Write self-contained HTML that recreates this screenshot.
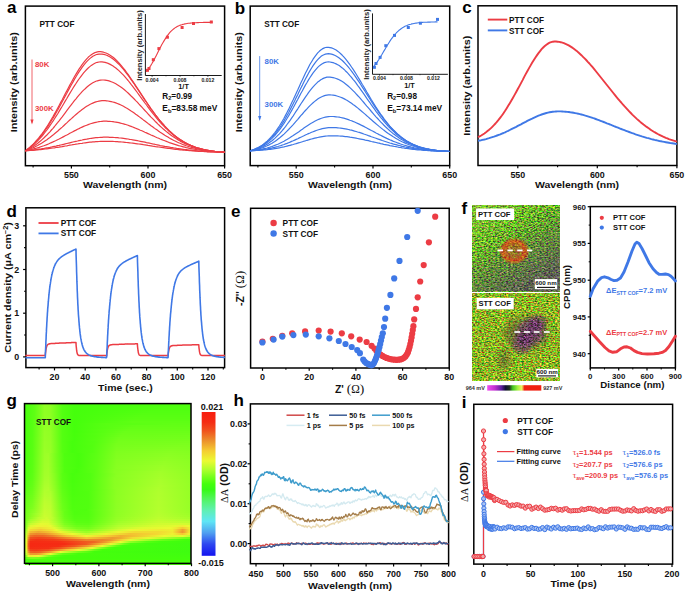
<!DOCTYPE html><html><head><meta charset="utf-8"><style>html,body{margin:0;padding:0;background:#fff;}svg{display:block;font-family:"Liberation Sans",sans-serif;font-weight:bold;}</style></head><body><svg width="685" height="592" viewBox="0 0 685 592"><defs><filter id="nA" x="0" y="0" width="100%" height="100%" color-interpolation-filters="sRGB"><feTurbulence type="fractalNoise" baseFrequency="0.45 0.8" numOctaves="2" seed="11"/><feColorMatrix type="matrix" values="1.0 1.0 0.5 0 -0.84  -0.4 1.6 -0.8 0 0.49  0 0.2 0.8 0 -0.34 0 0 0 0 1"/></filter><filter id="nB" x="0" y="0" width="100%" height="100%" color-interpolation-filters="sRGB"><feTurbulence type="fractalNoise" baseFrequency="0.45 0.8" numOctaves="2" seed="23"/><feColorMatrix type="matrix" values="1.4 0.9 0 0 -0.6  -0.6 1.4 -0.4 0 0.5  0 0.2 0.5 0 -0.2 0 0 0 0 1"/></filter><filter id="nP" x="0" y="0" width="100%" height="100%" color-interpolation-filters="sRGB"><feTurbulence type="fractalNoise" baseFrequency="0.45 0.8" numOctaves="2" seed="37"/><feColorMatrix type="matrix" values="0 1.5 0 0 -0.37  0.4 0.6 0 0 -0.38  0 1.6 0 0 -0.35 0 0 0 0 1"/></filter><filter id="nR" x="0" y="0" width="100%" height="100%" color-interpolation-filters="sRGB"><feTurbulence type="fractalNoise" baseFrequency="0.45 0.8" numOctaves="2" seed="41"/><feColorMatrix type="matrix" values="0 0.3 0 0 0.79  -0.5 1.0 0 0 0.02  0 0 0 0 0.08 0 0 0 0 1"/></filter><filter id="nD" x="0" y="0" width="100%" height="100%" color-interpolation-filters="sRGB"><feTurbulence type="fractalNoise" baseFrequency="0.45 0.8" numOctaves="2" seed="53"/><feColorMatrix type="matrix" values="0 0.8 0 0 -0.05  0 0.9 -0.4 0 -0.01  0 0.8 0.5 0 -0.25 0 0 0 0 1"/></filter><filter id="nK" x="0" y="0" width="100%" height="100%" color-interpolation-filters="sRGB"><feTurbulence type="fractalNoise" baseFrequency="0.45 0.8" numOctaves="2" seed="59"/><feColorMatrix type="matrix" values="0.3 0.6 0.3 0 -0.25  0 0.8 0 0 -0.1  0.3 0.4 0.3 0 -0.3 0 0 0 0 1"/></filter><radialGradient id="mRing"><stop offset="0" stop-color="#fff" stop-opacity="0.35"/><stop offset="0.45" stop-color="#fff" stop-opacity="0.45"/><stop offset="0.72" stop-color="#fff" stop-opacity="0.75"/><stop offset="0.88" stop-color="#fff" stop-opacity="0.4"/><stop offset="1" stop-color="#fff" stop-opacity="0"/></radialGradient><mask id="mkRing"><ellipse cx="514.2" cy="251.0" rx="15.5" ry="13.5" fill="url(#mRing)"/></mask><linearGradient id="mShadeA" x1="0" y1="0" x2="0.6" y2="1"><stop offset="0.4" stop-color="#fff" stop-opacity="0"/><stop offset="1" stop-color="#fff" stop-opacity="0.7"/></linearGradient><linearGradient id="lightA" x1="0" y1="0" x2="0.8" y2="1"><stop offset="0" stop-color="#c8f050" stop-opacity="0.28"/><stop offset="0.5" stop-color="#c8f050" stop-opacity="0"/></linearGradient><mask id="mkShadeA"><rect x="472.4" y="205.1" width="87.4" height="86.3" fill="url(#mShadeA)"/></mask><radialGradient id="mBlob"><stop offset="0" stop-color="#fff" stop-opacity="0.75"/><stop offset="0.6" stop-color="#fff" stop-opacity="0.55"/><stop offset="1" stop-color="#fff" stop-opacity="0"/></radialGradient><mask id="mkBlob"><ellipse cx="531" cy="332" rx="18" ry="17" fill="url(#mBlob)"/><ellipse cx="522" cy="344" rx="12" ry="12" fill="url(#mBlob)" opacity="0.9"/><ellipse cx="538" cy="322" rx="11" ry="9" fill="url(#mBlob)" opacity="0.7"/></mask><radialGradient id="mBlob2"><stop offset="0" stop-color="#fff" stop-opacity="0.6"/><stop offset="1" stop-color="#fff" stop-opacity="0"/></radialGradient><mask id="mkBlob2"><ellipse cx="504" cy="360" rx="10" ry="14" fill="url(#mBlob2)"/><ellipse cx="512" cy="333" rx="12" ry="20" fill="url(#mBlob2)"/><ellipse cx="530" cy="333" rx="26" ry="24" fill="url(#mBlob2)"/></mask><linearGradient id="afmcb" x1="0" x2="1" y1="0" y2="0"><stop offset="0" stop-color="#f050f0"/><stop offset="0.14" stop-color="#c030d0"/><stop offset="0.26" stop-color="#6020a0"/><stop offset="0.34" stop-color="#101030"/><stop offset="0.41" stop-color="#203020"/><stop offset="0.47" stop-color="#40c020"/><stop offset="0.56" stop-color="#a0f040"/><stop offset="0.64" stop-color="#f0f060"/><stop offset="0.69" stop-color="#f02010"/><stop offset="1" stop-color="#f02010"/></linearGradient><linearGradient id="g0" x1="0" x2="1" y1="0" y2="0"><stop offset="0.000" stop-color="#46ff0d"/><stop offset="0.060" stop-color="#5eff14"/><stop offset="0.120" stop-color="#8eff23"/><stop offset="0.156" stop-color="#8bff22"/><stop offset="0.228" stop-color="#53ff10"/><stop offset="0.300" stop-color="#45ff0c"/><stop offset="1.000" stop-color="#4dff0f"/></linearGradient><linearGradient id="g1" x1="0" x2="1" y1="0" y2="0"><stop offset="0.000" stop-color="#46ff0d"/><stop offset="0.060" stop-color="#5eff14"/><stop offset="0.120" stop-color="#8fff23"/><stop offset="0.156" stop-color="#8bff22"/><stop offset="0.228" stop-color="#53ff10"/><stop offset="0.300" stop-color="#45ff0c"/><stop offset="0.925" stop-color="#4fff0f"/><stop offset="1.000" stop-color="#4fff0f"/></linearGradient><linearGradient id="g2" x1="0" x2="1" y1="0" y2="0"><stop offset="0.000" stop-color="#46ff0d"/><stop offset="0.060" stop-color="#5eff14"/><stop offset="0.120" stop-color="#8fff23"/><stop offset="0.156" stop-color="#8cff22"/><stop offset="0.228" stop-color="#53ff11"/><stop offset="0.300" stop-color="#45ff0c"/><stop offset="0.853" stop-color="#50ff10"/><stop offset="1.000" stop-color="#50ff10"/></linearGradient><linearGradient id="g3" x1="0" x2="1" y1="0" y2="0"><stop offset="0.000" stop-color="#46ff0d"/><stop offset="0.060" stop-color="#5eff14"/><stop offset="0.120" stop-color="#8fff23"/><stop offset="0.156" stop-color="#8cff22"/><stop offset="0.228" stop-color="#53ff11"/><stop offset="0.300" stop-color="#45ff0c"/><stop offset="0.793" stop-color="#52ff10"/><stop offset="1.000" stop-color="#51ff10"/></linearGradient><linearGradient id="g4" x1="0" x2="1" y1="0" y2="0"><stop offset="0.000" stop-color="#46ff0d"/><stop offset="0.060" stop-color="#5eff14"/><stop offset="0.120" stop-color="#8fff23"/><stop offset="0.156" stop-color="#8cff22"/><stop offset="0.228" stop-color="#53ff11"/><stop offset="0.300" stop-color="#45ff0c"/><stop offset="0.757" stop-color="#53ff11"/><stop offset="1.000" stop-color="#53ff11"/></linearGradient><linearGradient id="g5" x1="0" x2="1" y1="0" y2="0"><stop offset="0.000" stop-color="#46ff0d"/><stop offset="0.060" stop-color="#5eff14"/><stop offset="0.120" stop-color="#90ff23"/><stop offset="0.156" stop-color="#8dff22"/><stop offset="0.228" stop-color="#53ff11"/><stop offset="0.300" stop-color="#45ff0c"/><stop offset="0.721" stop-color="#55ff11"/><stop offset="1.000" stop-color="#55ff11"/></linearGradient><linearGradient id="g6" x1="0" x2="1" y1="0" y2="0"><stop offset="0.000" stop-color="#46ff0d"/><stop offset="0.060" stop-color="#5eff14"/><stop offset="0.120" stop-color="#90ff23"/><stop offset="0.156" stop-color="#8dff22"/><stop offset="0.228" stop-color="#53ff11"/><stop offset="0.300" stop-color="#45ff0c"/><stop offset="0.697" stop-color="#57ff12"/><stop offset="1.000" stop-color="#57ff12"/></linearGradient><linearGradient id="g7" x1="0" x2="1" y1="0" y2="0"><stop offset="0.000" stop-color="#46ff0d"/><stop offset="0.060" stop-color="#5fff14"/><stop offset="0.120" stop-color="#90ff24"/><stop offset="0.156" stop-color="#8dff23"/><stop offset="0.228" stop-color="#53ff11"/><stop offset="0.300" stop-color="#45ff0c"/><stop offset="0.673" stop-color="#59ff12"/><stop offset="1.000" stop-color="#59ff12"/></linearGradient><linearGradient id="g8" x1="0" x2="1" y1="0" y2="0"><stop offset="0.000" stop-color="#46ff0d"/><stop offset="0.048" stop-color="#56ff12"/><stop offset="0.120" stop-color="#91ff24"/><stop offset="0.156" stop-color="#8eff23"/><stop offset="0.228" stop-color="#53ff11"/><stop offset="0.300" stop-color="#45ff0c"/><stop offset="0.661" stop-color="#5bff13"/><stop offset="1.000" stop-color="#5bff13"/></linearGradient><linearGradient id="g9" x1="0" x2="1" y1="0" y2="0"><stop offset="0.000" stop-color="#46ff0d"/><stop offset="0.048" stop-color="#57ff12"/><stop offset="0.120" stop-color="#91ff24"/><stop offset="0.156" stop-color="#8eff23"/><stop offset="0.228" stop-color="#53ff11"/><stop offset="0.300" stop-color="#45ff0c"/><stop offset="0.649" stop-color="#5eff14"/><stop offset="1.000" stop-color="#5eff14"/></linearGradient><linearGradient id="g10" x1="0" x2="1" y1="0" y2="0"><stop offset="0.000" stop-color="#46ff0d"/><stop offset="0.048" stop-color="#57ff12"/><stop offset="0.120" stop-color="#92ff24"/><stop offset="0.156" stop-color="#8eff23"/><stop offset="0.228" stop-color="#53ff11"/><stop offset="0.300" stop-color="#45ff0c"/><stop offset="0.492" stop-color="#58ff12"/><stop offset="0.889" stop-color="#61ff15"/><stop offset="1.000" stop-color="#60ff15"/></linearGradient><linearGradient id="g11" x1="0" x2="1" y1="0" y2="0"><stop offset="0.000" stop-color="#46ff0d"/><stop offset="0.048" stop-color="#57ff12"/><stop offset="0.120" stop-color="#92ff24"/><stop offset="0.156" stop-color="#8fff23"/><stop offset="0.228" stop-color="#53ff11"/><stop offset="0.300" stop-color="#45ff0c"/><stop offset="0.468" stop-color="#56ff12"/><stop offset="0.673" stop-color="#63ff16"/><stop offset="1.000" stop-color="#63ff15"/></linearGradient><linearGradient id="g12" x1="0" x2="1" y1="0" y2="0"><stop offset="0.000" stop-color="#46ff0d"/><stop offset="0.048" stop-color="#57ff12"/><stop offset="0.120" stop-color="#93ff24"/><stop offset="0.156" stop-color="#8fff23"/><stop offset="0.228" stop-color="#53ff11"/><stop offset="0.300" stop-color="#45ff0c"/><stop offset="0.456" stop-color="#55ff11"/><stop offset="0.637" stop-color="#65ff16"/><stop offset="1.000" stop-color="#66ff16"/></linearGradient><linearGradient id="g13" x1="0" x2="1" y1="0" y2="0"><stop offset="0.000" stop-color="#46ff0d"/><stop offset="0.048" stop-color="#57ff12"/><stop offset="0.120" stop-color="#93ff24"/><stop offset="0.156" stop-color="#90ff23"/><stop offset="0.228" stop-color="#54ff11"/><stop offset="0.300" stop-color="#45ff0c"/><stop offset="0.456" stop-color="#57ff12"/><stop offset="0.625" stop-color="#68ff17"/><stop offset="1.000" stop-color="#68ff17"/></linearGradient><linearGradient id="g14" x1="0" x2="1" y1="0" y2="0"><stop offset="0.000" stop-color="#47ff0d"/><stop offset="0.048" stop-color="#57ff12"/><stop offset="0.120" stop-color="#94ff25"/><stop offset="0.156" stop-color="#91ff24"/><stop offset="0.228" stop-color="#54ff11"/><stop offset="0.300" stop-color="#45ff0c"/><stop offset="0.444" stop-color="#55ff11"/><stop offset="0.601" stop-color="#6aff18"/><stop offset="1.000" stop-color="#6bff18"/></linearGradient><linearGradient id="g15" x1="0" x2="1" y1="0" y2="0"><stop offset="0.000" stop-color="#47ff0d"/><stop offset="0.048" stop-color="#57ff12"/><stop offset="0.120" stop-color="#95ff25"/><stop offset="0.156" stop-color="#91ff24"/><stop offset="0.228" stop-color="#54ff11"/><stop offset="0.300" stop-color="#46ff0c"/><stop offset="0.444" stop-color="#57ff12"/><stop offset="0.589" stop-color="#6cff18"/><stop offset="1.000" stop-color="#6eff19"/></linearGradient><linearGradient id="g16" x1="0" x2="1" y1="0" y2="0"><stop offset="0.000" stop-color="#47ff0d"/><stop offset="0.048" stop-color="#57ff12"/><stop offset="0.120" stop-color="#95ff25"/><stop offset="0.156" stop-color="#92ff24"/><stop offset="0.228" stop-color="#54ff11"/><stop offset="0.300" stop-color="#46ff0c"/><stop offset="0.432" stop-color="#55ff11"/><stop offset="0.577" stop-color="#6eff19"/><stop offset="1.000" stop-color="#71ff1a"/></linearGradient><linearGradient id="g17" x1="0" x2="1" y1="0" y2="0"><stop offset="0.000" stop-color="#47ff0d"/><stop offset="0.048" stop-color="#58ff12"/><stop offset="0.120" stop-color="#96ff25"/><stop offset="0.156" stop-color="#92ff24"/><stop offset="0.228" stop-color="#54ff11"/><stop offset="0.300" stop-color="#46ff0d"/><stop offset="0.432" stop-color="#56ff11"/><stop offset="0.565" stop-color="#70ff1a"/><stop offset="1.000" stop-color="#73ff1b"/></linearGradient><linearGradient id="g18" x1="0" x2="1" y1="0" y2="0"><stop offset="0.000" stop-color="#47ff0d"/><stop offset="0.048" stop-color="#58ff12"/><stop offset="0.120" stop-color="#96ff25"/><stop offset="0.156" stop-color="#93ff24"/><stop offset="0.228" stop-color="#54ff11"/><stop offset="0.300" stop-color="#46ff0d"/><stop offset="0.432" stop-color="#57ff12"/><stop offset="0.565" stop-color="#73ff1a"/><stop offset="1.000" stop-color="#76ff1b"/></linearGradient><linearGradient id="g19" x1="0" x2="1" y1="0" y2="0"><stop offset="0.000" stop-color="#47ff0d"/><stop offset="0.048" stop-color="#58ff12"/><stop offset="0.120" stop-color="#97ff26"/><stop offset="0.156" stop-color="#94ff25"/><stop offset="0.228" stop-color="#54ff11"/><stop offset="0.288" stop-color="#46ff0d"/><stop offset="0.420" stop-color="#54ff11"/><stop offset="0.565" stop-color="#75ff1b"/><stop offset="1.000" stop-color="#79ff1c"/></linearGradient><linearGradient id="g20" x1="0" x2="1" y1="0" y2="0"><stop offset="0.000" stop-color="#47ff0d"/><stop offset="0.048" stop-color="#58ff12"/><stop offset="0.120" stop-color="#98ff26"/><stop offset="0.156" stop-color="#94ff25"/><stop offset="0.228" stop-color="#55ff11"/><stop offset="0.288" stop-color="#46ff0d"/><stop offset="0.420" stop-color="#55ff11"/><stop offset="0.553" stop-color="#76ff1b"/><stop offset="0.961" stop-color="#7cff1d"/><stop offset="1.000" stop-color="#7bff1d"/></linearGradient><linearGradient id="g21" x1="0" x2="1" y1="0" y2="0"><stop offset="0.000" stop-color="#47ff0d"/><stop offset="0.048" stop-color="#58ff12"/><stop offset="0.120" stop-color="#98ff26"/><stop offset="0.156" stop-color="#95ff25"/><stop offset="0.228" stop-color="#55ff11"/><stop offset="0.288" stop-color="#46ff0d"/><stop offset="0.408" stop-color="#53ff10"/><stop offset="0.553" stop-color="#78ff1c"/><stop offset="0.925" stop-color="#7fff1e"/><stop offset="1.000" stop-color="#7eff1e"/></linearGradient><linearGradient id="g22" x1="0" x2="1" y1="0" y2="0"><stop offset="0.000" stop-color="#47ff0d"/><stop offset="0.048" stop-color="#58ff12"/><stop offset="0.120" stop-color="#99ff26"/><stop offset="0.156" stop-color="#95ff25"/><stop offset="0.228" stop-color="#55ff11"/><stop offset="0.288" stop-color="#46ff0d"/><stop offset="0.408" stop-color="#53ff11"/><stop offset="0.553" stop-color="#7aff1d"/><stop offset="0.913" stop-color="#82ff1f"/><stop offset="1.000" stop-color="#80ff1f"/></linearGradient><linearGradient id="g23" x1="0" x2="1" y1="0" y2="0"><stop offset="0.000" stop-color="#47ff0d"/><stop offset="0.048" stop-color="#59ff12"/><stop offset="0.120" stop-color="#9aff26"/><stop offset="0.156" stop-color="#96ff25"/><stop offset="0.228" stop-color="#55ff11"/><stop offset="0.288" stop-color="#46ff0d"/><stop offset="0.408" stop-color="#54ff11"/><stop offset="0.553" stop-color="#7cff1d"/><stop offset="0.889" stop-color="#85ff20"/><stop offset="1.000" stop-color="#82ff1f"/></linearGradient><linearGradient id="g24" x1="0" x2="1" y1="0" y2="0"><stop offset="0.000" stop-color="#47ff0d"/><stop offset="0.048" stop-color="#59ff12"/><stop offset="0.120" stop-color="#9aff27"/><stop offset="0.156" stop-color="#97ff25"/><stop offset="0.228" stop-color="#55ff11"/><stop offset="0.288" stop-color="#46ff0d"/><stop offset="0.408" stop-color="#54ff11"/><stop offset="0.553" stop-color="#7eff1e"/><stop offset="0.877" stop-color="#88ff21"/><stop offset="1.000" stop-color="#84ff20"/></linearGradient><linearGradient id="g25" x1="0" x2="1" y1="0" y2="0"><stop offset="0.000" stop-color="#47ff0d"/><stop offset="0.048" stop-color="#59ff12"/><stop offset="0.120" stop-color="#9bff27"/><stop offset="0.144" stop-color="#9dff28"/><stop offset="0.192" stop-color="#74ff1b"/><stop offset="0.240" stop-color="#4fff0f"/><stop offset="0.324" stop-color="#47ff0d"/><stop offset="0.432" stop-color="#5cff14"/><stop offset="0.553" stop-color="#80ff1e"/><stop offset="0.865" stop-color="#8bff22"/><stop offset="1.000" stop-color="#86ff20"/></linearGradient><linearGradient id="g26" x1="0" x2="1" y1="0" y2="0"><stop offset="0.000" stop-color="#47ff0d"/><stop offset="0.048" stop-color="#59ff13"/><stop offset="0.120" stop-color="#9cff27"/><stop offset="0.144" stop-color="#9eff28"/><stop offset="0.192" stop-color="#74ff1b"/><stop offset="0.240" stop-color="#4fff10"/><stop offset="0.324" stop-color="#47ff0d"/><stop offset="0.432" stop-color="#5dff14"/><stop offset="0.553" stop-color="#81ff1f"/><stop offset="0.865" stop-color="#8dff23"/><stop offset="1.000" stop-color="#88ff21"/></linearGradient><linearGradient id="g27" x1="0" x2="1" y1="0" y2="0"><stop offset="0.000" stop-color="#47ff0d"/><stop offset="0.048" stop-color="#5aff13"/><stop offset="0.120" stop-color="#9cff27"/><stop offset="0.144" stop-color="#9fff28"/><stop offset="0.192" stop-color="#74ff1b"/><stop offset="0.240" stop-color="#50ff10"/><stop offset="0.324" stop-color="#47ff0d"/><stop offset="0.432" stop-color="#5dff14"/><stop offset="0.553" stop-color="#82ff1f"/><stop offset="0.853" stop-color="#90ff23"/><stop offset="1.000" stop-color="#89ff21"/></linearGradient><linearGradient id="g28" x1="0" x2="1" y1="0" y2="0"><stop offset="0.000" stop-color="#48ff0d"/><stop offset="0.048" stop-color="#5aff13"/><stop offset="0.120" stop-color="#9dff27"/><stop offset="0.144" stop-color="#9fff28"/><stop offset="0.192" stop-color="#75ff1b"/><stop offset="0.240" stop-color="#50ff10"/><stop offset="0.324" stop-color="#47ff0d"/><stop offset="0.432" stop-color="#5eff14"/><stop offset="0.553" stop-color="#84ff20"/><stop offset="0.853" stop-color="#92ff24"/><stop offset="1.000" stop-color="#8bff22"/></linearGradient><linearGradient id="g29" x1="0" x2="1" y1="0" y2="0"><stop offset="0.000" stop-color="#48ff0d"/><stop offset="0.048" stop-color="#5aff13"/><stop offset="0.120" stop-color="#9dff28"/><stop offset="0.144" stop-color="#a0ff28"/><stop offset="0.192" stop-color="#75ff1b"/><stop offset="0.240" stop-color="#50ff10"/><stop offset="0.324" stop-color="#47ff0d"/><stop offset="0.432" stop-color="#5eff14"/><stop offset="0.553" stop-color="#85ff20"/><stop offset="0.841" stop-color="#95ff25"/><stop offset="1.000" stop-color="#8cff22"/></linearGradient><linearGradient id="g30" x1="0" x2="1" y1="0" y2="0"><stop offset="0.000" stop-color="#48ff0d"/><stop offset="0.048" stop-color="#5aff13"/><stop offset="0.120" stop-color="#9eff28"/><stop offset="0.144" stop-color="#a1ff29"/><stop offset="0.192" stop-color="#76ff1b"/><stop offset="0.240" stop-color="#50ff10"/><stop offset="0.324" stop-color="#47ff0d"/><stop offset="0.432" stop-color="#5fff14"/><stop offset="0.553" stop-color="#86ff20"/><stop offset="0.841" stop-color="#97ff26"/><stop offset="1.000" stop-color="#8dff23"/></linearGradient><linearGradient id="g31" x1="0" x2="1" y1="0" y2="0"><stop offset="0.000" stop-color="#48ff0d"/><stop offset="0.048" stop-color="#5bff13"/><stop offset="0.120" stop-color="#9fff28"/><stop offset="0.144" stop-color="#a1ff29"/><stop offset="0.192" stop-color="#76ff1b"/><stop offset="0.240" stop-color="#50ff10"/><stop offset="0.324" stop-color="#47ff0d"/><stop offset="0.432" stop-color="#5fff14"/><stop offset="0.553" stop-color="#87ff21"/><stop offset="0.829" stop-color="#9aff27"/><stop offset="1.000" stop-color="#8eff23"/></linearGradient><linearGradient id="g32" x1="0" x2="1" y1="0" y2="0"><stop offset="0.000" stop-color="#49ff0d"/><stop offset="0.048" stop-color="#5bff13"/><stop offset="0.120" stop-color="#9fff28"/><stop offset="0.144" stop-color="#a2ff29"/><stop offset="0.192" stop-color="#77ff1c"/><stop offset="0.240" stop-color="#51ff10"/><stop offset="0.324" stop-color="#48ff0d"/><stop offset="0.432" stop-color="#5fff14"/><stop offset="0.553" stop-color="#88ff21"/><stop offset="0.829" stop-color="#9cff27"/><stop offset="1.000" stop-color="#8fff23"/></linearGradient><linearGradient id="g33" x1="0" x2="1" y1="0" y2="0"><stop offset="0.000" stop-color="#49ff0e"/><stop offset="0.048" stop-color="#5cff13"/><stop offset="0.120" stop-color="#a0ff28"/><stop offset="0.144" stop-color="#a3ff29"/><stop offset="0.192" stop-color="#77ff1c"/><stop offset="0.240" stop-color="#51ff10"/><stop offset="0.312" stop-color="#47ff0d"/><stop offset="0.420" stop-color="#5bff13"/><stop offset="0.541" stop-color="#86ff20"/><stop offset="0.829" stop-color="#9eff28"/><stop offset="1.000" stop-color="#90ff24"/></linearGradient><linearGradient id="g34" x1="0" x2="1" y1="0" y2="0"><stop offset="0.000" stop-color="#4aff0e"/><stop offset="0.048" stop-color="#5cff13"/><stop offset="0.120" stop-color="#a1ff29"/><stop offset="0.144" stop-color="#a3ff29"/><stop offset="0.192" stop-color="#78ff1c"/><stop offset="0.240" stop-color="#51ff10"/><stop offset="0.312" stop-color="#47ff0d"/><stop offset="0.420" stop-color="#5bff13"/><stop offset="0.541" stop-color="#87ff21"/><stop offset="0.817" stop-color="#a1ff29"/><stop offset="1.000" stop-color="#91ff24"/></linearGradient><linearGradient id="g35" x1="0" x2="1" y1="0" y2="0"><stop offset="0.000" stop-color="#4aff0e"/><stop offset="0.048" stop-color="#5dff14"/><stop offset="0.120" stop-color="#a2ff29"/><stop offset="0.144" stop-color="#a4ff2a"/><stop offset="0.180" stop-color="#86ff20"/><stop offset="0.228" stop-color="#58ff12"/><stop offset="0.288" stop-color="#47ff0d"/><stop offset="0.396" stop-color="#53ff11"/><stop offset="0.553" stop-color="#89ff21"/><stop offset="0.817" stop-color="#a3ff29"/><stop offset="1.000" stop-color="#92ff24"/></linearGradient><linearGradient id="g36" x1="0" x2="1" y1="0" y2="0"><stop offset="0.000" stop-color="#4bff0e"/><stop offset="0.048" stop-color="#5eff14"/><stop offset="0.120" stop-color="#a3ff29"/><stop offset="0.144" stop-color="#a5ff2a"/><stop offset="0.180" stop-color="#87ff21"/><stop offset="0.228" stop-color="#59ff12"/><stop offset="0.288" stop-color="#48ff0d"/><stop offset="0.396" stop-color="#53ff11"/><stop offset="0.553" stop-color="#8aff22"/><stop offset="0.817" stop-color="#a4ff2a"/><stop offset="1.000" stop-color="#93ff24"/></linearGradient><linearGradient id="g37" x1="0" x2="1" y1="0" y2="0"><stop offset="0.000" stop-color="#4cff0f"/><stop offset="0.048" stop-color="#5fff14"/><stop offset="0.120" stop-color="#a4ff2a"/><stop offset="0.144" stop-color="#a7ff2a"/><stop offset="0.180" stop-color="#88ff21"/><stop offset="0.228" stop-color="#59ff13"/><stop offset="0.288" stop-color="#48ff0d"/><stop offset="0.396" stop-color="#53ff11"/><stop offset="0.541" stop-color="#88ff21"/><stop offset="0.817" stop-color="#a6ff2a"/><stop offset="1.000" stop-color="#93ff24"/></linearGradient><linearGradient id="g38" x1="0" x2="1" y1="0" y2="0"><stop offset="0.000" stop-color="#4dff0f"/><stop offset="0.048" stop-color="#60ff15"/><stop offset="0.120" stop-color="#a5ff2a"/><stop offset="0.144" stop-color="#a8ff2b"/><stop offset="0.180" stop-color="#89ff21"/><stop offset="0.228" stop-color="#5aff13"/><stop offset="0.288" stop-color="#48ff0d"/><stop offset="0.396" stop-color="#54ff11"/><stop offset="0.541" stop-color="#89ff21"/><stop offset="0.817" stop-color="#a8ff2b"/><stop offset="1.000" stop-color="#94ff25"/></linearGradient><linearGradient id="g39" x1="0" x2="1" y1="0" y2="0"><stop offset="0.000" stop-color="#4fff0f"/><stop offset="0.048" stop-color="#62ff15"/><stop offset="0.120" stop-color="#a7ff2b"/><stop offset="0.144" stop-color="#a9ff2b"/><stop offset="0.180" stop-color="#8bff22"/><stop offset="0.228" stop-color="#5bff13"/><stop offset="0.288" stop-color="#48ff0d"/><stop offset="0.396" stop-color="#54ff11"/><stop offset="0.541" stop-color="#89ff21"/><stop offset="0.817" stop-color="#a9ff2b"/><stop offset="1.000" stop-color="#94ff25"/></linearGradient><linearGradient id="g40" x1="0" x2="1" y1="0" y2="0"><stop offset="0.000" stop-color="#50ff10"/><stop offset="0.048" stop-color="#63ff16"/><stop offset="0.120" stop-color="#a9ff2b"/><stop offset="0.144" stop-color="#abff2c"/><stop offset="0.180" stop-color="#8cff22"/><stop offset="0.228" stop-color="#5cff13"/><stop offset="0.288" stop-color="#49ff0e"/><stop offset="0.396" stop-color="#54ff11"/><stop offset="0.541" stop-color="#89ff21"/><stop offset="0.817" stop-color="#aaff2c"/><stop offset="1.000" stop-color="#95ff25"/></linearGradient><linearGradient id="g41" x1="0" x2="1" y1="0" y2="0"><stop offset="0.000" stop-color="#52ff10"/><stop offset="0.048" stop-color="#65ff16"/><stop offset="0.120" stop-color="#abff2c"/><stop offset="0.144" stop-color="#adff2c"/><stop offset="0.180" stop-color="#8eff23"/><stop offset="0.228" stop-color="#5dff14"/><stop offset="0.288" stop-color="#49ff0e"/><stop offset="0.396" stop-color="#54ff11"/><stop offset="0.541" stop-color="#89ff21"/><stop offset="0.817" stop-color="#acff2c"/><stop offset="1.000" stop-color="#95ff25"/></linearGradient><linearGradient id="g42" x1="0" x2="1" y1="0" y2="0"><stop offset="0.000" stop-color="#54ff11"/><stop offset="0.048" stop-color="#67ff17"/><stop offset="0.120" stop-color="#adff2c"/><stop offset="0.144" stop-color="#afff2d"/><stop offset="0.180" stop-color="#90ff23"/><stop offset="0.228" stop-color="#5eff14"/><stop offset="0.288" stop-color="#4aff0e"/><stop offset="0.396" stop-color="#54ff11"/><stop offset="0.541" stop-color="#8aff21"/><stop offset="0.805" stop-color="#adff2c"/><stop offset="1.000" stop-color="#95ff25"/></linearGradient><linearGradient id="g43" x1="0" x2="1" y1="0" y2="0"><stop offset="0.000" stop-color="#56ff12"/><stop offset="0.048" stop-color="#69ff17"/><stop offset="0.120" stop-color="#afff2d"/><stop offset="0.144" stop-color="#b1ff2d"/><stop offset="0.180" stop-color="#92ff24"/><stop offset="0.228" stop-color="#60ff15"/><stop offset="0.288" stop-color="#4aff0e"/><stop offset="0.396" stop-color="#54ff11"/><stop offset="0.553" stop-color="#8cff22"/><stop offset="0.805" stop-color="#aeff2d"/><stop offset="1.000" stop-color="#96ff25"/></linearGradient><linearGradient id="g44" x1="0" x2="1" y1="0" y2="0"><stop offset="0.000" stop-color="#58ff12"/><stop offset="0.048" stop-color="#6bff18"/><stop offset="0.120" stop-color="#b1ff2d"/><stop offset="0.156" stop-color="#adff2c"/><stop offset="0.228" stop-color="#61ff15"/><stop offset="0.288" stop-color="#4bff0e"/><stop offset="0.384" stop-color="#51ff10"/><stop offset="0.553" stop-color="#8cff22"/><stop offset="0.805" stop-color="#afff2d"/><stop offset="1.000" stop-color="#96ff25"/></linearGradient><linearGradient id="g45" x1="0" x2="1" y1="0" y2="0"><stop offset="0.000" stop-color="#5aff13"/><stop offset="0.048" stop-color="#6dff19"/><stop offset="0.120" stop-color="#b3ff2d"/><stop offset="0.156" stop-color="#afff2d"/><stop offset="0.228" stop-color="#63ff15"/><stop offset="0.288" stop-color="#4bff0e"/><stop offset="0.384" stop-color="#51ff10"/><stop offset="0.553" stop-color="#8cff22"/><stop offset="0.805" stop-color="#b0ff2d"/><stop offset="1.000" stop-color="#96ff25"/></linearGradient><linearGradient id="g46" x1="0" x2="1" y1="0" y2="0"><stop offset="0.000" stop-color="#5dff14"/><stop offset="0.048" stop-color="#70ff19"/><stop offset="0.120" stop-color="#b5fe2e"/><stop offset="0.156" stop-color="#b1ff2d"/><stop offset="0.228" stop-color="#64ff16"/><stop offset="0.288" stop-color="#4cff0e"/><stop offset="0.384" stop-color="#51ff10"/><stop offset="0.553" stop-color="#8dff22"/><stop offset="0.805" stop-color="#b0ff2d"/><stop offset="1.000" stop-color="#96ff25"/></linearGradient><linearGradient id="g47" x1="0" x2="1" y1="0" y2="0"><stop offset="0.000" stop-color="#5fff14"/><stop offset="0.048" stop-color="#72ff1a"/><stop offset="0.120" stop-color="#b8fe2e"/><stop offset="0.156" stop-color="#b3ff2d"/><stop offset="0.228" stop-color="#66ff16"/><stop offset="0.288" stop-color="#4dff0f"/><stop offset="0.384" stop-color="#51ff10"/><stop offset="0.553" stop-color="#8dff22"/><stop offset="0.805" stop-color="#b1ff2d"/><stop offset="1.000" stop-color="#96ff25"/></linearGradient><linearGradient id="g48" x1="0" x2="1" y1="0" y2="0"><stop offset="0.000" stop-color="#61ff15"/><stop offset="0.048" stop-color="#75ff1b"/><stop offset="0.120" stop-color="#bafe2e"/><stop offset="0.156" stop-color="#b5fe2e"/><stop offset="0.228" stop-color="#67ff17"/><stop offset="0.288" stop-color="#4dff0f"/><stop offset="0.384" stop-color="#51ff10"/><stop offset="0.553" stop-color="#8dff22"/><stop offset="0.805" stop-color="#b1ff2d"/><stop offset="1.000" stop-color="#97ff25"/></linearGradient><linearGradient id="g49" x1="0" x2="1" y1="0" y2="0"><stop offset="0.000" stop-color="#63ff16"/><stop offset="0.048" stop-color="#77ff1c"/><stop offset="0.120" stop-color="#bcfe2e"/><stop offset="0.156" stop-color="#b7fe2e"/><stop offset="0.228" stop-color="#68ff17"/><stop offset="0.288" stop-color="#4eff0f"/><stop offset="0.384" stop-color="#51ff10"/><stop offset="0.553" stop-color="#8dff22"/><stop offset="0.805" stop-color="#b2ff2d"/><stop offset="1.000" stop-color="#97ff25"/></linearGradient><linearGradient id="g50" x1="0" x2="1" y1="0" y2="0"><stop offset="0.000" stop-color="#65ff16"/><stop offset="0.048" stop-color="#7aff1d"/><stop offset="0.120" stop-color="#befe2e"/><stop offset="0.156" stop-color="#b9fe2e"/><stop offset="0.228" stop-color="#6aff18"/><stop offset="0.288" stop-color="#4eff0f"/><stop offset="0.384" stop-color="#51ff10"/><stop offset="0.553" stop-color="#8dff23"/><stop offset="0.805" stop-color="#b2ff2d"/><stop offset="1.000" stop-color="#97ff26"/></linearGradient><linearGradient id="g51" x1="0" x2="1" y1="0" y2="0"><stop offset="0.000" stop-color="#67ff17"/><stop offset="0.048" stop-color="#7cff1d"/><stop offset="0.120" stop-color="#c0fe2e"/><stop offset="0.156" stop-color="#bbfe2e"/><stop offset="0.228" stop-color="#6bff18"/><stop offset="0.288" stop-color="#4fff0f"/><stop offset="0.384" stop-color="#51ff10"/><stop offset="0.553" stop-color="#8dff23"/><stop offset="0.805" stop-color="#b2ff2d"/><stop offset="1.000" stop-color="#97ff26"/></linearGradient><linearGradient id="g52" x1="0" x2="1" y1="0" y2="0"><stop offset="0.000" stop-color="#69ff17"/><stop offset="0.048" stop-color="#7fff1e"/><stop offset="0.120" stop-color="#c1fd2f"/><stop offset="0.156" stop-color="#bcfe2e"/><stop offset="0.228" stop-color="#6cff18"/><stop offset="0.288" stop-color="#4fff0f"/><stop offset="0.384" stop-color="#51ff10"/><stop offset="0.553" stop-color="#8dff23"/><stop offset="0.805" stop-color="#b3ff2d"/><stop offset="1.000" stop-color="#97ff26"/></linearGradient><linearGradient id="g53" x1="0" x2="1" y1="0" y2="0"><stop offset="0.000" stop-color="#6aff18"/><stop offset="0.060" stop-color="#8dff22"/><stop offset="0.120" stop-color="#c3fd2f"/><stop offset="0.156" stop-color="#befe2e"/><stop offset="0.228" stop-color="#6eff19"/><stop offset="0.288" stop-color="#50ff10"/><stop offset="0.372" stop-color="#4fff0f"/><stop offset="0.553" stop-color="#8eff23"/><stop offset="0.805" stop-color="#b3ff2d"/><stop offset="1.000" stop-color="#98ff26"/></linearGradient><linearGradient id="g54" x1="0" x2="1" y1="0" y2="0"><stop offset="0.000" stop-color="#6bff18"/><stop offset="0.060" stop-color="#90ff24"/><stop offset="0.120" stop-color="#c5fd2f"/><stop offset="0.156" stop-color="#bffe2e"/><stop offset="0.240" stop-color="#66ff16"/><stop offset="0.300" stop-color="#4eff0f"/><stop offset="0.384" stop-color="#52ff10"/><stop offset="0.553" stop-color="#8eff23"/><stop offset="0.805" stop-color="#b4ff2d"/><stop offset="1.000" stop-color="#99ff26"/></linearGradient><linearGradient id="g55" x1="0" x2="1" y1="0" y2="0"><stop offset="0.000" stop-color="#6cff18"/><stop offset="0.072" stop-color="#a1ff29"/><stop offset="0.120" stop-color="#c7fd2f"/><stop offset="0.156" stop-color="#c1fd2f"/><stop offset="0.240" stop-color="#67ff17"/><stop offset="0.300" stop-color="#4fff0f"/><stop offset="0.384" stop-color="#52ff10"/><stop offset="0.553" stop-color="#8fff23"/><stop offset="0.805" stop-color="#b6fe2e"/><stop offset="1.000" stop-color="#9cff27"/></linearGradient><linearGradient id="g56" x1="0" x2="1" y1="0" y2="0"><stop offset="0.000" stop-color="#6eff19"/><stop offset="0.120" stop-color="#cafd2f"/><stop offset="0.156" stop-color="#c3fd2f"/><stop offset="0.240" stop-color="#69ff18"/><stop offset="0.300" stop-color="#51ff10"/><stop offset="0.384" stop-color="#53ff10"/><stop offset="0.553" stop-color="#90ff23"/><stop offset="0.805" stop-color="#b8fe2e"/><stop offset="1.000" stop-color="#a0ff28"/></linearGradient><linearGradient id="g57" x1="0" x2="1" y1="0" y2="0"><stop offset="0.000" stop-color="#6fff19"/><stop offset="0.084" stop-color="#bafe2e"/><stop offset="0.132" stop-color="#cffc30"/><stop offset="0.168" stop-color="#bbfe2e"/><stop offset="0.240" stop-color="#6cff18"/><stop offset="0.300" stop-color="#53ff11"/><stop offset="0.384" stop-color="#54ff11"/><stop offset="0.553" stop-color="#93ff24"/><stop offset="0.805" stop-color="#bcfe2e"/><stop offset="1.000" stop-color="#a6ff2a"/></linearGradient><linearGradient id="g58" x1="0" x2="1" y1="0" y2="0"><stop offset="0.000" stop-color="#70ff19"/><stop offset="0.012" stop-color="#7bff1d"/><stop offset="0.036" stop-color="#9fff28"/><stop offset="0.108" stop-color="#d0fc30"/><stop offset="0.144" stop-color="#d1fc30"/><stop offset="0.192" stop-color="#a3ff29"/><stop offset="0.240" stop-color="#71ff1a"/><stop offset="0.300" stop-color="#56ff12"/><stop offset="0.384" stop-color="#56ff11"/><stop offset="0.553" stop-color="#96ff25"/><stop offset="0.805" stop-color="#c1fe2e"/><stop offset="1.000" stop-color="#b0ff2d"/></linearGradient><linearGradient id="g59" x1="0" x2="1" y1="0" y2="0"><stop offset="0.000" stop-color="#71ff1a"/><stop offset="0.012" stop-color="#80ff1e"/><stop offset="0.024" stop-color="#9eff28"/><stop offset="0.048" stop-color="#b7fe2e"/><stop offset="0.108" stop-color="#dafb31"/><stop offset="0.144" stop-color="#d7fc30"/><stop offset="0.192" stop-color="#a9ff2b"/><stop offset="0.240" stop-color="#76ff1c"/><stop offset="0.312" stop-color="#59ff12"/><stop offset="0.384" stop-color="#59ff12"/><stop offset="0.565" stop-color="#9fff28"/><stop offset="0.805" stop-color="#c7fd2f"/><stop offset="1.000" stop-color="#bdfe2e"/></linearGradient><linearGradient id="g60" x1="0" x2="1" y1="0" y2="0"><stop offset="0.000" stop-color="#72ff1a"/><stop offset="0.012" stop-color="#86ff20"/><stop offset="0.024" stop-color="#afff2d"/><stop offset="0.036" stop-color="#c3fd2f"/><stop offset="0.096" stop-color="#e6fa32"/><stop offset="0.144" stop-color="#e1fb31"/><stop offset="0.192" stop-color="#b2ff2d"/><stop offset="0.240" stop-color="#7fff1e"/><stop offset="0.312" stop-color="#60ff15"/><stop offset="0.384" stop-color="#5eff14"/><stop offset="0.565" stop-color="#a7ff2b"/><stop offset="0.793" stop-color="#cffc30"/><stop offset="0.937" stop-color="#d3fc30"/><stop offset="0.997" stop-color="#cefc30"/><stop offset="1.000" stop-color="#cdfd2f"/></linearGradient><linearGradient id="g61" x1="0" x2="1" y1="0" y2="0"><stop offset="0.000" stop-color="#74ff1b"/><stop offset="0.012" stop-color="#8fff23"/><stop offset="0.024" stop-color="#c2fd2f"/><stop offset="0.036" stop-color="#dcfb31"/><stop offset="0.072" stop-color="#ecf632"/><stop offset="0.132" stop-color="#ecf332"/><stop offset="0.156" stop-color="#e6fa32"/><stop offset="0.240" stop-color="#8bff22"/><stop offset="0.312" stop-color="#6aff18"/><stop offset="0.384" stop-color="#67ff17"/><stop offset="0.565" stop-color="#b2ff2d"/><stop offset="0.769" stop-color="#d6fc30"/><stop offset="0.901" stop-color="#e1fb31"/><stop offset="0.949" stop-color="#eeef32"/><stop offset="0.985" stop-color="#ebf932"/><stop offset="1.000" stop-color="#ddfb31"/></linearGradient><linearGradient id="g62" x1="0" x2="1" y1="0" y2="0"><stop offset="0.000" stop-color="#76ff1b"/><stop offset="0.012" stop-color="#99ff26"/><stop offset="0.024" stop-color="#dafb31"/><stop offset="0.036" stop-color="#edf032"/><stop offset="0.096" stop-color="#f1df32"/><stop offset="0.156" stop-color="#edf032"/><stop offset="0.180" stop-color="#e0fb31"/><stop offset="0.240" stop-color="#9eff28"/><stop offset="0.312" stop-color="#79ff1c"/><stop offset="0.384" stop-color="#72ff1a"/><stop offset="0.565" stop-color="#befe2e"/><stop offset="0.697" stop-color="#ddfb31"/><stop offset="0.877" stop-color="#ebf932"/><stop offset="0.913" stop-color="#efe832"/><stop offset="0.949" stop-color="#f5ca32"/><stop offset="0.985" stop-color="#efe732"/><stop offset="1.000" stop-color="#e7fa32"/></linearGradient><linearGradient id="g63" x1="0" x2="1" y1="0" y2="0"><stop offset="0.000" stop-color="#78ff1c"/><stop offset="0.012" stop-color="#a5ff2a"/><stop offset="0.024" stop-color="#edf332"/><stop offset="0.036" stop-color="#f2d932"/><stop offset="0.096" stop-color="#f4c932"/><stop offset="0.168" stop-color="#efe732"/><stop offset="0.192" stop-color="#ebf932"/><stop offset="0.240" stop-color="#b8fe2e"/><stop offset="0.324" stop-color="#8aff22"/><stop offset="0.384" stop-color="#83ff1f"/><stop offset="0.565" stop-color="#d1fc30"/><stop offset="0.637" stop-color="#ebf832"/><stop offset="0.829" stop-color="#efea32"/><stop offset="0.889" stop-color="#eeee32"/><stop offset="0.937" stop-color="#f1b230"/><stop offset="0.949" stop-color="#eea02e"/><stop offset="0.961" stop-color="#f0ae2f"/><stop offset="0.997" stop-color="#ecf432"/><stop offset="1.000" stop-color="#eafa32"/></linearGradient><linearGradient id="g64" x1="0" x2="1" y1="0" y2="0"><stop offset="0.000" stop-color="#7bff1d"/><stop offset="0.012" stop-color="#b3ff2d"/><stop offset="0.024" stop-color="#f1de32"/><stop offset="0.036" stop-color="#f2bb31"/><stop offset="0.084" stop-color="#efa82f"/><stop offset="0.144" stop-color="#f3be31"/><stop offset="0.216" stop-color="#ecf532"/><stop offset="0.324" stop-color="#aaff2b"/><stop offset="0.372" stop-color="#99ff26"/><stop offset="0.565" stop-color="#ecf632"/><stop offset="0.661" stop-color="#f2db32"/><stop offset="0.805" stop-color="#f2da32"/><stop offset="0.889" stop-color="#efea32"/><stop offset="0.925" stop-color="#f2b930"/><stop offset="0.949" stop-color="#ed992e"/><stop offset="0.961" stop-color="#f0aa2f"/><stop offset="0.985" stop-color="#f2dd32"/><stop offset="1.000" stop-color="#e9fa32"/></linearGradient><linearGradient id="g65" x1="0" x2="1" y1="0" y2="0"><stop offset="0.000" stop-color="#7eff1e"/><stop offset="0.012" stop-color="#c1fe2e"/><stop offset="0.024" stop-color="#f4c732"/><stop offset="0.036" stop-color="#ed972e"/><stop offset="0.072" stop-color="#ed872b"/><stop offset="0.120" stop-color="#ec8f2d"/><stop offset="0.180" stop-color="#f2b630"/><stop offset="0.240" stop-color="#f0e432"/><stop offset="0.288" stop-color="#ebfa32"/><stop offset="0.372" stop-color="#bdfe2e"/><stop offset="0.492" stop-color="#ecf532"/><stop offset="0.637" stop-color="#f3c231"/><stop offset="0.781" stop-color="#f3d532"/><stop offset="0.889" stop-color="#edf132"/><stop offset="0.949" stop-color="#f4c631"/><stop offset="0.985" stop-color="#eeee32"/><stop offset="1.000" stop-color="#defb31"/></linearGradient><linearGradient id="g66" x1="0" x2="1" y1="0" y2="0"><stop offset="0.000" stop-color="#81ff1f"/><stop offset="0.012" stop-color="#cffc30"/><stop offset="0.024" stop-color="#f0aa2f"/><stop offset="0.036" stop-color="#ee7226"/><stop offset="0.060" stop-color="#ef6422"/><stop offset="0.108" stop-color="#ef6523"/><stop offset="0.168" stop-color="#ed8129"/><stop offset="0.252" stop-color="#f3bf31"/><stop offset="0.372" stop-color="#ecf632"/><stop offset="0.505" stop-color="#f5ca32"/><stop offset="0.577" stop-color="#f0ae2f"/><stop offset="0.637" stop-color="#f2bb30"/><stop offset="0.841" stop-color="#ebfa32"/><stop offset="0.889" stop-color="#dcfb31"/><stop offset="0.949" stop-color="#e4fb31"/><stop offset="1.000" stop-color="#b6fe2e"/></linearGradient><linearGradient id="g67" x1="0" x2="1" y1="0" y2="0"><stop offset="0.000" stop-color="#84ff20"/><stop offset="0.012" stop-color="#dcfb31"/><stop offset="0.024" stop-color="#ec8f2c"/><stop offset="0.036" stop-color="#f0501e"/><stop offset="0.084" stop-color="#f2441a"/><stop offset="0.168" stop-color="#f0551f"/><stop offset="0.348" stop-color="#f2b830"/><stop offset="0.372" stop-color="#f4c631"/><stop offset="0.529" stop-color="#ed992e"/><stop offset="0.577" stop-color="#efa82f"/><stop offset="0.649" stop-color="#f2db32"/><stop offset="0.745" stop-color="#e3fb31"/><stop offset="0.925" stop-color="#8bff22"/><stop offset="1.000" stop-color="#67ff17"/></linearGradient><linearGradient id="g68" x1="0" x2="1" y1="0" y2="0"><stop offset="0.000" stop-color="#86ff20"/><stop offset="0.012" stop-color="#e8fa32"/><stop offset="0.024" stop-color="#ee7627"/><stop offset="0.036" stop-color="#f33c18"/><stop offset="0.072" stop-color="#f43115"/><stop offset="0.180" stop-color="#f33c18"/><stop offset="0.312" stop-color="#ef6923"/><stop offset="0.372" stop-color="#ed842a"/><stop offset="0.468" stop-color="#ed8129"/><stop offset="0.517" stop-color="#ec932d"/><stop offset="0.589" stop-color="#f3d632"/><stop offset="0.637" stop-color="#e5fa32"/><stop offset="0.757" stop-color="#91ff24"/><stop offset="0.829" stop-color="#68ff17"/><stop offset="0.961" stop-color="#44ff0c"/><stop offset="1.000" stop-color="#43fe0d"/></linearGradient><linearGradient id="g69" x1="0" x2="1" y1="0" y2="0"><stop offset="0.000" stop-color="#88ff21"/><stop offset="0.012" stop-color="#ecf632"/><stop offset="0.024" stop-color="#ef6422"/><stop offset="0.036" stop-color="#f52c14"/><stop offset="0.216" stop-color="#f52f15"/><stop offset="0.420" stop-color="#ef6723"/><stop offset="0.492" stop-color="#ee9e2e"/><stop offset="0.541" stop-color="#f3d732"/><stop offset="0.577" stop-color="#ebf932"/><stop offset="0.637" stop-color="#90ff23"/><stop offset="0.733" stop-color="#56ff12"/><stop offset="0.817" stop-color="#43ff0d"/><stop offset="1.000" stop-color="#40fd0f"/></linearGradient><linearGradient id="g70" x1="0" x2="1" y1="0" y2="0"><stop offset="0.000" stop-color="#89ff21"/><stop offset="0.012" stop-color="#edf332"/><stop offset="0.024" stop-color="#f05a20"/><stop offset="0.036" stop-color="#f62913"/><stop offset="0.240" stop-color="#f52b14"/><stop offset="0.372" stop-color="#f05920"/><stop offset="0.468" stop-color="#f3bd31"/><stop offset="0.517" stop-color="#edf332"/><stop offset="0.541" stop-color="#cdfc30"/><stop offset="0.601" stop-color="#6cff18"/><stop offset="0.637" stop-color="#4cff0f"/><stop offset="0.745" stop-color="#41fe0e"/><stop offset="1.000" stop-color="#3ffd10"/></linearGradient><linearGradient id="g71" x1="0" x2="1" y1="0" y2="0"><stop offset="0.000" stop-color="#8aff21"/><stop offset="0.012" stop-color="#edf232"/><stop offset="0.024" stop-color="#f05820"/><stop offset="0.036" stop-color="#f62913"/><stop offset="0.204" stop-color="#f52d14"/><stop offset="0.300" stop-color="#f0571f"/><stop offset="0.384" stop-color="#eea02e"/><stop offset="0.432" stop-color="#f3d832"/><stop offset="0.468" stop-color="#e8fa32"/><stop offset="0.517" stop-color="#92ff24"/><stop offset="0.553" stop-color="#5fff14"/><stop offset="0.589" stop-color="#45ff0c"/><stop offset="1.000" stop-color="#3ffd10"/></linearGradient><linearGradient id="g72" x1="0" x2="1" y1="0" y2="0"><stop offset="0.000" stop-color="#89ff21"/><stop offset="0.012" stop-color="#ecf532"/><stop offset="0.024" stop-color="#ef6322"/><stop offset="0.036" stop-color="#f52d14"/><stop offset="0.144" stop-color="#f43015"/><stop offset="0.216" stop-color="#f0531e"/><stop offset="0.324" stop-color="#f1b230"/><stop offset="0.396" stop-color="#edf232"/><stop offset="0.408" stop-color="#e5fb31"/><stop offset="0.468" stop-color="#7fff1e"/><stop offset="0.505" stop-color="#54ff11"/><stop offset="0.541" stop-color="#43ff0d"/><stop offset="1.000" stop-color="#3ffd10"/></linearGradient><linearGradient id="g73" x1="0" x2="1" y1="0" y2="0"><stop offset="0.000" stop-color="#87ff21"/><stop offset="0.012" stop-color="#e8fa32"/><stop offset="0.024" stop-color="#ee7927"/><stop offset="0.036" stop-color="#f24019"/><stop offset="0.072" stop-color="#f33b18"/><stop offset="0.144" stop-color="#f0501d"/><stop offset="0.204" stop-color="#ec8d2c"/><stop offset="0.252" stop-color="#f4c431"/><stop offset="0.324" stop-color="#e8fa32"/><stop offset="0.372" stop-color="#b7fe2e"/><stop offset="0.420" stop-color="#6cff18"/><stop offset="0.468" stop-color="#45ff0c"/><stop offset="1.000" stop-color="#3ffd10"/></linearGradient><linearGradient id="g74" x1="0" x2="1" y1="0" y2="0"><stop offset="0.000" stop-color="#83ff1f"/><stop offset="0.012" stop-color="#dafb31"/><stop offset="0.024" stop-color="#ed992e"/><stop offset="0.036" stop-color="#ef6122"/><stop offset="0.060" stop-color="#ef5a20"/><stop offset="0.096" stop-color="#ef6422"/><stop offset="0.156" stop-color="#ee9f2e"/><stop offset="0.192" stop-color="#f3d632"/><stop offset="0.216" stop-color="#ebf832"/><stop offset="0.240" stop-color="#c7fd2f"/><stop offset="0.324" stop-color="#75ff1b"/><stop offset="0.420" stop-color="#43fe0d"/><stop offset="1.000" stop-color="#3ffd10"/></linearGradient><linearGradient id="g75" x1="0" x2="1" y1="0" y2="0"><stop offset="0.000" stop-color="#7cff1d"/><stop offset="0.012" stop-color="#c4fd2f"/><stop offset="0.024" stop-color="#f4c431"/><stop offset="0.036" stop-color="#ed992e"/><stop offset="0.072" stop-color="#ed992e"/><stop offset="0.096" stop-color="#efa82f"/><stop offset="0.132" stop-color="#f2da32"/><stop offset="0.156" stop-color="#e8fa32"/><stop offset="0.204" stop-color="#82ff1f"/><stop offset="0.228" stop-color="#64ff16"/><stop offset="0.324" stop-color="#45ff0c"/><stop offset="1.000" stop-color="#40fe0f"/></linearGradient><linearGradient id="g76" x1="0" x2="1" y1="0" y2="0"><stop offset="0.000" stop-color="#6bff18"/><stop offset="0.012" stop-color="#98ff26"/><stop offset="0.024" stop-color="#e4fb31"/><stop offset="0.036" stop-color="#eeed32"/><stop offset="0.084" stop-color="#ecf632"/><stop offset="0.108" stop-color="#c2fd2f"/><stop offset="0.144" stop-color="#7dff1e"/><stop offset="0.180" stop-color="#57ff12"/><stop offset="0.240" stop-color="#44ff0c"/><stop offset="1.000" stop-color="#42fe0e"/></linearGradient><linearGradient id="g77" x1="0" x2="1" y1="0" y2="0"><stop offset="0.000" stop-color="#52ff10"/><stop offset="0.024" stop-color="#77ff1c"/><stop offset="0.048" stop-color="#7eff1e"/><stop offset="0.084" stop-color="#74ff1b"/><stop offset="0.132" stop-color="#51ff10"/><stop offset="0.216" stop-color="#43ff0c"/><stop offset="1.000" stop-color="#43ff0d"/></linearGradient><linearGradient id="g78" x1="0" x2="1" y1="0" y2="0"><stop offset="0.000" stop-color="#48ff0d"/><stop offset="0.072" stop-color="#4eff0f"/><stop offset="0.312" stop-color="#45ff0c"/><stop offset="1.000" stop-color="#45ff0c"/></linearGradient><linearGradient id="g79" x1="0" x2="1" y1="0" y2="0"><stop offset="0.000" stop-color="#4aff0e"/><stop offset="1.000" stop-color="#49ff0e"/></linearGradient><linearGradient id="g80" x1="0" x2="1" y1="0" y2="0"><stop offset="0.000" stop-color="#4dff0f"/><stop offset="1.000" stop-color="#4dff0f"/></linearGradient><linearGradient id="gcb" x1="0" x2="0" y1="0" y2="1"><stop offset="0.000" stop-color="#f81e0f"/><stop offset="0.070" stop-color="#f52c14"/><stop offset="0.130" stop-color="#f0521e"/><stop offset="0.200" stop-color="#ec912d"/><stop offset="0.270" stop-color="#f5cd32"/><stop offset="0.340" stop-color="#ebfa32"/><stop offset="0.400" stop-color="#afff2d"/><stop offset="0.450" stop-color="#78ff1c"/><stop offset="0.500" stop-color="#44ff0c"/><stop offset="0.540" stop-color="#37fa16"/><stop offset="0.600" stop-color="#50f55a"/><stop offset="0.680" stop-color="#5ff0af"/><stop offset="0.760" stop-color="#5fe6f5"/><stop offset="0.840" stop-color="#50a0f0"/><stop offset="0.920" stop-color="#2d46f0"/><stop offset="1.000" stop-color="#1414f0"/></linearGradient></defs><rect width="685" height="592" fill="#fff"/><text x="7" y="13" font-size="17" fill="#000">a</text>
<rect x="25.4" y="6.1" width="199.2" height="159.6" fill="none" stroke="#000" stroke-width="1.5"/>
<line x1="71.4" y1="165.7" x2="71.4" y2="168.5" stroke="#000" stroke-width="1.2"/>
<text x="71.4" y="177.6" font-size="8.9" text-anchor="middle" fill="#111">550</text>
<line x1="148" y1="165.7" x2="148" y2="168.5" stroke="#000" stroke-width="1.2"/>
<text x="148" y="177.6" font-size="8.9" text-anchor="middle" fill="#111">600</text>
<line x1="224.6" y1="165.7" x2="224.6" y2="168.5" stroke="#000" stroke-width="1.2"/>
<text x="224.6" y="177.6" font-size="8.9" text-anchor="middle" fill="#111">650</text>
<line x1="33.1" y1="165.7" x2="33.1" y2="167.5" stroke="#000" stroke-width="1.1"/>
<line x1="109.7" y1="165.7" x2="109.7" y2="167.5" stroke="#000" stroke-width="1.1"/>
<line x1="186.3" y1="165.7" x2="186.3" y2="167.5" stroke="#000" stroke-width="1.1"/>
<path d="M25.4 150.8 L26.9 149.7 L28.5 148.4 L30 147.1 L31.5 145.7 L33.1 144.3 L34.6 142.7 L36.1 141 L37.7 139.2 L39.2 137.4 L40.7 135.4 L42.3 133.4 L43.8 131.3 L45.3 129 L46.9 126.7 L48.4 124.3 L49.9 121.8 L51.4 119.3 L53 116.6 L54.5 113.9 L56 111.2 L57.6 108.4 L59.1 105.5 L60.6 102.6 L62.2 99.7 L63.7 96.8 L65.2 93.8 L66.8 90.9 L68.3 88 L69.8 85.1 L71.4 82.3 L72.9 79.5 L74.4 76.8 L76 74.1 L77.5 71.6 L79 69.1 L80.6 66.8 L82.1 64.6 L83.6 62.6 L85.2 60.7 L86.7 58.9 L88.2 57.3 L89.8 55.9 L91.3 54.7 L92.8 53.7 L94.4 52.9 L95.9 52.3 L97.4 51.9 L99 51.7 L100.5 51.7 L102 51.9 L103.5 52.2 L105.1 52.7 L106.6 53.3 L108.1 54 L109.7 54.9 L111.2 55.9 L112.7 57 L114.3 58.3 L115.8 59.7 L117.3 61.2 L118.9 62.8 L120.4 64.6 L121.9 66.4 L123.5 68.3 L125 70.2 L126.5 72.3 L128.1 74.4 L129.6 76.6 L131.1 78.8 L132.7 81.1 L134.2 83.4 L135.7 85.7 L137.3 88 L138.8 90.4 L140.3 92.7 L141.9 95.1 L143.4 97.4 L144.9 99.7 L146.5 102 L148 104.3 L149.5 106.6 L151 108.8 L152.6 110.9 L154.1 113 L155.6 115.1 L157.2 117.1 L158.7 119 L160.2 120.9 L161.8 122.8 L163.3 124.5 L164.8 126.2 L166.4 127.9 L167.9 129.4 L169.4 130.9 L171 132.4 L172.5 133.7 L174 135.1 L175.6 136.3 L177.1 137.5 L178.6 138.6 L180.2 139.7 L181.7 140.6 L183.2 141.6 L184.8 142.5 L186.3 143.3 L187.8 144.1 L189.4 144.8 L190.9 145.5 L192.4 146.1 L194 146.7 L195.5 147.2 L197 147.8 L198.6 148.2 L200.1 148.7 L201.6 149.1 L203.1 149.4 L204.7 149.8 L206.2 150.1 L207.7 150.4 L209.3 150.6 L210.8 150.9 L212.3 151.1 L213.9 151.3 L215.4 151.5 L216.9 151.7 L218.5 151.8 L220 152 L221.5 152.1 L223.1 152.2 L224.6 152.3" fill="none" stroke="#ec3c44" stroke-width="1.2" stroke-linejoin="round"/>
<path d="M25.4 150.8 L26.9 149.7 L28.5 148.6 L30 147.3 L31.5 146 L33.1 144.6 L34.6 143.1 L36.1 141.5 L37.7 139.8 L39.2 138.1 L40.7 136.2 L42.3 134.3 L43.8 132.2 L45.3 130.1 L46.9 127.9 L48.4 125.6 L49.9 123.2 L51.4 120.7 L53 118.2 L54.5 115.6 L56 112.9 L57.6 110.2 L59.1 107.5 L60.6 104.7 L62.2 101.8 L63.7 99 L65.2 96.1 L66.8 93.3 L68.3 90.4 L69.8 87.6 L71.4 84.8 L72.9 82.1 L74.4 79.4 L76 76.8 L77.5 74.3 L79 71.9 L80.6 69.6 L82.1 67.4 L83.6 65.3 L85.2 63.4 L86.7 61.7 L88.2 60.1 L89.8 58.6 L91.3 57.4 L92.8 56.3 L94.4 55.5 L95.9 54.8 L97.4 54.3 L99 54.1 L100.5 54 L102 54.1 L103.5 54.4 L105.1 54.7 L106.6 55.3 L108.1 55.9 L109.7 56.8 L111.2 57.7 L112.7 58.8 L114.3 60 L115.8 61.3 L117.3 62.7 L118.9 64.2 L120.4 65.9 L121.9 67.6 L123.5 69.4 L125 71.3 L126.5 73.3 L128.1 75.4 L129.6 77.5 L131.1 79.6 L132.7 81.8 L134.2 84 L135.7 86.3 L137.3 88.6 L138.8 90.9 L140.3 93.2 L141.9 95.5 L143.4 97.8 L144.9 100.1 L146.5 102.3 L148 104.5 L149.5 106.7 L151 108.9 L152.6 111 L154.1 113.1 L155.6 115.2 L157.2 117.1 L158.7 119.1 L160.2 120.9 L161.8 122.7 L163.3 124.5 L164.8 126.2 L166.4 127.8 L167.9 129.4 L169.4 130.9 L171 132.3 L172.5 133.7 L174 135 L175.6 136.2 L177.1 137.4 L178.6 138.5 L180.2 139.6 L181.7 140.6 L183.2 141.5 L184.8 142.4 L186.3 143.2 L187.8 144 L189.4 144.7 L190.9 145.4 L192.4 146 L194 146.6 L195.5 147.2 L197 147.7 L198.6 148.2 L200.1 148.6 L201.6 149 L203.1 149.4 L204.7 149.7 L206.2 150.1 L207.7 150.3 L209.3 150.6 L210.8 150.9 L212.3 151.1 L213.9 151.3 L215.4 151.5 L216.9 151.6 L218.5 151.8 L220 151.9 L221.5 152.1 L223.1 152.2 L224.6 152.3" fill="none" stroke="#ec3c44" stroke-width="1.2" stroke-linejoin="round"/>
<path d="M25.4 150.8 L26.9 149.8 L28.5 148.8 L30 147.6 L31.5 146.4 L33.1 145.2 L34.6 143.8 L36.1 142.4 L37.7 140.8 L39.2 139.2 L40.7 137.5 L42.3 135.8 L43.8 133.9 L45.3 132 L46.9 130 L48.4 127.9 L49.9 125.7 L51.4 123.5 L53 121.2 L54.5 118.8 L56 116.4 L57.6 114 L59.1 111.4 L60.6 108.9 L62.2 106.3 L63.7 103.7 L65.2 101.1 L66.8 98.5 L68.3 95.9 L69.8 93.4 L71.4 90.8 L72.9 88.3 L74.4 85.9 L76 83.5 L77.5 81.2 L79 79 L80.6 76.8 L82.1 74.8 L83.6 72.9 L85.2 71.1 L86.7 69.5 L88.2 68 L89.8 66.6 L91.3 65.4 L92.8 64.4 L94.4 63.5 L95.9 62.8 L97.4 62.3 L99 62 L100.5 61.9 L102 61.9 L103.5 62.1 L105.1 62.4 L106.6 62.8 L108.1 63.4 L109.7 64.1 L111.2 64.9 L112.7 65.8 L114.3 66.9 L115.8 68 L117.3 69.3 L118.9 70.6 L120.4 72.1 L121.9 73.6 L123.5 75.2 L125 76.9 L126.5 78.7 L128.1 80.5 L129.6 82.4 L131.1 84.4 L132.7 86.4 L134.2 88.4 L135.7 90.4 L137.3 92.5 L138.8 94.6 L140.3 96.7 L141.9 98.8 L143.4 100.9 L144.9 103 L146.5 105 L148 107.1 L149.5 109.1 L151 111.1 L152.6 113.1 L154.1 115 L155.6 116.9 L157.2 118.8 L158.7 120.6 L160.2 122.3 L161.8 124 L163.3 125.6 L164.8 127.2 L166.4 128.7 L167.9 130.2 L169.4 131.6 L171 133 L172.5 134.3 L174 135.5 L175.6 136.7 L177.1 137.8 L178.6 138.9 L180.2 139.9 L181.7 140.8 L183.2 141.7 L184.8 142.6 L186.3 143.4 L187.8 144.1 L189.4 144.8 L190.9 145.5 L192.4 146.1 L194 146.7 L195.5 147.2 L197 147.7 L198.6 148.2 L200.1 148.6 L201.6 149 L203.1 149.4 L204.7 149.7 L206.2 150 L207.7 150.3 L209.3 150.6 L210.8 150.8 L212.3 151.1 L213.9 151.3 L215.4 151.5 L216.9 151.6 L218.5 151.8 L220 151.9 L221.5 152.1 L223.1 152.2 L224.6 152.3" fill="none" stroke="#ec3c44" stroke-width="1.2" stroke-linejoin="round"/>
<path d="M25.4 150.8 L26.9 150.1 L28.5 149.3 L30 148.4 L31.5 147.5 L33.1 146.5 L34.6 145.5 L36.1 144.4 L37.7 143.3 L39.2 142 L40.7 140.8 L42.3 139.4 L43.8 138 L45.3 136.5 L46.9 135 L48.4 133.4 L49.9 131.8 L51.4 130 L53 128.3 L54.5 126.5 L56 124.6 L57.6 122.7 L59.1 120.8 L60.6 118.8 L62.2 116.8 L63.7 114.8 L65.2 112.8 L66.8 110.7 L68.3 108.7 L69.8 106.7 L71.4 104.6 L72.9 102.7 L74.4 100.7 L76 98.8 L77.5 96.9 L79 95.1 L80.6 93.4 L82.1 91.7 L83.6 90.1 L85.2 88.7 L86.7 87.3 L88.2 86 L89.8 84.8 L91.3 83.7 L92.8 82.8 L94.4 82 L95.9 81.3 L97.4 80.8 L99 80.4 L100.5 80.1 L102 80 L103.5 80 L105.1 80.1 L106.6 80.4 L108.1 80.7 L109.7 81.1 L111.2 81.7 L112.7 82.3 L114.3 83 L115.8 83.8 L117.3 84.7 L118.9 85.7 L120.4 86.7 L121.9 87.8 L123.5 89 L125 90.3 L126.5 91.6 L128.1 93 L129.6 94.5 L131.1 96 L132.7 97.5 L134.2 99 L135.7 100.6 L137.3 102.2 L138.8 103.9 L140.3 105.5 L141.9 107.2 L143.4 108.8 L144.9 110.5 L146.5 112.2 L148 113.8 L149.5 115.5 L151 117.1 L152.6 118.7 L154.1 120.2 L155.6 121.8 L157.2 123.3 L158.7 124.8 L160.2 126.2 L161.8 127.6 L163.3 129 L164.8 130.3 L166.4 131.6 L167.9 132.8 L169.4 134 L171 135.2 L172.5 136.3 L174 137.3 L175.6 138.3 L177.1 139.3 L178.6 140.2 L180.2 141.1 L181.7 141.9 L183.2 142.7 L184.8 143.4 L186.3 144.2 L187.8 144.8 L189.4 145.4 L190.9 146 L192.4 146.6 L194 147.1 L195.5 147.6 L197 148 L198.6 148.5 L200.1 148.9 L201.6 149.2 L203.1 149.6 L204.7 149.9 L206.2 150.2 L207.7 150.4 L209.3 150.7 L210.8 150.9 L212.3 151.1 L213.9 151.3 L215.4 151.5 L216.9 151.7 L218.5 151.8 L220 152 L221.5 152.1 L223.1 152.2 L224.6 152.3" fill="none" stroke="#ec3c44" stroke-width="1.2" stroke-linejoin="round"/>
<path d="M25.4 150.8 L26.9 150.3 L28.5 149.7 L30 149.1 L31.5 148.5 L33.1 147.8 L34.6 147.1 L36.1 146.3 L37.7 145.5 L39.2 144.6 L40.7 143.7 L42.3 142.8 L43.8 141.8 L45.3 140.8 L46.9 139.7 L48.4 138.6 L49.9 137.5 L51.4 136.3 L53 135.1 L54.5 133.8 L56 132.5 L57.6 131.2 L59.1 129.8 L60.6 128.5 L62.2 127.1 L63.7 125.7 L65.2 124.3 L66.8 122.9 L68.3 121.4 L69.8 120 L71.4 118.6 L72.9 117.2 L74.4 115.9 L76 114.5 L77.5 113.2 L79 111.9 L80.6 110.7 L82.1 109.5 L83.6 108.4 L85.2 107.3 L86.7 106.3 L88.2 105.4 L89.8 104.5 L91.3 103.8 L92.8 103.1 L94.4 102.4 L95.9 101.9 L97.4 101.5 L99 101.1 L100.5 100.9 L102 100.7 L103.5 100.7 L105.1 100.7 L106.6 100.8 L108.1 101 L109.7 101.3 L111.2 101.6 L112.7 102 L114.3 102.4 L115.8 102.9 L117.3 103.5 L118.9 104.1 L120.4 104.8 L121.9 105.5 L123.5 106.3 L125 107.2 L126.5 108.1 L128.1 109 L129.6 110 L131.1 111 L132.7 112 L134.2 113.1 L135.7 114.2 L137.3 115.3 L138.8 116.4 L140.3 117.6 L141.9 118.7 L143.4 119.9 L144.9 121 L146.5 122.2 L148 123.4 L149.5 124.5 L151 125.7 L152.6 126.8 L154.1 127.9 L155.6 129.1 L157.2 130.1 L158.7 131.2 L160.2 132.3 L161.8 133.3 L163.3 134.3 L164.8 135.3 L166.4 136.2 L167.9 137.1 L169.4 138 L171 138.9 L172.5 139.7 L174 140.5 L175.6 141.2 L177.1 142 L178.6 142.7 L180.2 143.3 L181.7 144 L183.2 144.6 L184.8 145.1 L186.3 145.7 L187.8 146.2 L189.4 146.7 L190.9 147.2 L192.4 147.6 L194 148 L195.5 148.4 L197 148.8 L198.6 149.1 L200.1 149.4 L201.6 149.7 L203.1 150 L204.7 150.2 L206.2 150.5 L207.7 150.7 L209.3 150.9 L210.8 151.1 L212.3 151.3 L213.9 151.4 L215.4 151.6 L216.9 151.7 L218.5 151.9 L220 152 L221.5 152.1 L223.1 152.2 L224.6 152.3" fill="none" stroke="#ec3c44" stroke-width="1.2" stroke-linejoin="round"/>
<path d="M25.4 150.8 L26.9 150.5 L28.5 150.2 L30 149.9 L31.5 149.5 L33.1 149.1 L34.6 148.7 L36.1 148.3 L37.7 147.8 L39.2 147.4 L40.7 146.8 L42.3 146.3 L43.8 145.8 L45.3 145.2 L46.9 144.6 L48.4 144 L49.9 143.3 L51.4 142.6 L53 141.9 L54.5 141.2 L56 140.5 L57.6 139.7 L59.1 139 L60.6 138.2 L62.2 137.4 L63.7 136.6 L65.2 135.8 L66.8 135 L68.3 134.2 L69.8 133.3 L71.4 132.5 L72.9 131.7 L74.4 130.9 L76 130.1 L77.5 129.3 L79 128.6 L80.6 127.8 L82.1 127.1 L83.6 126.4 L85.2 125.8 L86.7 125.2 L88.2 124.6 L89.8 124 L91.3 123.5 L92.8 123.1 L94.4 122.7 L95.9 122.3 L97.4 122 L99 121.7 L100.5 121.5 L102 121.3 L103.5 121.2 L105.1 121.2 L106.6 121.2 L108.1 121.3 L109.7 121.3 L111.2 121.5 L112.7 121.6 L114.3 121.9 L115.8 122.1 L117.3 122.4 L118.9 122.7 L120.4 123.1 L121.9 123.5 L123.5 123.9 L125 124.3 L126.5 124.8 L128.1 125.3 L129.6 125.9 L131.1 126.4 L132.7 127 L134.2 127.6 L135.7 128.2 L137.3 128.9 L138.8 129.5 L140.3 130.2 L141.9 130.8 L143.4 131.5 L144.9 132.2 L146.5 132.9 L148 133.6 L149.5 134.3 L151 135 L152.6 135.6 L154.1 136.3 L155.6 137 L157.2 137.7 L158.7 138.3 L160.2 139 L161.8 139.6 L163.3 140.2 L164.8 140.8 L166.4 141.4 L167.9 142 L169.4 142.6 L171 143.1 L172.5 143.6 L174 144.1 L175.6 144.6 L177.1 145.1 L178.6 145.6 L180.2 146 L181.7 146.4 L183.2 146.8 L184.8 147.2 L186.3 147.6 L187.8 147.9 L189.4 148.3 L190.9 148.6 L192.4 148.9 L194 149.2 L195.5 149.4 L197 149.7 L198.6 149.9 L200.1 150.2 L201.6 150.4 L203.1 150.6 L204.7 150.8 L206.2 150.9 L207.7 151.1 L209.3 151.2 L210.8 151.4 L212.3 151.5 L213.9 151.6 L215.4 151.8 L216.9 151.9 L218.5 152 L220 152.1 L221.5 152.1 L223.1 152.2 L224.6 152.3" fill="none" stroke="#ec3c44" stroke-width="1.2" stroke-linejoin="round"/>
<path d="M25.4 150.8 L26.9 150.7 L28.5 150.5 L30 150.4 L31.5 150.2 L33.1 150 L34.6 149.8 L36.1 149.6 L37.7 149.4 L39.2 149.2 L40.7 149 L42.3 148.7 L43.8 148.5 L45.3 148.2 L46.9 147.9 L48.4 147.7 L49.9 147.4 L51.4 147 L53 146.7 L54.5 146.4 L56 146.1 L57.6 145.7 L59.1 145.4 L60.6 145 L62.2 144.7 L63.7 144.3 L65.2 143.9 L66.8 143.5 L68.3 143.2 L69.8 142.8 L71.4 142.4 L72.9 142 L74.4 141.7 L76 141.3 L77.5 141 L79 140.6 L80.6 140.3 L82.1 140 L83.6 139.6 L85.2 139.3 L86.7 139.1 L88.2 138.8 L89.8 138.5 L91.3 138.3 L92.8 138.1 L94.4 137.9 L95.9 137.7 L97.4 137.6 L99 137.5 L100.5 137.4 L102 137.3 L103.5 137.2 L105.1 137.2 L106.6 137.2 L108.1 137.2 L109.7 137.3 L111.2 137.3 L112.7 137.4 L114.3 137.5 L115.8 137.6 L117.3 137.7 L118.9 137.9 L120.4 138 L121.9 138.2 L123.5 138.4 L125 138.6 L126.5 138.8 L128.1 139 L129.6 139.3 L131.1 139.5 L132.7 139.8 L134.2 140.1 L135.7 140.4 L137.3 140.7 L138.8 141 L140.3 141.3 L141.9 141.6 L143.4 141.9 L144.9 142.2 L146.5 142.6 L148 142.9 L149.5 143.2 L151 143.5 L152.6 143.9 L154.1 144.2 L155.6 144.5 L157.2 144.8 L158.7 145.1 L160.2 145.5 L161.8 145.8 L163.3 146.1 L164.8 146.4 L166.4 146.6 L167.9 146.9 L169.4 147.2 L171 147.5 L172.5 147.7 L174 148 L175.6 148.2 L177.1 148.5 L178.6 148.7 L180.2 148.9 L181.7 149.1 L183.2 149.3 L184.8 149.5 L186.3 149.7 L187.8 149.9 L189.4 150.1 L190.9 150.2 L192.4 150.4 L194 150.6 L195.5 150.7 L197 150.8 L198.6 151 L200.1 151.1 L201.6 151.2 L203.1 151.3 L204.7 151.4 L206.2 151.5 L207.7 151.6 L209.3 151.7 L210.8 151.8 L212.3 151.8 L213.9 151.9 L215.4 152 L216.9 152 L218.5 152.1 L220 152.2 L221.5 152.2 L223.1 152.3 L224.6 152.3" fill="none" stroke="#ec3c44" stroke-width="1.2" stroke-linejoin="round"/>
<path d="M25.4 150.8 L26.9 150.7 L28.5 150.6 L30 150.5 L31.5 150.4 L33.1 150.3 L34.6 150.1 L36.1 150 L37.7 149.9 L39.2 149.7 L40.7 149.6 L42.3 149.4 L43.8 149.2 L45.3 149 L46.9 148.8 L48.4 148.6 L49.9 148.4 L51.4 148.2 L53 148 L54.5 147.8 L56 147.5 L57.6 147.3 L59.1 147.1 L60.6 146.8 L62.2 146.6 L63.7 146.3 L65.2 146 L66.8 145.8 L68.3 145.5 L69.8 145.2 L71.4 145 L72.9 144.7 L74.4 144.5 L76 144.2 L77.5 144 L79 143.7 L80.6 143.5 L82.1 143.3 L83.6 143 L85.2 142.8 L86.7 142.6 L88.2 142.4 L89.8 142.2 L91.3 142.1 L92.8 141.9 L94.4 141.8 L95.9 141.7 L97.4 141.6 L99 141.5 L100.5 141.4 L102 141.4 L103.5 141.3 L105.1 141.3 L106.6 141.3 L108.1 141.3 L109.7 141.3 L111.2 141.4 L112.7 141.4 L114.3 141.5 L115.8 141.6 L117.3 141.7 L118.9 141.8 L120.4 141.9 L121.9 142 L123.5 142.1 L125 142.3 L126.5 142.5 L128.1 142.6 L129.6 142.8 L131.1 143 L132.7 143.2 L134.2 143.4 L135.7 143.6 L137.3 143.8 L138.8 144 L140.3 144.2 L141.9 144.4 L143.4 144.7 L144.9 144.9 L146.5 145.1 L148 145.4 L149.5 145.6 L151 145.8 L152.6 146.1 L154.1 146.3 L155.6 146.6 L157.2 146.8 L158.7 147 L160.2 147.2 L161.8 147.5 L163.3 147.7 L164.8 147.9 L166.4 148.1 L167.9 148.3 L169.4 148.5 L171 148.7 L172.5 148.9 L174 149.1 L175.6 149.3 L177.1 149.4 L178.6 149.6 L180.2 149.8 L181.7 149.9 L183.2 150.1 L184.8 150.2 L186.3 150.4 L187.8 150.5 L189.4 150.6 L190.9 150.7 L192.4 150.9 L194 151 L195.5 151.1 L197 151.2 L198.6 151.3 L200.1 151.4 L201.6 151.5 L203.1 151.5 L204.7 151.6 L206.2 151.7 L207.7 151.8 L209.3 151.8 L210.8 151.9 L212.3 151.9 L213.9 152 L215.4 152 L216.9 152.1 L218.5 152.1 L220 152.2 L221.5 152.2 L223.1 152.3 L224.6 152.3" fill="none" stroke="#ec3c44" stroke-width="1.2" stroke-linejoin="round"/>
<text x="39.4" y="26.6" font-size="8.2" text-anchor="start" fill="#111">PTT COF</text>
<line x1="32" y1="59.5" x2="32" y2="122.5" stroke="#ec3c44" stroke-width="0.8"/>
<path d="M32 124.5 L30.4 119.5 L33.6 119.5 Z" fill="#ec3c44"/>
<text x="35" y="67" font-size="7.8" text-anchor="start" fill="#ec3c44">80K</text>
<text x="35" y="110.6" font-size="7.8" text-anchor="start" fill="#ec3c44">300K</text>
<text x="162.3" y="98.8" font-size="8.2" fill="#111">R<tspan font-size="5.6" dy="1.6">2</tspan><tspan dy="-1.6">=0.99</tspan></text>
<text x="162.3" y="111.3" font-size="8.4" fill="#111">E<tspan font-size="5.8" dy="1.6">b</tspan><tspan dy="-1.6">=83.58 meV</tspan></text>
<line x1="145.4" y1="14" x2="145.4" y2="75.5" stroke="#000" stroke-width="0.9"/>
<line x1="145.4" y1="75.5" x2="221.7" y2="75.5" stroke="#000" stroke-width="0.9"/>
<line x1="152.1" y1="75.5" x2="152.1" y2="76.8" stroke="#000" stroke-width="0.7"/>
<text x="152.1" y="81.6" font-size="5.2" text-anchor="middle" fill="#222">0.004</text>
<line x1="180" y1="75.5" x2="180" y2="76.8" stroke="#000" stroke-width="0.7"/>
<text x="180" y="81.6" font-size="5.2" text-anchor="middle" fill="#222">0.008</text>
<line x1="207.9" y1="75.5" x2="207.9" y2="76.8" stroke="#000" stroke-width="0.7"/>
<text x="207.9" y="81.6" font-size="5.2" text-anchor="middle" fill="#222">0.012</text>
<line x1="166" y1="75.5" x2="166" y2="76.4" stroke="#000" stroke-width="0.6"/>
<line x1="193.9" y1="75.5" x2="193.9" y2="76.4" stroke="#000" stroke-width="0.6"/>
<text x="183.6" y="89.1" font-size="7.3" text-anchor="middle" fill="#111">1/T</text>
<text x="139" y="48.1" font-size="7.6" text-anchor="middle" fill="#2a2a2a" transform="rotate(-90 139 45.4)">Intensity (arb.units)</text>
<path d="M146.3 71.6 L147.4 70.3 L148.5 68.9 L149.6 67.3 L150.7 65.6 L151.8 63.8 L152.9 61.9 L154 59.9 L155.1 57.8 L156.2 55.7 L157.3 53.5 L158.4 51.3 L159.5 49.1 L160.6 46.9 L161.7 44.8 L162.9 42.8 L164 40.9 L165.1 39.1 L166.2 37.3 L167.3 35.7 L168.4 34.3 L169.5 32.9 L170.6 31.7 L171.7 30.6 L172.8 29.6 L173.9 28.7 L175 27.9 L176.1 27.2 L177.2 26.6 L178.3 26 L179.4 25.6 L180.5 25.1 L181.6 24.8 L182.7 24.4 L183.8 24.2 L184.9 23.9 L186 23.7 L187.1 23.5 L188.2 23.3 L189.3 23.2 L190.4 23.1 L191.5 23 L192.6 22.9 L193.7 22.8 L194.8 22.7 L195.9 22.7 L197.1 22.6 L198.2 22.6 L199.3 22.5 L200.4 22.5 L201.5 22.5 L202.6 22.5 L203.7 22.4 L204.8 22.4 L205.9 22.4 L207 22.4 L208.1 22.4 L209.2 22.4 L210.3 22.4 L211.4 22.3 L212.5 22.3" fill="none" stroke="#ec3c44" stroke-width="1.1" stroke-linejoin="round"/>
<rect x="146" y="68.8" width="3" height="3" fill="#ec3c44"/>
<rect x="147.5" y="67" width="3" height="3" fill="#ec3c44"/>
<rect x="151.8" y="58.2" width="3" height="3" fill="#ec3c44"/>
<rect x="157.4" y="47.1" width="3" height="3" fill="#ec3c44"/>
<rect x="165.9" y="35.7" width="3" height="3" fill="#ec3c44"/>
<rect x="180.6" y="26" width="3" height="3" fill="#ec3c44"/>
<rect x="192" y="22" width="3" height="3" fill="#ec3c44"/>
<rect x="209.8" y="20.5" width="3" height="3" fill="#ec3c44"/>
<text x="234.8" y="13.7" font-size="17" fill="#000">b</text>
<rect x="250.2" y="6.1" width="199.5" height="159.5" fill="none" stroke="#000" stroke-width="1.5"/>
<line x1="296.2" y1="165.6" x2="296.2" y2="168.4" stroke="#000" stroke-width="1.2"/>
<text x="296.2" y="177.6" font-size="8.9" text-anchor="middle" fill="#111">550</text>
<line x1="373" y1="165.6" x2="373" y2="168.4" stroke="#000" stroke-width="1.2"/>
<text x="373" y="177.6" font-size="8.9" text-anchor="middle" fill="#111">600</text>
<line x1="449.7" y1="165.6" x2="449.7" y2="168.4" stroke="#000" stroke-width="1.2"/>
<text x="449.7" y="177.6" font-size="8.9" text-anchor="middle" fill="#111">650</text>
<line x1="257.9" y1="165.6" x2="257.9" y2="167.4" stroke="#000" stroke-width="1.1"/>
<line x1="334.6" y1="165.6" x2="334.6" y2="167.4" stroke="#000" stroke-width="1.1"/>
<line x1="411.3" y1="165.6" x2="411.3" y2="167.4" stroke="#000" stroke-width="1.1"/>
<path d="M250.2 150.8 L251.7 150.3 L253.3 149.8 L254.8 149.1 L256.3 148.4 L257.9 147.7 L259.4 146.8 L260.9 145.9 L262.5 144.9 L264 143.7 L265.5 142.5 L267.1 141.1 L268.6 139.7 L270.1 138.1 L271.7 136.4 L273.2 134.6 L274.8 132.6 L276.3 130.6 L277.8 128.4 L279.4 126 L280.9 123.5 L282.4 121 L284 118.2 L285.5 115.4 L287 112.5 L288.6 109.4 L290.1 106.3 L291.6 103.1 L293.2 99.8 L294.7 96.5 L296.2 93.2 L297.8 89.8 L299.3 86.4 L300.8 83 L302.4 79.7 L303.9 76.4 L305.4 73.3 L307 70.2 L308.5 67.2 L310 64.3 L311.6 61.7 L313.1 59.2 L314.7 56.9 L316.2 54.8 L317.7 52.9 L319.3 51.3 L320.8 50 L322.3 48.9 L323.9 48.1 L325.4 47.5 L326.9 47.3 L328.5 47.3 L330 47.6 L331.5 47.9 L333.1 48.5 L334.6 49.2 L336.1 50.1 L337.7 51.2 L339.2 52.4 L340.7 53.8 L342.3 55.3 L343.8 56.9 L345.3 58.7 L346.9 60.6 L348.4 62.6 L349.9 64.7 L351.5 67 L353 69.2 L354.6 71.6 L356.1 74 L357.6 76.5 L359.2 79.1 L360.7 81.6 L362.2 84.2 L363.8 86.8 L365.3 89.4 L366.8 92 L368.4 94.6 L369.9 97.2 L371.4 99.7 L373 102.2 L374.5 104.7 L376 107.1 L377.6 109.5 L379.1 111.8 L380.6 114.1 L382.2 116.2 L383.7 118.4 L385.2 120.4 L386.8 122.4 L388.3 124.3 L389.8 126.1 L391.4 127.8 L392.9 129.5 L394.5 131 L396 132.5 L397.5 134 L399.1 135.3 L400.6 136.6 L402.1 137.8 L403.7 138.9 L405.2 140 L406.7 141 L408.3 141.9 L409.8 142.7 L411.3 143.5 L412.9 144.3 L414.4 145 L415.9 145.6 L417.5 146.2 L419 146.8 L420.5 147.3 L422.1 147.7 L423.6 148.1 L425.1 148.5 L426.7 148.9 L428.2 149.2 L429.8 149.5 L431.3 149.8 L432.8 150 L434.4 150.2 L435.9 150.4 L437.4 150.6 L439 150.8 L440.5 150.9 L442 151 L443.6 151.1 L445.1 151.2 L446.6 151.3 L448.2 151.4 L449.7 151.5" fill="none" stroke="#3f78e6" stroke-width="1.2" stroke-linejoin="round"/>
<path d="M250.2 150.8 L251.7 150.3 L253.3 149.8 L254.8 149.3 L256.3 148.6 L257.9 147.9 L259.4 147.2 L260.9 146.3 L262.5 145.3 L264 144.3 L265.5 143.2 L267.1 141.9 L268.6 140.6 L270.1 139.2 L271.7 137.6 L273.2 135.9 L274.8 134.1 L276.3 132.2 L277.8 130.2 L279.4 128 L280.9 125.8 L282.4 123.4 L284 120.9 L285.5 118.3 L287 115.5 L288.6 112.7 L290.1 109.8 L291.6 106.9 L293.2 103.8 L294.7 100.8 L296.2 97.6 L297.8 94.5 L299.3 91.3 L300.8 88.2 L302.4 85.1 L303.9 82 L305.4 79 L307 76.1 L308.5 73.3 L310 70.6 L311.6 68 L313.1 65.6 L314.7 63.4 L316.2 61.4 L317.7 59.6 L319.3 58 L320.8 56.6 L322.3 55.5 L323.9 54.7 L325.4 54.1 L326.9 53.8 L328.5 53.7 L330 53.8 L331.5 54.1 L333.1 54.6 L334.6 55.2 L336.1 56 L337.7 56.9 L339.2 58 L340.7 59.2 L342.3 60.5 L343.8 62 L345.3 63.6 L346.9 65.3 L348.4 67.1 L349.9 69 L351.5 71.1 L353 73.2 L354.6 75.3 L356.1 77.6 L357.6 79.8 L359.2 82.2 L360.7 84.5 L362.2 86.9 L363.8 89.4 L365.3 91.8 L366.8 94.2 L368.4 96.6 L369.9 99 L371.4 101.4 L373 103.8 L374.5 106.1 L376 108.4 L377.6 110.6 L379.1 112.8 L380.6 115 L382.2 117 L383.7 119.1 L385.2 121 L386.8 122.9 L388.3 124.7 L389.8 126.4 L391.4 128.1 L392.9 129.7 L394.5 131.2 L396 132.7 L397.5 134.1 L399.1 135.4 L400.6 136.6 L402.1 137.8 L403.7 138.9 L405.2 139.9 L406.7 140.9 L408.3 141.8 L409.8 142.7 L411.3 143.5 L412.9 144.2 L414.4 144.9 L415.9 145.5 L417.5 146.1 L419 146.7 L420.5 147.2 L422.1 147.6 L423.6 148.1 L425.1 148.4 L426.7 148.8 L428.2 149.1 L429.8 149.4 L431.3 149.7 L432.8 149.9 L434.4 150.2 L435.9 150.4 L437.4 150.6 L439 150.7 L440.5 150.9 L442 151 L443.6 151.1 L445.1 151.2 L446.6 151.3 L448.2 151.4 L449.7 151.5" fill="none" stroke="#3f78e6" stroke-width="1.2" stroke-linejoin="round"/>
<path d="M250.2 150.8 L251.7 150.4 L253.3 149.9 L254.8 149.4 L256.3 148.8 L257.9 148.1 L259.4 147.4 L260.9 146.6 L262.5 145.8 L264 144.8 L265.5 143.8 L267.1 142.6 L268.6 141.4 L270.1 140.1 L271.7 138.6 L273.2 137.1 L274.8 135.5 L276.3 133.7 L277.8 131.9 L279.4 129.9 L280.9 127.8 L282.4 125.6 L284 123.3 L285.5 121 L287 118.5 L288.6 115.9 L290.1 113.3 L291.6 110.6 L293.2 107.8 L294.7 105 L296.2 102.1 L297.8 99.3 L299.3 96.4 L300.8 93.5 L302.4 90.7 L303.9 87.9 L305.4 85.1 L307 82.5 L308.5 79.9 L310 77.5 L311.6 75.1 L313.1 72.9 L314.7 70.9 L316.2 69.1 L317.7 67.4 L319.3 65.9 L320.8 64.7 L322.3 63.7 L323.9 62.9 L325.4 62.3 L326.9 62 L328.5 61.9 L330 62 L331.5 62.3 L333.1 62.6 L334.6 63.2 L336.1 63.9 L337.7 64.7 L339.2 65.6 L340.7 66.7 L342.3 67.9 L343.8 69.2 L345.3 70.7 L346.9 72.2 L348.4 73.8 L349.9 75.6 L351.5 77.4 L353 79.3 L354.6 81.2 L356.1 83.2 L357.6 85.3 L359.2 87.4 L360.7 89.6 L362.2 91.7 L363.8 93.9 L365.3 96.1 L366.8 98.4 L368.4 100.6 L369.9 102.7 L371.4 104.9 L373 107.1 L374.5 109.2 L376 111.3 L377.6 113.4 L379.1 115.4 L380.6 117.3 L382.2 119.2 L383.7 121.1 L385.2 122.9 L386.8 124.6 L388.3 126.3 L389.8 127.9 L391.4 129.4 L392.9 130.9 L394.5 132.3 L396 133.7 L397.5 135 L399.1 136.2 L400.6 137.4 L402.1 138.5 L403.7 139.5 L405.2 140.5 L406.7 141.4 L408.3 142.2 L409.8 143 L411.3 143.8 L412.9 144.5 L414.4 145.1 L415.9 145.7 L417.5 146.3 L419 146.8 L420.5 147.3 L422.1 147.7 L423.6 148.2 L425.1 148.5 L426.7 148.9 L428.2 149.2 L429.8 149.5 L431.3 149.7 L432.8 150 L434.4 150.2 L435.9 150.4 L437.4 150.6 L439 150.7 L440.5 150.9 L442 151 L443.6 151.1 L445.1 151.2 L446.6 151.3 L448.2 151.4 L449.7 151.5" fill="none" stroke="#3f78e6" stroke-width="1.2" stroke-linejoin="round"/>
<path d="M250.2 150.8 L251.7 150.5 L253.3 150.1 L254.8 149.7 L256.3 149.2 L257.9 148.7 L259.4 148.1 L260.9 147.4 L262.5 146.7 L264 145.9 L265.5 145.1 L267.1 144.2 L268.6 143.2 L270.1 142.1 L271.7 141 L273.2 139.7 L274.8 138.4 L276.3 136.9 L277.8 135.4 L279.4 133.8 L280.9 132.1 L282.4 130.4 L284 128.5 L285.5 126.6 L287 124.5 L288.6 122.4 L290.1 120.3 L291.6 118.1 L293.2 115.8 L294.7 113.5 L296.2 111.1 L297.8 108.8 L299.3 106.4 L300.8 104 L302.4 101.7 L303.9 99.4 L305.4 97.1 L307 94.9 L308.5 92.7 L310 90.7 L311.6 88.7 L313.1 86.9 L314.7 85.1 L316.2 83.6 L317.7 82.1 L319.3 80.9 L320.8 79.8 L322.3 78.9 L323.9 78.1 L325.4 77.6 L326.9 77.2 L328.5 77.1 L330 77.1 L331.5 77.3 L333.1 77.6 L334.6 78 L336.1 78.5 L337.7 79.1 L339.2 79.8 L340.7 80.6 L342.3 81.6 L343.8 82.6 L345.3 83.7 L346.9 85 L348.4 86.3 L349.9 87.6 L351.5 89.1 L353 90.6 L354.6 92.2 L356.1 93.8 L357.6 95.5 L359.2 97.2 L360.7 98.9 L362.2 100.7 L363.8 102.5 L365.3 104.3 L366.8 106.1 L368.4 107.9 L369.9 109.7 L371.4 111.5 L373 113.3 L374.5 115.1 L376 116.8 L377.6 118.5 L379.1 120.2 L380.6 121.8 L382.2 123.4 L383.7 125 L385.2 126.5 L386.8 128 L388.3 129.4 L389.8 130.8 L391.4 132.1 L392.9 133.4 L394.5 134.6 L396 135.7 L397.5 136.8 L399.1 137.9 L400.6 138.9 L402.1 139.8 L403.7 140.7 L405.2 141.6 L406.7 142.4 L408.3 143.1 L409.8 143.8 L411.3 144.5 L412.9 145.1 L414.4 145.7 L415.9 146.2 L417.5 146.7 L419 147.2 L420.5 147.6 L422.1 148 L423.6 148.4 L425.1 148.7 L426.7 149.1 L428.2 149.3 L429.8 149.6 L431.3 149.8 L432.8 150.1 L434.4 150.3 L435.9 150.5 L437.4 150.6 L439 150.8 L440.5 150.9 L442 151 L443.6 151.1 L445.1 151.2 L446.6 151.3 L448.2 151.4 L449.7 151.5" fill="none" stroke="#3f78e6" stroke-width="1.2" stroke-linejoin="round"/>
<path d="M250.2 150.8 L251.7 150.5 L253.3 150.3 L254.8 149.9 L256.3 149.6 L257.9 149.2 L259.4 148.7 L260.9 148.3 L262.5 147.7 L264 147.1 L265.5 146.5 L267.1 145.8 L268.6 145.1 L270.1 144.3 L271.7 143.4 L273.2 142.5 L274.8 141.5 L276.3 140.4 L277.8 139.3 L279.4 138.1 L280.9 136.8 L282.4 135.5 L284 134.1 L285.5 132.6 L287 131.1 L288.6 129.5 L290.1 127.9 L291.6 126.3 L293.2 124.6 L294.7 122.8 L296.2 121.1 L297.8 119.3 L299.3 117.5 L300.8 115.7 L302.4 114 L303.9 112.2 L305.4 110.5 L307 108.8 L308.5 107.2 L310 105.6 L311.6 104.1 L313.1 102.7 L314.7 101.4 L316.2 100.2 L317.7 99.1 L319.3 98.1 L320.8 97.2 L322.3 96.5 L323.9 95.9 L325.4 95.4 L326.9 95.1 L328.5 94.9 L330 94.9 L331.5 95 L333.1 95.2 L334.6 95.4 L336.1 95.7 L337.7 96.2 L339.2 96.7 L340.7 97.2 L342.3 97.9 L343.8 98.6 L345.3 99.4 L346.9 100.3 L348.4 101.2 L349.9 102.2 L351.5 103.3 L353 104.4 L354.6 105.5 L356.1 106.7 L357.6 107.9 L359.2 109.2 L360.7 110.5 L362.2 111.8 L363.8 113.1 L365.3 114.4 L366.8 115.8 L368.4 117.1 L369.9 118.5 L371.4 119.8 L373 121.2 L374.5 122.5 L376 123.8 L377.6 125.1 L379.1 126.4 L380.6 127.6 L382.2 128.9 L383.7 130.1 L385.2 131.2 L386.8 132.4 L388.3 133.5 L389.8 134.5 L391.4 135.6 L392.9 136.6 L394.5 137.5 L396 138.4 L397.5 139.3 L399.1 140.2 L400.6 141 L402.1 141.7 L403.7 142.4 L405.2 143.1 L406.7 143.8 L408.3 144.4 L409.8 145 L411.3 145.5 L412.9 146 L414.4 146.5 L415.9 146.9 L417.5 147.4 L419 147.8 L420.5 148.1 L422.1 148.5 L423.6 148.8 L425.1 149.1 L426.7 149.3 L428.2 149.6 L429.8 149.8 L431.3 150 L432.8 150.2 L434.4 150.4 L435.9 150.6 L437.4 150.7 L439 150.8 L440.5 151 L442 151.1 L443.6 151.2 L445.1 151.3 L446.6 151.4 L448.2 151.4 L449.7 151.5" fill="none" stroke="#3f78e6" stroke-width="1.2" stroke-linejoin="round"/>
<path d="M250.2 150.8 L251.7 150.7 L253.3 150.5 L254.8 150.3 L256.3 150.1 L257.9 149.9 L259.4 149.6 L260.9 149.4 L262.5 149 L264 148.7 L265.5 148.4 L267.1 148 L268.6 147.5 L270.1 147.1 L271.7 146.6 L273.2 146 L274.8 145.4 L276.3 144.8 L277.8 144.2 L279.4 143.5 L280.9 142.7 L282.4 142 L284 141.2 L285.5 140.3 L287 139.4 L288.6 138.5 L290.1 137.6 L291.6 136.6 L293.2 135.6 L294.7 134.5 L296.2 133.5 L297.8 132.4 L299.3 131.4 L300.8 130.3 L302.4 129.2 L303.9 128.1 L305.4 127.1 L307 126 L308.5 125 L310 124 L311.6 123.1 L313.1 122.2 L314.7 121.3 L316.2 120.5 L317.7 119.8 L319.3 119.1 L320.8 118.5 L322.3 118 L323.9 117.5 L325.4 117.1 L326.9 116.8 L328.5 116.6 L330 116.5 L331.5 116.5 L333.1 116.5 L334.6 116.6 L336.1 116.8 L337.7 117 L339.2 117.2 L340.7 117.5 L342.3 117.8 L343.8 118.2 L345.3 118.6 L346.9 119.1 L348.4 119.6 L349.9 120.2 L351.5 120.7 L353 121.4 L354.6 122 L356.1 122.7 L357.6 123.4 L359.2 124.1 L360.7 124.9 L362.2 125.6 L363.8 126.4 L365.3 127.2 L366.8 128 L368.4 128.9 L369.9 129.7 L371.4 130.5 L373 131.3 L374.5 132.1 L376 133 L377.6 133.8 L379.1 134.6 L380.6 135.3 L382.2 136.1 L383.7 136.9 L385.2 137.6 L386.8 138.4 L388.3 139.1 L389.8 139.8 L391.4 140.4 L392.9 141.1 L394.5 141.7 L396 142.3 L397.5 142.9 L399.1 143.4 L400.6 144 L402.1 144.5 L403.7 145 L405.2 145.4 L406.7 145.9 L408.3 146.3 L409.8 146.7 L411.3 147.1 L412.9 147.4 L414.4 147.8 L415.9 148.1 L417.5 148.4 L419 148.7 L420.5 148.9 L422.1 149.2 L423.6 149.4 L425.1 149.6 L426.7 149.8 L428.2 150 L429.8 150.2 L431.3 150.3 L432.8 150.5 L434.4 150.6 L435.9 150.7 L437.4 150.9 L439 151 L440.5 151.1 L442 151.2 L443.6 151.2 L445.1 151.3 L446.6 151.4 L448.2 151.4 L449.7 151.5" fill="none" stroke="#3f78e6" stroke-width="1.2" stroke-linejoin="round"/>
<path d="M250.2 150.8 L251.7 150.7 L253.3 150.6 L254.8 150.5 L256.3 150.4 L257.9 150.2 L259.4 150.1 L260.9 149.9 L262.5 149.7 L264 149.5 L265.5 149.2 L267.1 149 L268.6 148.7 L270.1 148.4 L271.7 148.1 L273.2 147.7 L274.8 147.3 L276.3 146.9 L277.8 146.5 L279.4 146 L280.9 145.6 L282.4 145 L284 144.5 L285.5 143.9 L287 143.4 L288.6 142.7 L290.1 142.1 L291.6 141.4 L293.2 140.8 L294.7 140.1 L296.2 139.4 L297.8 138.7 L299.3 137.9 L300.8 137.2 L302.4 136.5 L303.9 135.8 L305.4 135 L307 134.3 L308.5 133.6 L310 133 L311.6 132.3 L313.1 131.7 L314.7 131.1 L316.2 130.5 L317.7 130 L319.3 129.5 L320.8 129.1 L322.3 128.7 L323.9 128.4 L325.4 128.1 L326.9 127.9 L328.5 127.7 L330 127.6 L331.5 127.6 L333.1 127.6 L334.6 127.7 L336.1 127.7 L337.7 127.8 L339.2 128 L340.7 128.2 L342.3 128.4 L343.8 128.6 L345.3 128.9 L346.9 129.2 L348.4 129.5 L349.9 129.9 L351.5 130.2 L353 130.6 L354.6 131.1 L356.1 131.5 L357.6 132 L359.2 132.4 L360.7 132.9 L362.2 133.4 L363.8 134 L365.3 134.5 L366.8 135 L368.4 135.6 L369.9 136.1 L371.4 136.7 L373 137.2 L374.5 137.8 L376 138.3 L377.6 138.9 L379.1 139.4 L380.6 139.9 L382.2 140.5 L383.7 141 L385.2 141.5 L386.8 142 L388.3 142.5 L389.8 143 L391.4 143.4 L392.9 143.9 L394.5 144.3 L396 144.7 L397.5 145.1 L399.1 145.5 L400.6 145.9 L402.1 146.3 L403.7 146.6 L405.2 147 L406.7 147.3 L408.3 147.6 L409.8 147.9 L411.3 148.2 L412.9 148.4 L414.4 148.7 L415.9 148.9 L417.5 149.1 L419 149.3 L420.5 149.5 L422.1 149.7 L423.6 149.9 L425.1 150 L426.7 150.2 L428.2 150.3 L429.8 150.5 L431.3 150.6 L432.8 150.7 L434.4 150.8 L435.9 150.9 L437.4 151 L439 151.1 L440.5 151.1 L442 151.2 L443.6 151.3 L445.1 151.3 L446.6 151.4 L448.2 151.5 L449.7 151.5" fill="none" stroke="#3f78e6" stroke-width="1.2" stroke-linejoin="round"/>
<path d="M250.2 150.8 L251.7 150.7 L253.3 150.7 L254.8 150.6 L256.3 150.5 L257.9 150.4 L259.4 150.3 L260.9 150.2 L262.5 150.1 L264 150 L265.5 149.8 L267.1 149.7 L268.6 149.5 L270.1 149.3 L271.7 149.1 L273.2 148.9 L274.8 148.6 L276.3 148.4 L277.8 148.1 L279.4 147.8 L280.9 147.5 L282.4 147.2 L284 146.9 L285.5 146.5 L287 146.1 L288.6 145.7 L290.1 145.3 L291.6 144.9 L293.2 144.5 L294.7 144 L296.2 143.6 L297.8 143.1 L299.3 142.7 L300.8 142.2 L302.4 141.7 L303.9 141.2 L305.4 140.8 L307 140.3 L308.5 139.9 L310 139.4 L311.6 139 L313.1 138.6 L314.7 138.2 L316.2 137.8 L317.7 137.5 L319.3 137.2 L320.8 136.9 L322.3 136.6 L323.9 136.4 L325.4 136.2 L326.9 136 L328.5 135.9 L330 135.8 L331.5 135.8 L333.1 135.8 L334.6 135.8 L336.1 135.9 L337.7 135.9 L339.2 136 L340.7 136.1 L342.3 136.2 L343.8 136.4 L345.3 136.6 L346.9 136.7 L348.4 136.9 L349.9 137.2 L351.5 137.4 L353 137.6 L354.6 137.9 L356.1 138.2 L357.6 138.5 L359.2 138.8 L360.7 139.1 L362.2 139.4 L363.8 139.7 L365.3 140.1 L366.8 140.4 L368.4 140.7 L369.9 141.1 L371.4 141.5 L373 141.8 L374.5 142.2 L376 142.5 L377.6 142.9 L379.1 143.2 L380.6 143.6 L382.2 143.9 L383.7 144.3 L385.2 144.6 L386.8 144.9 L388.3 145.2 L389.8 145.6 L391.4 145.9 L392.9 146.2 L394.5 146.5 L396 146.7 L397.5 147 L399.1 147.3 L400.6 147.5 L402.1 147.8 L403.7 148 L405.2 148.3 L406.7 148.5 L408.3 148.7 L409.8 148.9 L411.3 149.1 L412.9 149.3 L414.4 149.4 L415.9 149.6 L417.5 149.8 L419 149.9 L420.5 150 L422.1 150.2 L423.6 150.3 L425.1 150.4 L426.7 150.5 L428.2 150.6 L429.8 150.7 L431.3 150.8 L432.8 150.9 L434.4 151 L435.9 151 L437.4 151.1 L439 151.2 L440.5 151.2 L442 151.3 L443.6 151.3 L445.1 151.4 L446.6 151.4 L448.2 151.5 L449.7 151.5" fill="none" stroke="#3f78e6" stroke-width="1.2" stroke-linejoin="round"/>
<text x="264.2" y="26.6" font-size="8.2" text-anchor="start" fill="#111">STT COF</text>
<line x1="259.7" y1="56.1" x2="259.7" y2="119.1" stroke="#3f78e6" stroke-width="0.8"/>
<path d="M259.7 121.1 L258.1 116.1 L261.3 116.1 Z" fill="#3f78e6"/>
<text x="264.6" y="63.6" font-size="7.8" text-anchor="start" fill="#3f78e6">80K</text>
<text x="264.6" y="107.2" font-size="7.8" text-anchor="start" fill="#3f78e6">300K</text>
<text x="387.2" y="98.8" font-size="8.2" fill="#111">R<tspan font-size="5.6" dy="1.6">2</tspan><tspan dy="-1.6">=0.98</tspan></text>
<text x="387.2" y="111.3" font-size="8.4" fill="#111">E<tspan font-size="5.8" dy="1.6">b</tspan><tspan dy="-1.6">=73.14 meV</tspan></text>
<line x1="372.5" y1="13.4" x2="372.5" y2="74.3" stroke="#000" stroke-width="0.9"/>
<line x1="372.5" y1="74.3" x2="447.9" y2="74.3" stroke="#000" stroke-width="0.9"/>
<line x1="379.5" y1="74.3" x2="379.5" y2="75.6" stroke="#000" stroke-width="0.7"/>
<text x="379.5" y="80.4" font-size="5.2" text-anchor="middle" fill="#222">0.004</text>
<line x1="406.5" y1="74.3" x2="406.5" y2="75.6" stroke="#000" stroke-width="0.7"/>
<text x="406.5" y="80.4" font-size="5.2" text-anchor="middle" fill="#222">0.008</text>
<line x1="433.5" y1="74.3" x2="433.5" y2="75.6" stroke="#000" stroke-width="0.7"/>
<text x="433.5" y="80.4" font-size="5.2" text-anchor="middle" fill="#222">0.012</text>
<line x1="393" y1="74.3" x2="393" y2="75.2" stroke="#000" stroke-width="0.6"/>
<line x1="420" y1="74.3" x2="420" y2="75.2" stroke="#000" stroke-width="0.6"/>
<text x="409.4" y="87.9" font-size="7.3" text-anchor="middle" fill="#111">1/T</text>
<text x="366.1" y="47.2" font-size="7.6" text-anchor="middle" fill="#2a2a2a" transform="rotate(-90 366.1 44.5)">Intensity (arb.units)</text>
<path d="M373.3 67.1 L374.4 65.8 L375.4 64.4 L376.5 63 L377.6 61.4 L378.7 59.8 L379.7 58.1 L380.8 56.3 L381.9 54.5 L382.9 52.7 L384 50.9 L385.1 49.1 L386.1 47.3 L387.2 45.5 L388.3 43.7 L389.4 42 L390.4 40.4 L391.5 38.8 L392.6 37.4 L393.6 36 L394.7 34.7 L395.8 33.5 L396.8 32.3 L397.9 31.3 L399 30.3 L400.1 29.5 L401.1 28.7 L402.2 27.9 L403.3 27.3 L404.3 26.7 L405.4 26.1 L406.5 25.7 L407.5 25.2 L408.6 24.8 L409.7 24.5 L410.8 24.2 L411.8 23.9 L412.9 23.7 L414 23.5 L415 23.3 L416.1 23.1 L417.2 23 L418.2 22.8 L419.3 22.7 L420.4 22.6 L421.4 22.5 L422.5 22.4 L423.6 22.3 L424.7 22.3 L425.7 22.2 L426.8 22.2 L427.9 22.1 L428.9 22.1 L430 22.1 L431.1 22 L432.1 22 L433.2 22 L434.3 22 L435.4 21.9 L436.4 21.9 L437.5 21.9" fill="none" stroke="#3f78e6" stroke-width="1.1" stroke-linejoin="round"/>
<rect x="372.9" y="65.8" width="3" height="3" fill="#3f78e6"/>
<rect x="374.5" y="62" width="3" height="3" fill="#3f78e6"/>
<rect x="378.6" y="55.9" width="3" height="3" fill="#3f78e6"/>
<rect x="384.3" y="44.2" width="3" height="3" fill="#3f78e6"/>
<rect x="393" y="33.9" width="3" height="3" fill="#3f78e6"/>
<rect x="406.8" y="26" width="3" height="3" fill="#3f78e6"/>
<rect x="418.9" y="21.7" width="3" height="3" fill="#3f78e6"/>
<rect x="436" y="17.9" width="3" height="3" fill="#3f78e6"/>
<text x="0" y="3.9" font-size="10.8" text-anchor="middle" fill="#111" transform="translate(13.9 82.2) rotate(-90) scale(1 0.9)">Intensity (arb.units)</text>
<text x="0" y="3.9" font-size="10.8" text-anchor="middle" fill="#111" transform="translate(238.7 82.2) rotate(-90) scale(1 0.9)">Intensity (arb.units)</text>
<text x="0" y="3.8" font-size="10.5" text-anchor="middle" fill="#111" transform="translate(125 184.8) scale(1 0.9)">Wavelength (nm)</text>
<text x="0" y="3.8" font-size="10.5" text-anchor="middle" fill="#111" transform="translate(350 184.8) scale(1 0.9)">Wavelength (nm)</text>
<text x="462.3" y="12.9" font-size="17" fill="#000">c</text>
<rect x="478" y="5.8" width="198.9" height="159.7" fill="none" stroke="#000" stroke-width="1.5"/>
<line x1="517.8" y1="165.5" x2="517.8" y2="168.3" stroke="#000" stroke-width="1.2"/>
<text x="517.8" y="177.6" font-size="8.9" text-anchor="middle" fill="#111">550</text>
<line x1="597.3" y1="165.5" x2="597.3" y2="168.3" stroke="#000" stroke-width="1.2"/>
<text x="597.3" y="177.6" font-size="8.9" text-anchor="middle" fill="#111">600</text>
<line x1="676.9" y1="165.5" x2="676.9" y2="168.3" stroke="#000" stroke-width="1.2"/>
<text x="676.9" y="177.6" font-size="8.9" text-anchor="middle" fill="#111">650</text>
<line x1="557.6" y1="165.5" x2="557.6" y2="167.3" stroke="#000" stroke-width="1.1"/>
<line x1="637.1" y1="165.5" x2="637.1" y2="167.3" stroke="#000" stroke-width="1.1"/>
<text x="0" y="3.9" font-size="10.8" text-anchor="middle" fill="#111" transform="translate(466.7 85.8) rotate(-90) scale(1 0.9)">Intensity (arb.units)</text>
<text x="0" y="3.8" font-size="10.5" text-anchor="middle" fill="#111" transform="translate(577 184.8) scale(1 0.9)">Wavelength (nm)</text>
<path d="M478 137.2 L479.6 136.4 L481.2 135.5 L482.8 134.5 L484.4 133.5 L486 132.3 L487.5 131.1 L489.1 129.8 L490.7 128.4 L492.3 126.8 L493.9 125.2 L495.5 123.5 L497.1 121.6 L498.7 119.7 L500.3 117.6 L501.9 115.5 L503.5 113.2 L505.1 110.8 L506.6 108.4 L508.2 105.8 L509.8 103.2 L511.4 100.5 L513 97.7 L514.6 94.9 L516.2 92 L517.8 89 L519.4 86.1 L521 83.1 L522.6 80.1 L524.1 77.1 L525.7 74.1 L527.3 71.2 L528.9 68.4 L530.5 65.6 L532.1 62.8 L533.7 60.2 L535.3 57.7 L536.9 55.4 L538.5 53.1 L540.1 51.1 L541.6 49.2 L543.2 47.5 L544.8 46 L546.4 44.7 L548 43.6 L549.6 42.7 L551.2 42.1 L552.8 41.7 L554.4 41.5 L556 41.5 L557.6 41.7 L559.2 41.9 L560.7 42.2 L562.3 42.7 L563.9 43.2 L565.5 43.9 L567.1 44.6 L568.7 45.4 L570.3 46.4 L571.9 47.4 L573.5 48.5 L575.1 49.7 L576.7 50.9 L578.2 52.3 L579.8 53.7 L581.4 55.2 L583 56.8 L584.6 58.4 L586.2 60 L587.8 61.8 L589.4 63.5 L591 65.4 L592.6 67.2 L594.2 69.1 L595.7 71 L597.3 73 L598.9 75 L600.5 77 L602.1 79 L603.7 81 L605.3 83 L606.9 85 L608.5 87 L610.1 89 L611.7 91 L613.3 93 L614.8 94.9 L616.4 96.9 L618 98.8 L619.6 100.7 L621.2 102.5 L622.8 104.4 L624.4 106.2 L626 107.9 L627.6 109.6 L629.2 111.3 L630.8 113 L632.3 114.6 L633.9 116.1 L635.5 117.6 L637.1 119.1 L638.7 120.5 L640.3 121.9 L641.9 123.2 L643.5 124.5 L645.1 125.7 L646.7 126.9 L648.3 128 L649.8 129.1 L651.4 130.2 L653 131.2 L654.6 132.2 L656.2 133.1 L657.8 134 L659.4 134.8 L661 135.6 L662.6 136.4 L664.2 137.1 L665.8 137.8 L667.4 138.4 L668.9 139.1 L670.5 139.7 L672.1 140.2 L673.7 140.7 L675.3 141.2 L676.9 141.7" fill="none" stroke="#ec3c44" stroke-width="1.9" stroke-linejoin="round"/>
<path d="M478 140.8 L479.6 140.5 L481.2 140.2 L482.8 139.8 L484.4 139.5 L486 139.1 L487.5 138.6 L489.1 138.2 L490.7 137.7 L492.3 137.2 L493.9 136.7 L495.5 136.1 L497.1 135.5 L498.7 134.9 L500.3 134.3 L501.9 133.6 L503.5 133 L505.1 132.3 L506.6 131.5 L508.2 130.8 L509.8 130 L511.4 129.2 L513 128.4 L514.6 127.6 L516.2 126.8 L517.8 125.9 L519.4 125.1 L521 124.3 L522.6 123.4 L524.1 122.6 L525.7 121.8 L527.3 120.9 L528.9 120.1 L530.5 119.3 L532.1 118.6 L533.7 117.8 L535.3 117.1 L536.9 116.4 L538.5 115.7 L540.1 115.1 L541.6 114.5 L543.2 114 L544.8 113.5 L546.4 113 L548 112.6 L549.6 112.3 L551.2 112 L552.8 111.8 L554.4 111.6 L556 111.5 L557.6 111.4 L559.2 111.4 L560.7 111.4 L562.3 111.5 L563.9 111.6 L565.5 111.7 L567.1 111.9 L568.7 112 L570.3 112.3 L571.9 112.5 L573.5 112.8 L575.1 113.1 L576.7 113.4 L578.2 113.7 L579.8 114.1 L581.4 114.5 L583 114.9 L584.6 115.4 L586.2 115.8 L587.8 116.3 L589.4 116.8 L591 117.3 L592.6 117.9 L594.2 118.4 L595.7 119 L597.3 119.6 L598.9 120.2 L600.5 120.8 L602.1 121.4 L603.7 122 L605.3 122.6 L606.9 123.3 L608.5 123.9 L610.1 124.5 L611.7 125.2 L613.3 125.8 L614.8 126.5 L616.4 127.1 L618 127.7 L619.6 128.4 L621.2 129 L622.8 129.6 L624.4 130.2 L626 130.8 L627.6 131.4 L629.2 132 L630.8 132.6 L632.3 133.2 L633.9 133.7 L635.5 134.3 L637.1 134.8 L638.7 135.3 L640.3 135.9 L641.9 136.4 L643.5 136.8 L645.1 137.3 L646.7 137.8 L648.3 138.2 L649.8 138.6 L651.4 139.1 L653 139.5 L654.6 139.9 L656.2 140.2 L657.8 140.6 L659.4 141 L661 141.3 L662.6 141.6 L664.2 141.9 L665.8 142.2 L667.4 142.5 L668.9 142.8 L670.5 143.1 L672.1 143.3 L673.7 143.5 L675.3 143.8 L676.9 144" fill="none" stroke="#3f78e6" stroke-width="1.9" stroke-linejoin="round"/>
<line x1="487.8" y1="19.6" x2="507.3" y2="19.6" stroke="#ec3c44" stroke-width="1.9"/>
<line x1="487.8" y1="30.4" x2="507.3" y2="30.4" stroke="#3f78e6" stroke-width="1.9"/>
<text x="509" y="22.6" font-size="8.2" text-anchor="start" fill="#111">PTT COF</text>
<text x="509" y="33.9" font-size="8.2" text-anchor="start" fill="#111">STT COF</text>
<text x="6.4" y="216.7" font-size="17" fill="#000">d</text>
<rect x="25.9" y="207.8" width="198.7" height="159.8" fill="none" stroke="#000" stroke-width="1.5"/>
<line x1="54.5" y1="367.6" x2="54.5" y2="370.4" stroke="#000" stroke-width="1.2"/>
<text x="54.5" y="379.9" font-size="8.9" text-anchor="middle" fill="#111">20</text>
<line x1="85.2" y1="367.6" x2="85.2" y2="370.4" stroke="#000" stroke-width="1.2"/>
<text x="85.2" y="379.9" font-size="8.9" text-anchor="middle" fill="#111">40</text>
<line x1="115.9" y1="367.6" x2="115.9" y2="370.4" stroke="#000" stroke-width="1.2"/>
<text x="115.9" y="379.9" font-size="8.9" text-anchor="middle" fill="#111">60</text>
<line x1="146.6" y1="367.6" x2="146.6" y2="370.4" stroke="#000" stroke-width="1.2"/>
<text x="146.6" y="379.9" font-size="8.9" text-anchor="middle" fill="#111">80</text>
<line x1="177.3" y1="367.6" x2="177.3" y2="370.4" stroke="#000" stroke-width="1.2"/>
<text x="177.3" y="379.9" font-size="8.9" text-anchor="middle" fill="#111">100</text>
<line x1="208" y1="367.6" x2="208" y2="370.4" stroke="#000" stroke-width="1.2"/>
<text x="208" y="379.9" font-size="8.9" text-anchor="middle" fill="#111">120</text>
<line x1="39.1" y1="367.6" x2="39.1" y2="369.4" stroke="#000" stroke-width="1.1"/>
<line x1="69.8" y1="367.6" x2="69.8" y2="369.4" stroke="#000" stroke-width="1.1"/>
<line x1="100.5" y1="367.6" x2="100.5" y2="369.4" stroke="#000" stroke-width="1.1"/>
<line x1="131.2" y1="367.6" x2="131.2" y2="369.4" stroke="#000" stroke-width="1.1"/>
<line x1="161.9" y1="367.6" x2="161.9" y2="369.4" stroke="#000" stroke-width="1.1"/>
<line x1="192.7" y1="367.6" x2="192.7" y2="369.4" stroke="#000" stroke-width="1.1"/>
<line x1="223.3" y1="367.6" x2="223.3" y2="369.4" stroke="#000" stroke-width="1.1"/>
<line x1="23.1" y1="356.9" x2="25.9" y2="356.9" stroke="#000" stroke-width="1.2"/>
<text x="19.3" y="360.1" font-size="8.9" text-anchor="end" fill="#111">0</text>
<line x1="23.1" y1="313.2" x2="25.9" y2="313.2" stroke="#000" stroke-width="1.2"/>
<text x="19.3" y="316.4" font-size="8.9" text-anchor="end" fill="#111">1</text>
<line x1="23.1" y1="269.5" x2="25.9" y2="269.5" stroke="#000" stroke-width="1.2"/>
<text x="19.3" y="272.7" font-size="8.9" text-anchor="end" fill="#111">2</text>
<line x1="23.1" y1="225.8" x2="25.9" y2="225.8" stroke="#000" stroke-width="1.2"/>
<text x="19.3" y="229" font-size="8.9" text-anchor="end" fill="#111">3</text>
<line x1="24.1" y1="335" x2="25.9" y2="335" stroke="#000" stroke-width="1.1"/>
<line x1="24.1" y1="291.3" x2="25.9" y2="291.3" stroke="#000" stroke-width="1.1"/>
<line x1="24.1" y1="247.6" x2="25.9" y2="247.6" stroke="#000" stroke-width="1.1"/>
<text x="0" y="0" font-size="10.8" text-anchor="middle" fill="#111" transform="translate(7.6 287.5) rotate(-90) scale(1 0.9)" dy="3.9">Current density (μA cm<tspan font-size="7.2" dy="-4">−2</tspan><tspan dy="4">)</tspan></text>
<text x="0" y="3.8" font-size="10.5" text-anchor="middle" fill="#111" transform="translate(125.4 387.9) scale(1 0.9)">Time (sec.)</text>
<path d="M25.3 355.6 L25.5 355.6 L25.6 355.6 L25.8 355.6 L25.9 355.6 L26.1 355.6 L26.3 355.6 L26.4 355.6 L26.6 355.6 L26.7 355.6 L26.9 355.6 L27 355.6 L27.2 355.6 L27.3 355.6 L27.5 355.6 L27.6 355.6 L27.8 355.6 L27.9 355.6 L28.1 355.6 L28.3 355.6 L28.4 355.6 L28.6 355.6 L28.7 355.6 L28.9 355.6 L29 355.6 L29.2 355.6 L29.3 355.6 L29.5 355.6 L29.6 355.6 L29.8 355.6 L29.9 355.6 L30.1 355.6 L30.2 355.6 L30.4 355.6 L30.6 355.6 L30.7 355.6 L30.9 355.6 L31 355.6 L31.2 355.6 L31.3 355.6 L31.5 355.6 L31.6 355.6 L31.8 355.6 L31.9 355.6 L32.1 355.6 L32.2 355.6 L32.4 355.6 L32.5 355.6 L32.7 355.6 L32.9 355.6 L33 355.6 L33.2 355.6 L33.3 355.6 L33.5 355.6 L33.6 355.6 L33.8 355.6 L33.9 355.6 L34.1 355.6 L34.2 355.6 L34.4 355.6 L34.5 355.6 L34.7 355.6 L34.9 355.6 L35 355.6 L35.2 355.6 L35.3 355.6 L35.5 355.6 L35.6 355.6 L35.8 355.6 L35.9 355.6 L36.1 355.6 L36.2 355.6 L36.4 355.6 L36.5 355.6 L36.7 355.6 L36.8 355.6 L37 355.6 L37.2 355.6 L37.3 355.6 L37.5 355.6 L37.6 355.6 L37.8 355.6 L37.9 355.6 L38.1 355.6 L38.2 355.6 L38.4 355.6 L38.5 355.6 L38.7 355.6 L38.8 355.6 L39 355.6 L39.1 355.6 L39.3 355.6 L39.5 355.6 L39.6 355.6 L39.8 355.6 L39.9 355.6 L40.1 355.6 L40.2 355.6 L40.4 355.6 L40.5 355.6 L40.7 355.6 L40.8 355.6 L41 355.6 L41.1 355.6 L41.3 355.6 L41.5 355.6 L41.6 355.6 L41.8 355.6 L41.9 355.6 L42.1 355.6 L42.2 355.6 L42.4 355.6 L42.5 355.6 L42.7 355.6 L42.8 355.6 L43 355.6 L43.1 355.6 L43.3 355.6 L43.4 355.6 L43.6 355.6 L43.8 355.6 L43.9 355.6 L44.1 355.6 L44.2 355.6 L44.4 355.6 L44.5 355.6 L44.7 355.6 L44.8 355.6 L45 355.6 L45.1 355.6 L45.3 355.6 L45.4 353.8 L45.6 352.3 L45.8 351 L45.9 349.9 L46.1 349 L46.2 348.2 L46.4 347.5 L46.5 347 L46.7 346.5 L46.8 346.1 L47 345.7 L47.1 345.4 L47.3 345.2 L47.4 345 L47.6 344.8 L47.7 344.6 L47.9 344.5 L48.1 344.4 L48.2 344.3 L48.4 344.2 L48.5 344.1 L48.7 344.1 L48.8 344 L49 343.9 L49.1 343.9 L49.3 343.9 L49.4 343.8 L49.6 343.8 L49.7 343.8 L49.9 343.7 L50 343.7 L50.2 343.7 L50.4 343.7 L50.5 343.7 L50.7 343.6 L50.8 343.6 L51 343.6 L51.1 343.6 L51.3 343.6 L51.4 343.6 L51.6 343.6 L51.7 343.6 L51.9 343.5 L52 343.5 L52.2 343.5 L52.4 343.5 L52.5 343.5 L52.7 343.5 L52.8 343.5 L53 343.5 L53.1 343.5 L53.3 343.4 L53.4 343.4 L53.6 343.4 L53.7 343.4 L53.9 343.4 L54 343.4 L54.2 343.4 L54.3 343.4 L54.5 343.4 L54.7 343.4 L54.8 343.4 L55 343.4 L55.1 343.3 L55.3 343.3 L55.4 343.3 L55.6 343.3 L55.7 343.3 L55.9 343.3 L56 343.3 L56.2 343.3 L56.3 343.3 L56.5 343.3 L56.6 343.3 L56.8 343.3 L57 343.2 L57.1 343.2 L57.3 343.2 L57.4 343.2 L57.6 343.2 L57.7 343.2 L57.9 343.2 L58 343.2 L58.2 343.2 L58.3 343.2 L58.5 343.2 L58.6 343.2 L58.8 343.2 L59 343.2 L59.1 343.1 L59.3 343.1 L59.4 343.1 L59.6 343.1 L59.7 343.1 L59.9 343.1 L60 343.1 L60.2 343.1 L60.3 343.1 L60.5 343.1 L60.6 343.1 L60.8 343.1 L60.9 343.1 L61.1 343.1 L61.3 343 L61.4 343 L61.6 343 L61.7 343 L61.9 343 L62 343 L62.2 343 L62.3 343 L62.5 343 L62.6 343 L62.8 343 L62.9 343 L63.1 343 L63.2 343 L63.4 343 L63.6 342.9 L63.7 342.9 L63.9 342.9 L64 342.9 L64.2 342.9 L64.3 342.9 L64.5 342.9 L64.6 342.9 L64.8 342.9 L64.9 342.9 L65.1 342.9 L65.2 342.9 L65.4 342.9 L65.6 342.9 L65.7 342.9 L65.9 342.9 L66 342.8 L66.2 342.8 L66.3 342.8 L66.5 342.8 L66.6 342.8 L66.8 342.8 L66.9 342.8 L67.1 342.8 L67.2 342.8 L67.4 342.8 L67.5 342.8 L67.7 342.8 L67.9 342.8 L68 342.8 L68.2 342.8 L68.3 342.8 L68.5 342.8 L68.6 342.7 L68.8 342.7 L68.9 342.7 L69.1 342.7 L69.2 342.7 L69.4 342.7 L69.5 342.7 L69.7 342.7 L69.9 342.7 L70 342.7 L70.2 342.7 L70.3 342.7 L70.5 342.7 L70.6 342.7 L70.8 342.7 L70.9 342.7 L71.1 342.7 L71.2 342.6 L71.4 342.6 L71.5 342.6 L71.7 342.6 L71.8 342.6 L72 342.6 L72.2 342.6 L72.3 342.6 L72.5 342.6 L72.6 342.6 L72.8 342.6 L72.9 342.6 L73.1 342.6 L73.2 342.6 L73.4 342.6 L73.5 342.6 L73.7 342.6 L73.8 342.6 L74 342.5 L74.1 342.5 L74.3 342.5 L74.5 342.5 L74.6 342.5 L74.8 342.5 L74.9 342.5 L75.1 342.5 L75.2 342.5 L75.4 342.5 L75.5 342.5 L75.7 342.5 L75.8 342.5 L76 342.5 L76.1 345.1 L76.3 347.2 L76.5 348.9 L76.6 350.2 L76.8 351.3 L76.9 352.1 L77.1 352.8 L77.2 353.4 L77.4 353.8 L77.5 354.2 L77.7 354.5 L77.8 354.7 L78 354.9 L78.1 355 L78.3 355.1 L78.4 355.2 L78.6 355.3 L78.8 355.3 L78.9 355.4 L79.1 355.4 L79.2 355.5 L79.4 355.5 L79.5 355.5 L79.7 355.5 L79.8 355.5 L80 355.5 L80.1 355.6 L80.3 355.6 L80.4 355.6 L80.6 355.6 L80.7 355.6 L80.9 355.6 L81.1 355.6 L81.2 355.6 L81.4 355.6 L81.5 355.6 L81.7 355.6 L81.8 355.6 L82 355.6 L82.1 355.6 L82.3 355.6 L82.4 355.6 L82.6 355.6 L82.7 355.6 L82.9 355.6 L83.1 355.6 L83.2 355.6 L83.4 355.6 L83.5 355.6 L83.7 355.6 L83.8 355.6 L84 355.6 L84.1 355.6 L84.3 355.6 L84.4 355.6 L84.6 355.6 L84.7 355.6 L84.9 355.6 L85 355.6 L85.2 355.6 L85.4 355.6 L85.5 355.6 L85.7 355.6 L85.8 355.6 L86 355.6 L86.1 355.6 L86.3 355.6 L86.4 355.6 L86.6 355.6 L86.7 355.6 L86.9 355.6 L87 355.6 L87.2 355.6 L87.3 355.6 L87.5 355.6 L87.7 355.6 L87.8 355.6 L88 355.6 L88.1 355.6 L88.3 355.6 L88.4 355.6 L88.6 355.6 L88.7 355.6 L88.9 355.6 L89 355.6 L89.2 355.6 L89.3 355.6 L89.5 355.6 L89.7 355.6 L89.8 355.6 L90 355.6 L90.1 355.6 L90.3 355.6 L90.4 355.6 L90.6 355.6 L90.7 355.6 L90.9 355.6 L91 355.6 L91.2 355.6 L91.3 355.6 L91.5 355.6 L91.6 355.6 L91.8 355.6 L92 355.6 L92.1 355.6 L92.3 355.6 L92.4 355.6 L92.6 355.6 L92.7 355.6 L92.9 355.6 L93 355.6 L93.2 355.6 L93.3 355.6 L93.5 355.6 L93.6 355.6 L93.8 355.6 L93.9 355.6 L94.1 355.6 L94.3 355.6 L94.4 355.6 L94.6 355.6 L94.7 355.6 L94.9 355.6 L95 355.6 L95.2 355.6 L95.3 355.6 L95.5 355.6 L95.6 355.6 L95.8 355.6 L95.9 355.6 L96.1 355.6 L96.3 355.6 L96.4 355.6 L96.6 355.6 L96.7 355.6 L96.9 355.6 L97 355.6 L97.2 355.6 L97.3 355.6 L97.5 355.6 L97.6 355.6 L97.8 355.6 L97.9 355.6 L98.1 355.6 L98.2 355.6 L98.4 355.6 L98.6 355.6 L98.7 355.6 L98.9 355.6 L99 355.6 L99.2 355.6 L99.3 355.6 L99.5 355.6 L99.6 355.6 L99.8 355.6 L99.9 355.6 L100.1 355.6 L100.2 355.6 L100.4 355.6 L100.6 355.6 L100.7 355.6 L100.9 355.6 L101 355.6 L101.2 355.6 L101.3 355.6 L101.5 355.6 L101.6 355.6 L101.8 355.6 L101.9 355.6 L102.1 355.6 L102.2 355.6 L102.4 355.6 L102.5 355.6 L102.7 355.6 L102.9 355.6 L103 355.6 L103.2 355.6 L103.3 355.6 L103.5 355.6 L103.6 355.6 L103.8 355.6 L103.9 355.6 L104.1 355.6 L104.2 355.6 L104.4 355.6 L104.5 355.6 L104.7 355.6 L104.8 355.6 L105 355.6 L105.2 355.6 L105.3 355.6 L105.5 355.6 L105.6 355.6 L105.8 355.6 L105.9 355.6 L106.1 355.6 L106.2 355.6 L106.4 355.6 L106.5 355.6 L106.7 355.6 L106.8 353.9 L107 352.5 L107.2 351.4 L107.3 350.4 L107.5 349.5 L107.6 348.8 L107.8 348.2 L107.9 347.7 L108.1 347.2 L108.2 346.9 L108.4 346.5 L108.5 346.3 L108.7 346 L108.8 345.9 L109 345.7 L109.1 345.5 L109.3 345.4 L109.5 345.3 L109.6 345.2 L109.8 345.1 L109.9 345.1 L110.1 345 L110.2 345 L110.4 344.9 L110.5 344.9 L110.7 344.9 L110.8 344.8 L111 344.8 L111.1 344.8 L111.3 344.8 L111.4 344.7 L111.6 344.7 L111.8 344.7 L111.9 344.7 L112.1 344.7 L112.2 344.7 L112.4 344.6 L112.5 344.6 L112.7 344.6 L112.8 344.6 L113 344.6 L113.1 344.6 L113.3 344.6 L113.4 344.6 L113.6 344.6 L113.8 344.6 L113.9 344.6 L114.1 344.5 L114.2 344.5 L114.4 344.5 L114.5 344.5 L114.7 344.5 L114.8 344.5 L115 344.5 L115.1 344.5 L115.3 344.5 L115.4 344.5 L115.6 344.5 L115.7 344.5 L115.9 344.5 L116.1 344.5 L116.2 344.5 L116.4 344.4 L116.5 344.4 L116.7 344.4 L116.8 344.4 L117 344.4 L117.1 344.4 L117.3 344.4 L117.4 344.4 L117.6 344.4 L117.7 344.4 L117.9 344.4 L118 344.4 L118.2 344.4 L118.4 344.4 L118.5 344.4 L118.7 344.4 L118.8 344.4 L119 344.3 L119.1 344.3 L119.3 344.3 L119.4 344.3 L119.6 344.3 L119.7 344.3 L119.9 344.3 L120 344.3 L120.2 344.3 L120.4 344.3 L120.5 344.3 L120.7 344.3 L120.8 344.3 L121 344.3 L121.1 344.3 L121.3 344.3 L121.4 344.3 L121.6 344.3 L121.7 344.2 L121.9 344.2 L122 344.2 L122.2 344.2 L122.3 344.2 L122.5 344.2 L122.7 344.2 L122.8 344.2 L123 344.2 L123.1 344.2 L123.3 344.2 L123.4 344.2 L123.6 344.2 L123.7 344.2 L123.9 344.2 L124 344.2 L124.2 344.2 L124.3 344.2 L124.5 344.2 L124.6 344.2 L124.8 344.1 L125 344.1 L125.1 344.1 L125.3 344.1 L125.4 344.1 L125.6 344.1 L125.7 344.1 L125.9 344.1 L126 344.1 L126.2 344.1 L126.3 344.1 L126.5 344.1 L126.6 344.1 L126.8 344.1 L127 344.1 L127.1 344.1 L127.3 344.1 L127.4 344.1 L127.6 344.1 L127.7 344.1 L127.9 344.1 L128 344 L128.2 344 L128.3 344 L128.5 344 L128.6 344 L128.8 344 L128.9 344 L129.1 344 L129.3 344 L129.4 344 L129.6 344 L129.7 344 L129.9 344 L130 344 L130.2 344 L130.3 344 L130.5 344 L130.6 344 L130.8 344 L130.9 344 L131.1 344 L131.3 344 L131.4 343.9 L131.6 343.9 L131.7 343.9 L131.9 343.9 L132 343.9 L132.2 343.9 L132.3 343.9 L132.5 343.9 L132.6 343.9 L132.8 343.9 L132.9 343.9 L133.1 343.9 L133.2 343.9 L133.4 343.9 L133.6 343.9 L133.7 343.9 L133.9 343.9 L134 343.9 L134.2 343.9 L134.3 343.9 L134.5 343.9 L134.6 343.9 L134.8 343.9 L134.9 343.9 L135.1 343.8 L135.2 343.8 L135.4 343.8 L135.5 343.8 L135.7 343.8 L135.9 343.8 L136 343.8 L136.2 343.8 L136.3 343.8 L136.5 343.8 L136.6 343.8 L136.8 343.8 L136.9 343.8 L137.1 343.8 L137.2 343.8 L137.4 343.8 L137.5 346.1 L137.7 348 L137.9 349.5 L138 350.7 L138.2 351.7 L138.3 352.5 L138.5 353.1 L138.6 353.6 L138.8 354 L138.9 354.3 L139.1 354.6 L139.2 354.8 L139.4 354.9 L139.5 355.1 L139.7 355.2 L139.8 355.3 L140 355.3 L140.2 355.4 L140.3 355.4 L140.5 355.5 L140.6 355.5 L140.8 355.5 L140.9 355.5 L141.1 355.5 L141.2 355.5 L141.4 355.6 L141.5 355.6 L141.7 355.6 L141.8 355.6 L142 355.6 L142.1 355.6 L142.3 355.6 L142.5 355.6 L142.6 355.6 L142.8 355.6 L142.9 355.6 L143.1 355.6 L143.2 355.6 L143.4 355.6 L143.5 355.6 L143.7 355.6 L143.8 355.6 L144 355.6 L144.1 355.6 L144.3 355.6 L144.5 355.6 L144.6 355.6 L144.8 355.6 L144.9 355.6 L145.1 355.6 L145.2 355.6 L145.4 355.6 L145.5 355.6 L145.7 355.6 L145.8 355.6 L146 355.6 L146.1 355.6 L146.3 355.6 L146.4 355.6 L146.6 355.6 L146.8 355.6 L146.9 355.6 L147.1 355.6 L147.2 355.6 L147.4 355.6 L147.5 355.6 L147.7 355.6 L147.8 355.6 L148 355.6 L148.1 355.6 L148.3 355.6 L148.4 355.6 L148.6 355.6 L148.7 355.6 L148.9 355.6 L149.1 355.6 L149.2 355.6 L149.4 355.6 L149.5 355.6 L149.7 355.6 L149.8 355.6 L150 355.6 L150.1 355.6 L150.3 355.6 L150.4 355.6 L150.6 355.6 L150.7 355.6 L150.9 355.6 L151.1 355.6 L151.2 355.6 L151.4 355.6 L151.5 355.6 L151.7 355.6 L151.8 355.6 L152 355.6 L152.1 355.6 L152.3 355.6 L152.4 355.6 L152.6 355.6 L152.7 355.6 L152.9 355.6 L153 355.6 L153.2 355.6 L153.4 355.6 L153.5 355.6 L153.7 355.6 L153.8 355.6 L154 355.6 L154.1 355.6 L154.3 355.6 L154.4 355.6 L154.6 355.6 L154.7 355.6 L154.9 355.6 L155 355.6 L155.2 355.6 L155.3 355.6 L155.5 355.6 L155.7 355.6 L155.8 355.6 L156 355.6 L156.1 355.6 L156.3 355.6 L156.4 355.6 L156.6 355.6 L156.7 355.6 L156.9 355.6 L157 355.6 L157.2 355.6 L157.3 355.6 L157.5 355.6 L157.7 355.6 L157.8 355.6 L158 355.6 L158.1 355.6 L158.3 355.6 L158.4 355.6 L158.6 355.6 L158.7 355.6 L158.9 355.6 L159 355.6 L159.2 355.6 L159.3 355.6 L159.5 355.6 L159.6 355.6 L159.8 355.6 L160 355.6 L160.1 355.6 L160.3 355.6 L160.4 355.6 L160.6 355.6 L160.7 355.6 L160.9 355.6 L161 355.6 L161.2 355.6 L161.3 355.6 L161.5 355.6 L161.6 355.6 L161.8 355.6 L161.9 355.6 L162.1 355.6 L162.3 355.6 L162.4 355.6 L162.6 355.6 L162.7 355.6 L162.9 355.6 L163 355.6 L163.2 355.6 L163.3 355.6 L163.5 355.6 L163.6 355.6 L163.8 355.6 L163.9 355.6 L164.1 355.6 L164.3 355.6 L164.4 355.6 L164.6 355.6 L164.7 355.6 L164.9 355.6 L165 355.6 L165.2 355.6 L165.3 355.6 L165.5 355.6 L165.6 355.6 L165.8 355.6 L165.9 355.6 L166.1 355.6 L166.2 355.6 L166.4 355.6 L166.6 355.6 L166.7 355.6 L166.9 355.6 L167 355.6 L167.2 355.6 L167.3 355.6 L167.5 355.6 L167.6 355.6 L167.8 355.6 L167.9 355.6 L168.1 355.6 L168.2 354.1 L168.4 352.8 L168.6 351.7 L168.7 350.8 L168.9 350 L169 349.4 L169.2 348.8 L169.3 348.3 L169.5 347.9 L169.6 347.6 L169.8 347.3 L169.9 347 L170.1 346.8 L170.2 346.6 L170.4 346.5 L170.5 346.4 L170.7 346.2 L170.9 346.1 L171 346.1 L171.2 346 L171.3 345.9 L171.5 345.9 L171.6 345.8 L171.8 345.8 L171.9 345.7 L172.1 345.7 L172.2 345.7 L172.4 345.7 L172.5 345.6 L172.7 345.6 L172.8 345.6 L173 345.6 L173.2 345.6 L173.3 345.6 L173.5 345.5 L173.6 345.5 L173.8 345.5 L173.9 345.5 L174.1 345.5 L174.2 345.5 L174.4 345.5 L174.5 345.5 L174.7 345.5 L174.8 345.5 L175 345.4 L175.2 345.4 L175.3 345.4 L175.5 345.4 L175.6 345.4 L175.8 345.4 L175.9 345.4 L176.1 345.4 L176.2 345.4 L176.4 345.4 L176.5 345.4 L176.7 345.4 L176.8 345.4 L177 345.4 L177.1 345.3 L177.3 345.3 L177.5 345.3 L177.6 345.3 L177.8 345.3 L177.9 345.3 L178.1 345.3 L178.2 345.3 L178.4 345.3 L178.5 345.3 L178.7 345.3 L178.8 345.3 L179 345.3 L179.1 345.3 L179.3 345.3 L179.4 345.3 L179.6 345.2 L179.8 345.2 L179.9 345.2 L180.1 345.2 L180.2 345.2 L180.4 345.2 L180.5 345.2 L180.7 345.2 L180.8 345.2 L181 345.2 L181.1 345.2 L181.3 345.2 L181.4 345.2 L181.6 345.2 L181.8 345.2 L181.9 345.2 L182.1 345.2 L182.2 345.2 L182.4 345.1 L182.5 345.1 L182.7 345.1 L182.8 345.1 L183 345.1 L183.1 345.1 L183.3 345.1 L183.4 345.1 L183.6 345.1 L183.7 345.1 L183.9 345.1 L184.1 345.1 L184.2 345.1 L184.4 345.1 L184.5 345.1 L184.7 345.1 L184.8 345.1 L185 345.1 L185.1 345.1 L185.3 345 L185.4 345 L185.6 345 L185.7 345 L185.9 345 L186 345 L186.2 345 L186.4 345 L186.5 345 L186.7 345 L186.8 345 L187 345 L187.1 345 L187.3 345 L187.4 345 L187.6 345 L187.7 345 L187.9 345 L188 345 L188.2 345 L188.4 345 L188.5 344.9 L188.7 344.9 L188.8 344.9 L189 344.9 L189.1 344.9 L189.3 344.9 L189.4 344.9 L189.6 344.9 L189.7 344.9 L189.9 344.9 L190 344.9 L190.2 344.9 L190.3 344.9 L190.5 344.9 L190.7 344.9 L190.8 344.9 L191 344.9 L191.1 344.9 L191.3 344.9 L191.4 344.9 L191.6 344.9 L191.7 344.9 L191.9 344.8 L192 344.8 L192.2 344.8 L192.3 344.8 L192.5 344.8 L192.6 344.8 L192.8 344.8 L193 344.8 L193.1 344.8 L193.3 344.8 L193.4 344.8 L193.6 344.8 L193.7 344.8 L193.9 344.8 L194 344.8 L194.2 344.8 L194.3 344.8 L194.5 344.8 L194.6 344.8 L194.8 344.8 L195 344.8 L195.1 344.8 L195.3 344.8 L195.4 344.8 L195.6 344.7 L195.7 344.7 L195.9 344.7 L196 344.7 L196.2 344.7 L196.3 344.7 L196.5 344.7 L196.6 344.7 L196.8 344.7 L196.9 344.7 L197.1 344.7 L197.3 344.7 L197.4 344.7 L197.6 344.7 L197.7 344.7 L197.9 344.7 L198 344.7 L198.2 344.7 L198.3 344.7 L198.5 344.7 L198.6 344.7 L198.8 344.7 L198.9 346.8 L199.1 348.6 L199.3 350 L199.4 351.1 L199.6 352 L199.7 352.7 L199.9 353.3 L200 353.7 L200.2 354.1 L200.3 354.4 L200.5 354.6 L200.6 354.8 L200.8 355 L200.9 355.1 L201.1 355.2 L201.2 355.3 L201.4 355.3 L201.6 355.4 L201.7 355.4 L201.9 355.5 L202 355.5 L202.2 355.5 L202.3 355.5 L202.5 355.5 L202.6 355.5 L202.8 355.6 L202.9 355.6 L203.1 355.6 L203.2 355.6 L203.4 355.6 L203.5 355.6 L203.7 355.6 L203.9 355.6 L204 355.6 L204.2 355.6 L204.3 355.6 L204.5 355.6 L204.6 355.6 L204.8 355.6 L204.9 355.6 L205.1 355.6 L205.2 355.6 L205.4 355.6 L205.5 355.6 L205.7 355.6 L205.9 355.6 L206 355.6 L206.2 355.6 L206.3 355.6 L206.5 355.6 L206.6 355.6 L206.8 355.6 L206.9 355.6 L207.1 355.6 L207.2 355.6 L207.4 355.6 L207.5 355.6 L207.7 355.6 L207.8 355.6 L208 355.6 L208.2 355.6 L208.3 355.6 L208.5 355.6 L208.6 355.6 L208.8 355.6 L208.9 355.6 L209.1 355.6 L209.2 355.6 L209.4 355.6 L209.5 355.6 L209.7 355.6 L209.8 355.6 L210 355.6 L210.1 355.6 L210.3 355.6 L210.5 355.6 L210.6 355.6 L210.8 355.6 L210.9 355.6 L211.1 355.6 L211.2 355.6 L211.4 355.6 L211.5 355.6 L211.7 355.6 L211.8 355.6 L212 355.6 L212.1 355.6 L212.3 355.6 L212.5 355.6 L212.6 355.6 L212.8 355.6 L212.9 355.6 L213.1 355.6 L213.2 355.6 L213.4 355.6 L213.5 355.6 L213.7 355.6 L213.8 355.6 L214 355.6 L214.1 355.6 L214.3 355.6 L214.4 355.6 L214.6 355.6 L214.8 355.6 L214.9 355.6 L215.1 355.6 L215.2 355.6 L215.4 355.6 L215.5 355.6 L215.7 355.6 L215.8 355.6 L216 355.6 L216.1 355.6 L216.3 355.6 L216.4 355.6 L216.6 355.6 L216.7 355.6 L216.9 355.6 L217.1 355.6 L217.2 355.6 L217.4 355.6 L217.5 355.6 L217.7 355.6 L217.8 355.6 L218 355.6 L218.1 355.6 L218.3 355.6 L218.4 355.6 L218.6 355.6 L218.7 355.6 L218.9 355.6 L219.1 355.6 L219.2 355.6 L219.4 355.6 L219.5 355.6 L219.7 355.6 L219.8 355.6 L220 355.6 L220.1 355.6 L220.3 355.6 L220.4 355.6 L220.6 355.6 L220.7 355.6 L220.9 355.6 L221 355.6 L221.2 355.6 L221.4 355.6 L221.5 355.6 L221.7 355.6 L221.8 355.6 L222 355.6 L222.1 355.6 L222.3 355.6 L222.4 355.6 L222.6 355.6 L222.7 355.6 L222.9 355.6 L223 355.6 L223.2 355.6 L223.3 355.6 L223.5 355.6 L223.7 355.6 L223.8 355.6 L224 355.6 L224.1 355.6 L224.3 355.6 L224.4 355.6 L224.6 355.6 L224.7 355.6 L224.9 355.6" fill="none" stroke="#ec3c44" stroke-width="1.5" stroke-linejoin="round"/>
<path d="M25.3 357.8 L25.5 357.8 L25.6 357.8 L25.8 357.8 L25.9 357.8 L26.1 357.8 L26.3 357.8 L26.4 357.8 L26.6 357.8 L26.7 357.8 L26.9 357.8 L27 357.8 L27.2 357.8 L27.3 357.8 L27.5 357.8 L27.6 357.8 L27.8 357.8 L27.9 357.8 L28.1 357.8 L28.3 357.8 L28.4 357.8 L28.6 357.8 L28.7 357.8 L28.9 357.8 L29 357.8 L29.2 357.8 L29.3 357.8 L29.5 357.8 L29.6 357.8 L29.8 357.8 L29.9 357.8 L30.1 357.8 L30.2 357.8 L30.4 357.8 L30.6 357.8 L30.7 357.8 L30.9 357.8 L31 357.8 L31.2 357.8 L31.3 357.8 L31.5 357.8 L31.6 357.8 L31.8 357.8 L31.9 357.8 L32.1 357.8 L32.2 357.8 L32.4 357.8 L32.5 357.8 L32.7 357.8 L32.9 357.8 L33 357.8 L33.2 357.8 L33.3 357.8 L33.5 357.8 L33.6 357.8 L33.8 357.8 L33.9 357.8 L34.1 357.8 L34.2 357.8 L34.4 357.8 L34.5 357.8 L34.7 357.8 L34.9 357.8 L35 357.8 L35.2 357.8 L35.3 357.8 L35.5 357.8 L35.6 357.8 L35.8 357.8 L35.9 357.8 L36.1 357.8 L36.2 357.8 L36.4 357.8 L36.5 357.8 L36.7 357.8 L36.8 357.8 L37 357.8 L37.2 357.8 L37.3 357.8 L37.5 357.8 L37.6 357.8 L37.8 357.8 L37.9 357.8 L38.1 357.8 L38.2 357.8 L38.4 357.8 L38.5 357.8 L38.7 357.8 L38.8 357.8 L39 357.8 L39.1 357.8 L39.3 357.8 L39.5 357.8 L39.6 357.8 L39.8 357.8 L39.9 357.8 L40.1 357.8 L40.2 357.8 L40.4 357.8 L40.5 357.8 L40.7 357.8 L40.8 357.8 L41 357.8 L41.1 357.8 L41.3 357.8 L41.5 357.8 L41.6 357.8 L41.8 357.8 L41.9 357.8 L42.1 357.8 L42.2 357.8 L42.4 357.8 L42.5 357.8 L42.7 357.8 L42.8 357.8 L43 357.8 L43.1 357.8 L43.3 357.8 L43.4 357.8 L43.6 357.8 L43.8 357.8 L43.9 357.8 L44.1 357.8 L44.2 357.8 L44.4 357.8 L44.5 357.8 L44.7 357.8 L44.8 357.8 L45 357.8 L45.1 357.8 L45.3 357.8 L45.4 352.9 L45.6 349 L45.8 345.3 L45.9 341.7 L46.1 338.3 L46.2 335 L46.4 331.9 L46.5 328.9 L46.7 326 L46.8 323.3 L47 320.6 L47.1 318.1 L47.3 315.6 L47.4 313.3 L47.6 311.1 L47.7 308.9 L47.9 306.9 L48.1 304.9 L48.2 303 L48.4 301.2 L48.5 299.5 L48.7 297.8 L48.8 296.2 L49 294.7 L49.1 293.2 L49.3 291.8 L49.4 290.4 L49.6 289.1 L49.7 287.9 L49.9 286.7 L50 285.5 L50.2 284.4 L50.4 283.4 L50.5 282.3 L50.7 281.4 L50.8 280.4 L51 279.5 L51.1 278.7 L51.3 277.8 L51.4 277 L51.6 276.2 L51.7 275.5 L51.9 274.8 L52 274.1 L52.2 273.5 L52.4 272.8 L52.5 272.2 L52.7 271.6 L52.8 271.1 L53 270.5 L53.1 270 L53.3 269.5 L53.4 269 L53.6 268.5 L53.7 268.1 L53.9 267.6 L54 267.2 L54.2 266.8 L54.3 266.4 L54.5 266 L54.7 265.7 L54.8 265.3 L55 265 L55.1 264.6 L55.3 264.3 L55.4 264 L55.6 263.7 L55.7 263.4 L55.9 263.2 L56 262.9 L56.2 262.6 L56.3 262.4 L56.5 262.1 L56.6 261.9 L56.8 261.6 L57 261.4 L57.1 261.2 L57.3 261 L57.4 260.8 L57.6 260.6 L57.7 260.4 L57.9 260.2 L58 260 L58.2 259.8 L58.3 259.7 L58.5 259.5 L58.6 259.3 L58.8 259.2 L59 259 L59.1 258.8 L59.3 258.7 L59.4 258.5 L59.6 258.4 L59.7 258.3 L59.9 258.1 L60 258 L60.2 257.8 L60.3 257.7 L60.5 257.6 L60.6 257.5 L60.8 257.3 L60.9 257.2 L61.1 257.1 L61.3 257 L61.4 256.9 L61.6 256.7 L61.7 256.6 L61.9 256.5 L62 256.4 L62.2 256.3 L62.3 256.2 L62.5 256.1 L62.6 256 L62.8 255.9 L62.9 255.8 L63.1 255.7 L63.2 255.6 L63.4 255.5 L63.6 255.4 L63.7 255.3 L63.9 255.2 L64 255.1 L64.2 255 L64.3 254.9 L64.5 254.8 L64.6 254.7 L64.8 254.7 L64.9 254.6 L65.1 254.5 L65.2 254.4 L65.4 254.3 L65.6 254.2 L65.7 254.1 L65.9 254 L66 254 L66.2 253.9 L66.3 253.8 L66.5 253.7 L66.6 253.6 L66.8 253.5 L66.9 253.5 L67.1 253.4 L67.2 253.3 L67.4 253.2 L67.5 253.1 L67.7 253.1 L67.9 253 L68 252.9 L68.2 252.8 L68.3 252.7 L68.5 252.7 L68.6 252.6 L68.8 252.5 L68.9 252.4 L69.1 252.4 L69.2 252.3 L69.4 252.2 L69.5 252.1 L69.7 252 L69.9 252 L70 251.9 L70.2 251.8 L70.3 251.7 L70.5 251.7 L70.6 251.6 L70.8 251.5 L70.9 251.4 L71.1 251.4 L71.2 251.3 L71.4 251.2 L71.5 251.1 L71.7 251.1 L71.8 251 L72 250.9 L72.2 250.8 L72.3 250.8 L72.5 250.7 L72.6 250.6 L72.8 250.5 L72.9 250.5 L73.1 250.4 L73.2 250.3 L73.4 250.2 L73.5 250.2 L73.7 250.1 L73.8 250 L74 249.9 L74.1 249.9 L74.3 249.8 L74.5 249.7 L74.6 249.6 L74.8 249.6 L74.9 249.5 L75.1 249.4 L75.2 249.3 L75.4 249.3 L75.5 249.2 L75.7 249.1 L75.8 249.1 L76 249 L76.1 255.3 L76.3 261.2 L76.5 266.7 L76.6 271.9 L76.8 276.8 L76.9 281.4 L77.1 285.7 L77.2 289.7 L77.4 293.5 L77.5 297.1 L77.7 300.4 L77.8 303.6 L78 306.5 L78.1 309.3 L78.3 311.9 L78.4 314.3 L78.6 316.6 L78.8 318.8 L78.9 320.8 L79.1 322.8 L79.2 324.6 L79.4 326.3 L79.5 327.9 L79.7 329.4 L79.8 330.8 L80 332.1 L80.1 333.4 L80.3 334.6 L80.4 335.7 L80.6 336.7 L80.7 337.7 L80.9 338.7 L81.1 339.5 L81.2 340.4 L81.4 341.2 L81.5 341.9 L81.7 342.6 L81.8 343.3 L82 343.9 L82.1 344.5 L82.3 345.1 L82.4 345.6 L82.6 346.1 L82.7 346.6 L82.9 347.1 L83.1 347.5 L83.2 347.9 L83.4 348.3 L83.5 348.7 L83.7 349 L83.8 349.3 L84 349.7 L84.1 350 L84.3 350.2 L84.4 350.5 L84.6 350.8 L84.7 351 L84.9 351.3 L85 351.5 L85.2 351.7 L85.4 351.9 L85.5 352.1 L85.7 352.3 L85.8 352.5 L86 352.7 L86.1 352.8 L86.3 353 L86.4 353.1 L86.6 353.3 L86.7 353.4 L86.9 353.5 L87 353.7 L87.2 353.8 L87.3 353.9 L87.5 354 L87.7 354.1 L87.8 354.2 L88 354.3 L88.1 354.4 L88.3 354.5 L88.4 354.6 L88.6 354.7 L88.7 354.8 L88.9 354.9 L89 355 L89.2 355 L89.3 355.1 L89.5 355.2 L89.7 355.2 L89.8 355.3 L90 355.4 L90.1 355.4 L90.3 355.5 L90.4 355.6 L90.6 355.6 L90.7 355.7 L90.9 355.7 L91 355.8 L91.2 355.8 L91.3 355.9 L91.5 355.9 L91.6 356 L91.8 356 L92 356.1 L92.1 356.1 L92.3 356.1 L92.4 356.2 L92.6 356.2 L92.7 356.3 L92.9 356.3 L93 356.3 L93.2 356.4 L93.3 356.4 L93.5 356.4 L93.6 356.5 L93.8 356.5 L93.9 356.5 L94.1 356.5 L94.3 356.6 L94.4 356.6 L94.6 356.6 L94.7 356.7 L94.9 356.7 L95 356.7 L95.2 356.7 L95.3 356.8 L95.5 356.8 L95.6 356.8 L95.8 356.8 L95.9 356.8 L96.1 356.9 L96.3 356.9 L96.4 356.9 L96.6 356.9 L96.7 356.9 L96.9 357 L97 357 L97.2 357 L97.3 357 L97.5 357 L97.6 357.1 L97.8 357.1 L97.9 357.1 L98.1 357.1 L98.2 357.1 L98.4 357.1 L98.6 357.1 L98.7 357.2 L98.9 357.2 L99 357.2 L99.2 357.2 L99.3 357.2 L99.5 357.2 L99.6 357.2 L99.8 357.2 L99.9 357.3 L100.1 357.3 L100.2 357.3 L100.4 357.3 L100.6 357.3 L100.7 357.3 L100.9 357.3 L101 357.3 L101.2 357.3 L101.3 357.4 L101.5 357.4 L101.6 357.4 L101.8 357.4 L101.9 357.4 L102.1 357.4 L102.2 357.4 L102.4 357.4 L102.5 357.4 L102.7 357.4 L102.9 357.4 L103 357.4 L103.2 357.5 L103.3 357.5 L103.5 357.5 L103.6 357.5 L103.8 357.5 L103.9 357.5 L104.1 357.5 L104.2 357.5 L104.4 357.5 L104.5 357.5 L104.7 357.5 L104.8 357.5 L105 357.5 L105.2 357.5 L105.3 357.5 L105.5 357.5 L105.6 357.6 L105.8 357.6 L105.9 357.6 L106.1 357.6 L106.2 357.6 L106.4 357.6 L106.5 357.6 L106.7 356.9 L106.8 353.1 L107 349.5 L107.2 346 L107.3 342.6 L107.5 339.4 L107.6 336.4 L107.8 333.4 L107.9 330.6 L108.1 327.9 L108.2 325.3 L108.4 322.8 L108.5 320.4 L108.7 318.1 L108.8 316 L109 313.9 L109.1 311.8 L109.3 309.9 L109.5 308.1 L109.6 306.3 L109.8 304.6 L109.9 303 L110.1 301.4 L110.2 299.9 L110.4 298.4 L110.5 297.1 L110.7 295.7 L110.8 294.5 L111 293.2 L111.1 292.1 L111.3 290.9 L111.4 289.9 L111.6 288.8 L111.8 287.8 L111.9 286.9 L112.1 286 L112.2 285.1 L112.4 284.2 L112.5 283.4 L112.7 282.6 L112.8 281.9 L113 281.1 L113.1 280.5 L113.3 279.8 L113.4 279.1 L113.6 278.5 L113.8 277.9 L113.9 277.3 L114.1 276.8 L114.2 276.3 L114.4 275.8 L114.5 275.3 L114.7 274.8 L114.8 274.3 L115 273.9 L115.1 273.5 L115.3 273.1 L115.4 272.7 L115.6 272.3 L115.7 271.9 L115.9 271.6 L116.1 271.2 L116.2 270.9 L116.4 270.6 L116.5 270.2 L116.7 270 L116.8 269.7 L117 269.4 L117.1 269.1 L117.3 268.8 L117.4 268.6 L117.6 268.3 L117.7 268.1 L117.9 267.9 L118 267.7 L118.2 267.4 L118.4 267.2 L118.5 267 L118.7 266.8 L118.8 266.6 L119 266.4 L119.1 266.3 L119.3 266.1 L119.4 265.9 L119.6 265.7 L119.7 265.6 L119.9 265.4 L120 265.2 L120.2 265.1 L120.4 264.9 L120.5 264.8 L120.7 264.7 L120.8 264.5 L121 264.4 L121.1 264.2 L121.3 264.1 L121.4 264 L121.6 263.9 L121.7 263.7 L121.9 263.6 L122 263.5 L122.2 263.4 L122.3 263.3 L122.5 263.1 L122.7 263 L122.8 262.9 L123 262.8 L123.1 262.7 L123.3 262.6 L123.4 262.5 L123.6 262.4 L123.7 262.3 L123.9 262.2 L124 262.1 L124.2 262 L124.3 261.9 L124.5 261.8 L124.6 261.7 L124.8 261.6 L125 261.6 L125.1 261.5 L125.3 261.4 L125.4 261.3 L125.6 261.2 L125.7 261.1 L125.9 261 L126 260.9 L126.2 260.9 L126.3 260.8 L126.5 260.7 L126.6 260.6 L126.8 260.5 L127 260.5 L127.1 260.4 L127.3 260.3 L127.4 260.2 L127.6 260.1 L127.7 260.1 L127.9 260 L128 259.9 L128.2 259.8 L128.3 259.7 L128.5 259.7 L128.6 259.6 L128.8 259.5 L128.9 259.4 L129.1 259.4 L129.3 259.3 L129.4 259.2 L129.6 259.1 L129.7 259.1 L129.9 259 L130 258.9 L130.2 258.8 L130.3 258.8 L130.5 258.7 L130.6 258.6 L130.8 258.6 L130.9 258.5 L131.1 258.4 L131.3 258.3 L131.4 258.3 L131.6 258.2 L131.7 258.1 L131.9 258 L132 258 L132.2 257.9 L132.3 257.8 L132.5 257.8 L132.6 257.7 L132.8 257.6 L132.9 257.6 L133.1 257.5 L133.2 257.4 L133.4 257.3 L133.6 257.3 L133.7 257.2 L133.9 257.1 L134 257.1 L134.2 257 L134.3 256.9 L134.5 256.8 L134.6 256.8 L134.8 256.7 L134.9 256.6 L135.1 256.6 L135.2 256.5 L135.4 256.4 L135.5 256.4 L135.7 256.3 L135.9 256.2 L136 256.2 L136.2 256.1 L136.3 256 L136.5 255.9 L136.6 255.9 L136.8 255.8 L136.9 255.7 L137.1 255.7 L137.2 255.6 L137.4 255.5 L137.5 261.4 L137.7 267 L137.9 272.2 L138 277.1 L138.2 281.7 L138.3 286 L138.5 290 L138.6 293.8 L138.8 297.4 L138.9 300.7 L139.1 303.9 L139.2 306.8 L139.4 309.6 L139.5 312.2 L139.7 314.6 L139.8 316.9 L140 319.1 L140.2 321.1 L140.3 323.1 L140.5 324.9 L140.6 326.6 L140.8 328.1 L140.9 329.6 L141.1 331.1 L141.2 332.4 L141.4 333.6 L141.5 334.8 L141.7 335.9 L141.8 337 L142 338 L142.1 338.9 L142.3 339.8 L142.5 340.6 L142.6 341.4 L142.8 342.2 L142.9 342.9 L143.1 343.5 L143.2 344.1 L143.4 344.7 L143.5 345.3 L143.7 345.8 L143.8 346.3 L144 346.8 L144.1 347.3 L144.3 347.7 L144.5 348.1 L144.6 348.5 L144.8 348.9 L144.9 349.2 L145.1 349.5 L145.2 349.8 L145.4 350.1 L145.5 350.4 L145.7 350.7 L145.8 351 L146 351.2 L146.1 351.4 L146.3 351.7 L146.4 351.9 L146.6 352.1 L146.8 352.3 L146.9 352.4 L147.1 352.6 L147.2 352.8 L147.4 353 L147.5 353.1 L147.7 353.3 L147.8 353.4 L148 353.5 L148.1 353.7 L148.3 353.8 L148.4 353.9 L148.6 354 L148.7 354.1 L148.9 354.2 L149.1 354.4 L149.2 354.5 L149.4 354.5 L149.5 354.6 L149.7 354.7 L149.8 354.8 L150 354.9 L150.1 355 L150.3 355.1 L150.4 355.1 L150.6 355.2 L150.7 355.3 L150.9 355.3 L151.1 355.4 L151.2 355.5 L151.4 355.5 L151.5 355.6 L151.7 355.6 L151.8 355.7 L152 355.7 L152.1 355.8 L152.3 355.8 L152.4 355.9 L152.6 355.9 L152.7 356 L152.9 356 L153 356.1 L153.2 356.1 L153.4 356.2 L153.5 356.2 L153.7 356.2 L153.8 356.3 L154 356.3 L154.1 356.3 L154.3 356.4 L154.4 356.4 L154.6 356.4 L154.7 356.5 L154.9 356.5 L155 356.5 L155.2 356.6 L155.3 356.6 L155.5 356.6 L155.7 356.6 L155.8 356.7 L156 356.7 L156.1 356.7 L156.3 356.7 L156.4 356.8 L156.6 356.8 L156.7 356.8 L156.9 356.8 L157 356.9 L157.2 356.9 L157.3 356.9 L157.5 356.9 L157.7 356.9 L157.8 357 L158 357 L158.1 357 L158.3 357 L158.4 357 L158.6 357 L158.7 357.1 L158.9 357.1 L159 357.1 L159.2 357.1 L159.3 357.1 L159.5 357.1 L159.6 357.2 L159.8 357.2 L160 357.2 L160.1 357.2 L160.3 357.2 L160.4 357.2 L160.6 357.2 L160.7 357.2 L160.9 357.3 L161 357.3 L161.2 357.3 L161.3 357.3 L161.5 357.3 L161.6 357.3 L161.8 357.3 L161.9 357.3 L162.1 357.3 L162.3 357.4 L162.4 357.4 L162.6 357.4 L162.7 357.4 L162.9 357.4 L163 357.4 L163.2 357.4 L163.3 357.4 L163.5 357.4 L163.6 357.4 L163.8 357.4 L163.9 357.4 L164.1 357.5 L164.3 357.5 L164.4 357.5 L164.6 357.5 L164.7 357.5 L164.9 357.5 L165 357.5 L165.2 357.5 L165.3 357.5 L165.5 357.5 L165.6 357.5 L165.8 357.5 L165.9 357.5 L166.1 357.5 L166.2 357.5 L166.4 357.5 L166.6 357.5 L166.7 357.6 L166.9 357.6 L167 357.6 L167.2 357.6 L167.3 357.6 L167.5 357.6 L167.6 357.6 L167.8 357.6 L167.9 357.6 L168.1 357.6 L168.2 353.3 L168.4 349.9 L168.6 346.6 L168.7 343.4 L168.9 340.4 L169 337.5 L169.2 334.7 L169.3 332.1 L169.5 329.5 L169.6 327.1 L169.8 324.7 L169.9 322.5 L170.1 320.3 L170.2 318.3 L170.4 316.3 L170.5 314.4 L170.7 312.6 L170.9 310.8 L171 309.1 L171.2 307.5 L171.3 306 L171.5 304.5 L171.6 303.1 L171.8 301.7 L171.9 300.4 L172.1 299.2 L172.2 298 L172.4 296.8 L172.5 295.7 L172.7 294.6 L172.8 293.6 L173 292.6 L173.2 291.7 L173.3 290.8 L173.5 289.9 L173.6 289.1 L173.8 288.3 L173.9 287.5 L174.1 286.8 L174.2 286.1 L174.4 285.4 L174.5 284.7 L174.7 284.1 L174.8 283.5 L175 282.9 L175.2 282.3 L175.3 281.8 L175.5 281.3 L175.6 280.8 L175.8 280.3 L175.9 279.8 L176.1 279.4 L176.2 279 L176.4 278.5 L176.5 278.1 L176.7 277.8 L176.8 277.4 L177 277 L177.1 276.7 L177.3 276.3 L177.5 276 L177.6 275.7 L177.8 275.4 L177.9 275.1 L178.1 274.8 L178.2 274.5 L178.4 274.3 L178.5 274 L178.7 273.8 L178.8 273.5 L179 273.3 L179.1 273.1 L179.3 272.9 L179.4 272.7 L179.6 272.4 L179.8 272.2 L179.9 272.1 L180.1 271.9 L180.2 271.7 L180.4 271.5 L180.5 271.3 L180.7 271.2 L180.8 271 L181 270.8 L181.1 270.7 L181.3 270.5 L181.4 270.4 L181.6 270.2 L181.8 270.1 L181.9 270 L182.1 269.8 L182.2 269.7 L182.4 269.6 L182.5 269.4 L182.7 269.3 L182.8 269.2 L183 269.1 L183.1 269 L183.3 268.8 L183.4 268.7 L183.6 268.6 L183.7 268.5 L183.9 268.4 L184.1 268.3 L184.2 268.2 L184.4 268.1 L184.5 268 L184.7 267.9 L184.8 267.8 L185 267.7 L185.1 267.6 L185.3 267.5 L185.4 267.4 L185.6 267.3 L185.7 267.2 L185.9 267.2 L186 267.1 L186.2 267 L186.4 266.9 L186.5 266.8 L186.7 266.7 L186.8 266.6 L187 266.6 L187.1 266.5 L187.3 266.4 L187.4 266.3 L187.6 266.2 L187.7 266.2 L187.9 266.1 L188 266 L188.2 265.9 L188.4 265.9 L188.5 265.8 L188.7 265.7 L188.8 265.6 L189 265.6 L189.1 265.5 L189.3 265.4 L189.4 265.3 L189.6 265.3 L189.7 265.2 L189.9 265.1 L190 265 L190.2 265 L190.3 264.9 L190.5 264.8 L190.7 264.8 L190.8 264.7 L191 264.6 L191.1 264.5 L191.3 264.5 L191.4 264.4 L191.6 264.3 L191.7 264.3 L191.9 264.2 L192 264.1 L192.2 264.1 L192.3 264 L192.5 263.9 L192.6 263.9 L192.8 263.8 L193 263.7 L193.1 263.7 L193.3 263.6 L193.4 263.5 L193.6 263.5 L193.7 263.4 L193.9 263.3 L194 263.3 L194.2 263.2 L194.3 263.1 L194.5 263.1 L194.6 263 L194.8 262.9 L195 262.9 L195.1 262.8 L195.3 262.7 L195.4 262.7 L195.6 262.6 L195.7 262.5 L195.9 262.5 L196 262.4 L196.2 262.3 L196.3 262.3 L196.5 262.2 L196.6 262.1 L196.8 262.1 L196.9 262 L197.1 261.9 L197.3 261.9 L197.4 261.8 L197.6 261.7 L197.7 261.7 L197.9 261.6 L198 261.5 L198.2 261.5 L198.3 261.4 L198.5 261.3 L198.6 261.3 L198.8 261.2 L198.9 266.8 L199.1 272 L199.3 277 L199.4 281.6 L199.6 285.9 L199.7 290 L199.9 293.8 L200 297.4 L200.2 300.7 L200.3 303.9 L200.5 306.9 L200.6 309.6 L200.8 312.3 L200.9 314.7 L201.1 317 L201.2 319.2 L201.4 321.2 L201.6 323.2 L201.7 325 L201.9 326.7 L202 328.3 L202.2 329.8 L202.3 331.2 L202.5 332.5 L202.6 333.8 L202.8 335 L202.9 336.1 L203.1 337.1 L203.2 338.1 L203.4 339.1 L203.5 340 L203.7 340.8 L203.9 341.6 L204 342.3 L204.2 343 L204.3 343.7 L204.5 344.3 L204.6 344.9 L204.8 345.5 L204.9 346 L205.1 346.5 L205.2 347 L205.4 347.4 L205.5 347.8 L205.7 348.2 L205.9 348.6 L206 349 L206.2 349.3 L206.3 349.7 L206.5 350 L206.6 350.3 L206.8 350.6 L206.9 350.8 L207.1 351.1 L207.2 351.3 L207.4 351.6 L207.5 351.8 L207.7 352 L207.8 352.2 L208 352.4 L208.2 352.6 L208.3 352.7 L208.5 352.9 L208.6 353.1 L208.8 353.2 L208.9 353.4 L209.1 353.5 L209.2 353.6 L209.4 353.8 L209.5 353.9 L209.7 354 L209.8 354.1 L210 354.2 L210.1 354.3 L210.3 354.4 L210.5 354.5 L210.6 354.6 L210.8 354.7 L210.9 354.8 L211.1 354.9 L211.2 355 L211.4 355.1 L211.5 355.1 L211.7 355.2 L211.8 355.3 L212 355.3 L212.1 355.4 L212.3 355.5 L212.5 355.5 L212.6 355.6 L212.8 355.6 L212.9 355.7 L213.1 355.8 L213.2 355.8 L213.4 355.9 L213.5 355.9 L213.7 356 L213.8 356 L214 356 L214.1 356.1 L214.3 356.1 L214.4 356.2 L214.6 356.2 L214.8 356.2 L214.9 356.3 L215.1 356.3 L215.2 356.4 L215.4 356.4 L215.5 356.4 L215.7 356.5 L215.8 356.5 L216 356.5 L216.1 356.5 L216.3 356.6 L216.4 356.6 L216.6 356.6 L216.7 356.7 L216.9 356.7 L217.1 356.7 L217.2 356.7 L217.4 356.8 L217.5 356.8 L217.7 356.8 L217.8 356.8 L218 356.8 L218.1 356.9 L218.3 356.9 L218.4 356.9 L218.6 356.9 L218.7 356.9 L218.9 357 L219.1 357 L219.2 357 L219.4 357 L219.5 357 L219.7 357.1 L219.8 357.1 L220 357.1 L220.1 357.1 L220.3 357.1 L220.4 357.1 L220.6 357.1 L220.7 357.2 L220.9 357.2 L221 357.2 L221.2 357.2 L221.4 357.2 L221.5 357.2 L221.7 357.2 L221.8 357.3 L222 357.3 L222.1 357.3 L222.3 357.3 L222.4 357.3 L222.6 357.3 L222.7 357.3 L222.9 357.3 L223 357.3 L223.2 357.3 L223.3 357.4 L223.5 357.4 L223.7 357.4 L223.8 357.4 L224 357.4 L224.1 357.4 L224.3 357.4 L224.4 357.4 L224.6 357.4 L224.7 357.4 L224.9 357.4" fill="none" stroke="#3f78e6" stroke-width="1.6" stroke-linejoin="round"/>
<line x1="38.5" y1="223" x2="58.6" y2="223" stroke="#ec3c44" stroke-width="1.8"/>
<line x1="38.5" y1="233.4" x2="58.6" y2="233.4" stroke="#3f78e6" stroke-width="1.8"/>
<text x="60.7" y="226" font-size="8.3" text-anchor="start" fill="#111">PTT COF</text>
<text x="60.7" y="236.4" font-size="8.3" text-anchor="start" fill="#111">STT COF</text>
<text x="230.9" y="216.9" font-size="17" fill="#000">e</text>
<rect x="250.6" y="208.3" width="198.6" height="159.7" fill="none" stroke="#000" stroke-width="1.5"/>
<line x1="262.5" y1="368" x2="262.5" y2="370.8" stroke="#000" stroke-width="1.2"/>
<text x="262.5" y="380" font-size="8.9" text-anchor="middle" fill="#111">0</text>
<line x1="309.2" y1="368" x2="309.2" y2="370.8" stroke="#000" stroke-width="1.2"/>
<text x="309.2" y="380" font-size="8.9" text-anchor="middle" fill="#111">20</text>
<line x1="355.9" y1="368" x2="355.9" y2="370.8" stroke="#000" stroke-width="1.2"/>
<text x="355.9" y="380" font-size="8.9" text-anchor="middle" fill="#111">40</text>
<line x1="402.6" y1="368" x2="402.6" y2="370.8" stroke="#000" stroke-width="1.2"/>
<text x="402.6" y="380" font-size="8.9" text-anchor="middle" fill="#111">60</text>
<line x1="449.3" y1="368" x2="449.3" y2="370.8" stroke="#000" stroke-width="1.2"/>
<text x="449.3" y="380" font-size="8.9" text-anchor="middle" fill="#111">80</text>
<line x1="285.9" y1="368" x2="285.9" y2="369.8" stroke="#000" stroke-width="1.1"/>
<line x1="332.6" y1="368" x2="332.6" y2="369.8" stroke="#000" stroke-width="1.1"/>
<line x1="379.2" y1="368" x2="379.2" y2="369.8" stroke="#000" stroke-width="1.1"/>
<line x1="425.9" y1="368" x2="425.9" y2="369.8" stroke="#000" stroke-width="1.1"/>
<text x="239.9" y="288.4" font-size="10.5" text-anchor="middle" fill="#111" transform="rotate(-90 239.9 288.4)" dy="3.8">-Z'' <tspan font-family="Liberation Serif" font-weight="normal" font-size="13.5">(</tspan><tspan font-family="Liberation Serif" font-weight="normal" font-size="11.5">Ω</tspan><tspan font-family="Liberation Serif" font-weight="normal" font-size="13.5">)</tspan></text>
<text x="349.6" y="392.9" font-size="10.5" text-anchor="middle" fill="#111">Z' <tspan font-family="Liberation Serif" font-weight="normal" font-size="13.5">(</tspan><tspan font-family="Liberation Serif" font-weight="normal" font-size="11.5">Ω</tspan><tspan font-family="Liberation Serif" font-weight="normal" font-size="13.5">)</tspan></text>
<g fill="#ec3c44">
<circle cx="262.4" cy="341.5" r="3.1"/>
<circle cx="272.8" cy="338.8" r="3.1"/>
<circle cx="282.3" cy="335.8" r="3.1"/>
<circle cx="292.2" cy="333.3" r="3.1"/>
<circle cx="305.1" cy="331.4" r="3.1"/>
<circle cx="318.7" cy="330.6" r="3.1"/>
<circle cx="330.6" cy="331.6" r="3.1"/>
<circle cx="341.8" cy="333.3" r="3.1"/>
<circle cx="351.2" cy="336.3" r="3.1"/>
<circle cx="359.7" cy="339.6" r="3.1"/>
<circle cx="366.6" cy="342" r="3.1"/>
<circle cx="371.6" cy="345.8" r="3.1"/>
<circle cx="374.5" cy="348.5" r="3.1"/>
<circle cx="376.5" cy="351" r="3.1"/>
<circle cx="378.5" cy="353" r="3.1"/>
<circle cx="380.5" cy="354.6" r="3.1"/>
<circle cx="382.5" cy="355.9" r="3.1"/>
<circle cx="384.5" cy="357" r="3.1"/>
<circle cx="386.5" cy="357.9" r="3.1"/>
<circle cx="388.5" cy="358.6" r="3.1"/>
<circle cx="390.5" cy="359.1" r="3.1"/>
<circle cx="392.5" cy="359.5" r="3.1"/>
<circle cx="394.5" cy="359.7" r="3.1"/>
<circle cx="396.5" cy="359.8" r="3.1"/>
<circle cx="398.5" cy="359.7" r="3.1"/>
<circle cx="400.5" cy="359.4" r="3.1"/>
<circle cx="402.3" cy="358.8" r="3.1"/>
<circle cx="404" cy="357.8" r="3.1"/>
<circle cx="405.5" cy="356.4" r="3.1"/>
<circle cx="406.8" cy="354.6" r="3.1"/>
<circle cx="407.9" cy="352.4" r="3.1"/>
<circle cx="408.8" cy="349.8" r="3.1"/>
<circle cx="409.6" cy="347" r="3.1"/>
<circle cx="410.3" cy="344" r="3.1"/>
<circle cx="411" cy="340.8" r="3.1"/>
<circle cx="411.6" cy="337.4" r="3.1"/>
<circle cx="412.2" cy="333.8" r="3.1"/>
<circle cx="412.8" cy="330" r="3.1"/>
<circle cx="413.4" cy="326.2" r="3.1"/>
<circle cx="414.2" cy="319.4" r="3.1"/>
<circle cx="416" cy="308.9" r="3.1"/>
<circle cx="417.7" cy="297.3" r="3.1"/>
<circle cx="420.2" cy="281.5" r="3.1"/>
<circle cx="423.7" cy="265.1" r="3.1"/>
<circle cx="428.9" cy="242.3" r="3.1"/>
<circle cx="435.2" cy="216.7" r="3.1"/>
</g><g fill="#3f78e6">
<circle cx="262.4" cy="342.5" r="3.1"/>
<circle cx="273.6" cy="339.6" r="3.1"/>
<circle cx="282.3" cy="336.6" r="3.1"/>
<circle cx="293.4" cy="335.1" r="3.1"/>
<circle cx="305.8" cy="334.6" r="3.1"/>
<circle cx="318.7" cy="336.3" r="3.1"/>
<circle cx="329.4" cy="338.3" r="3.1"/>
<circle cx="338.8" cy="341" r="3.1"/>
<circle cx="345.5" cy="344" r="3.1"/>
<circle cx="351.7" cy="347" r="3.1"/>
<circle cx="357.2" cy="350" r="3.1"/>
<circle cx="359.9" cy="353.2" r="3.1"/>
<circle cx="363.2" cy="359.5" r="3.1"/>
<circle cx="364.6" cy="361.6" r="3.1"/>
<circle cx="366.2" cy="363" r="3.1"/>
<circle cx="367.9" cy="363.9" r="3.1"/>
<circle cx="369.6" cy="364.7" r="3.1"/>
<circle cx="371.4" cy="365.3" r="3.1"/>
<circle cx="372.8" cy="364.6" r="3.1"/>
<circle cx="374" cy="363" r="3.1"/>
<circle cx="375" cy="360.8" r="3.1"/>
<circle cx="376" cy="358.4" r="3.1"/>
<circle cx="376.9" cy="355.8" r="3.1"/>
<circle cx="377.8" cy="353" r="3.1"/>
<circle cx="378.6" cy="350.2" r="3.1"/>
<circle cx="379.4" cy="347.2" r="3.1"/>
<circle cx="380.2" cy="344" r="3.1"/>
<circle cx="381" cy="340.5" r="3.1"/>
<circle cx="381.8" cy="337" r="3.1"/>
<circle cx="382.8" cy="333.3" r="3.1"/>
<circle cx="384" cy="327.1" r="3.1"/>
<circle cx="385.2" cy="318.7" r="3.1"/>
<circle cx="386.9" cy="307.8" r="3.1"/>
<circle cx="390.4" cy="294.9" r="3.1"/>
<circle cx="394.2" cy="278.4" r="3.1"/>
<circle cx="399.5" cy="260.9" r="3.1"/>
<circle cx="407.2" cy="237" r="3.1"/>
<circle cx="417.7" cy="210.8" r="3.1"/>
</g>
<circle cx="273.6" cy="223.0" r="3.2" fill="#ec3c44"/>
<circle cx="273.6" cy="233.5" r="3.2" fill="#3f78e6"/>
<text x="282.6" y="226.1" font-size="8.3" text-anchor="start" fill="#111">PTT COF</text>
<text x="282.6" y="236.5" font-size="8.3" text-anchor="start" fill="#111">STT COF</text>
<text x="461.6" y="213.5" font-size="17" fill="#000">f</text>
<rect x="472.4" y="205.1" width="87.4" height="86.3" filter="url(#nA)"/>
<rect x="472.4" y="205.1" width="87.4" height="86.3" filter="url(#nD)" mask="url(#mkShadeA)"/>
<rect x="472.4" y="205.1" width="87.4" height="86.3" fill="url(#lightA)"/>
<rect x="495" y="234" width="40" height="35" filter="url(#nR)" mask="url(#mkRing)"/>
<line x1="497.6" y1="250.4" x2="503" y2="250.4" stroke="#fff" stroke-width="1.7"/>
<line x1="507.4" y1="250.4" x2="512.8" y2="250.4" stroke="#fff" stroke-width="1.7"/>
<line x1="517.2" y1="250.4" x2="522.6" y2="250.4" stroke="#fff" stroke-width="1.7"/>
<line x1="527" y1="250.4" x2="532.4" y2="250.4" stroke="#fff" stroke-width="1.7"/>
<rect x="476.1" y="208.5" width="38" height="11.5" fill="#fff"/>
<text x="478" y="217" font-size="7.6" text-anchor="start" fill="#111">PTT COF</text>
<rect x="534.8" y="279.1" width="22.4" height="10.1" fill="#fff"/>
<text x="546" y="285.2" font-size="6.2" text-anchor="middle" fill="#111">600 nm</text>
<line x1="537" y1="287.4" x2="555" y2="287.4" stroke="#111" stroke-width="1.1"/>
<rect x="472.4" y="293.8" width="87.4" height="86.3" filter="url(#nB)"/>
<rect x="490" y="305" width="69" height="75" filter="url(#nK)" mask="url(#mkBlob2)"/>
<rect x="505" y="310" width="50" height="50" filter="url(#nP)" mask="url(#mkBlob)"/>
<line x1="514.3" y1="332" x2="520.2" y2="332" stroke="#f4f4f4" stroke-width="1.8"/>
<line x1="524" y1="332" x2="529.9" y2="332" stroke="#f4f4f4" stroke-width="1.8"/>
<line x1="533.7" y1="332" x2="539.6" y2="332" stroke="#f4f4f4" stroke-width="1.8"/>
<line x1="543.9" y1="332" x2="549.8" y2="332" stroke="#f4f4f4" stroke-width="1.8"/>
<rect x="476.7" y="297.9" width="37" height="11.4" fill="#fff"/>
<text x="478.4" y="306.3" font-size="7.6" text-anchor="start" fill="#111">STT COF</text>
<rect x="536.3" y="368.9" width="21.7" height="8.5" fill="#fff"/>
<text x="547.2" y="374.1" font-size="6.2" text-anchor="middle" fill="#111">600 nm</text>
<line x1="538" y1="375.9" x2="556" y2="375.9" stroke="#111" stroke-width="1.1"/>
<rect x="487.2" y="385.2" width="54.1" height="5.4" fill="url(#afmcb)"/>
<text x="475.3" y="389.9" font-size="5.5" text-anchor="middle" fill="#333">964 mV</text>
<text x="552.8" y="389.9" font-size="5.5" text-anchor="middle" fill="#333">927 mV</text>
<rect x="590.3" y="206.6" width="85.1" height="161.3" fill="none" stroke="#000" stroke-width="1.5"/>
<line x1="587.7" y1="353.7" x2="590.3" y2="353.7" stroke="#000" stroke-width="1.2"/>
<text x="586" y="356.5" font-size="7.9" text-anchor="end" fill="#111">940</text>
<line x1="587.7" y1="316.9" x2="590.3" y2="316.9" stroke="#000" stroke-width="1.2"/>
<text x="586" y="319.8" font-size="7.9" text-anchor="end" fill="#111">945</text>
<line x1="587.7" y1="280.2" x2="590.3" y2="280.2" stroke="#000" stroke-width="1.2"/>
<text x="586" y="283" font-size="7.9" text-anchor="end" fill="#111">950</text>
<line x1="587.7" y1="243.4" x2="590.3" y2="243.4" stroke="#000" stroke-width="1.2"/>
<text x="586" y="246.3" font-size="7.9" text-anchor="end" fill="#111">955</text>
<line x1="587.7" y1="206.7" x2="590.3" y2="206.7" stroke="#000" stroke-width="1.2"/>
<text x="586" y="209.5" font-size="7.9" text-anchor="end" fill="#111">960</text>
<line x1="588.7" y1="335.3" x2="590.3" y2="335.3" stroke="#000" stroke-width="1"/>
<line x1="588.7" y1="298.6" x2="590.3" y2="298.6" stroke="#000" stroke-width="1"/>
<line x1="588.7" y1="261.8" x2="590.3" y2="261.8" stroke="#000" stroke-width="1"/>
<line x1="588.7" y1="225.1" x2="590.3" y2="225.1" stroke="#000" stroke-width="1"/>
<line x1="590.3" y1="367.9" x2="590.3" y2="370.5" stroke="#000" stroke-width="1.2"/>
<text x="590.3" y="379.3" font-size="7.9" text-anchor="middle" fill="#111">0</text>
<line x1="618.7" y1="367.9" x2="618.7" y2="370.5" stroke="#000" stroke-width="1.2"/>
<text x="618.7" y="379.3" font-size="7.9" text-anchor="middle" fill="#111">300</text>
<line x1="647" y1="367.9" x2="647" y2="370.5" stroke="#000" stroke-width="1.2"/>
<text x="647" y="379.3" font-size="7.9" text-anchor="middle" fill="#111">600</text>
<line x1="675.4" y1="367.9" x2="675.4" y2="370.5" stroke="#000" stroke-width="1.2"/>
<text x="675.4" y="379.3" font-size="7.9" text-anchor="middle" fill="#111">900</text>
<line x1="604.5" y1="367.9" x2="604.5" y2="369.5" stroke="#000" stroke-width="1"/>
<line x1="632.8" y1="367.9" x2="632.8" y2="369.5" stroke="#000" stroke-width="1"/>
<line x1="661.2" y1="367.9" x2="661.2" y2="369.5" stroke="#000" stroke-width="1"/>
<text x="0" y="3.5" font-size="9.7" text-anchor="middle" fill="#111" transform="translate(566.6 287) rotate(-90) scale(1 0.9)">CPD (nm)</text>
<text x="0" y="3.5" font-size="9.7" text-anchor="middle" fill="#111" transform="translate(632.4 385.2) scale(1 0.9)">Distance (nm)</text>
<path d="M590.3 296.3 L593 289 L597.9 280.8 L601.5 277.6 L604.5 276.8 L608 277.8 L611.1 279.5 L614 280.6 L617 280.2 L620.5 278 L624 272 L628 262 L632 251 L635 244 L636.8 242.2 L639 243.5 L642 248.5 L646 256.5 L649 262.7 L653 268.8 L656.5 272.5 L659 274.2 L662 274.4 L665.5 274 L668.5 274.6 L671 276.3 L673.5 278.8 L675.4 281" fill="none" stroke="#3f78e6" stroke-width="2.9" stroke-linejoin="round" stroke-linecap="round"/>
<path d="M590.3 331.3 L594 335.5 L599.6 341.8 L605 347.5 L609 350.8 L612.8 352.3 L616.5 351.8 L620.5 348.8 L624 347 L627 346.8 L630.5 348 L634 350.6 L637.5 352.4 L642 353.6 L647.4 354 L654 353.8 L659 353.2 L662.2 352.4 L665.5 350.5 L669 346.5 L672.5 341 L675.4 336.2" fill="none" stroke="#ec3c44" stroke-width="2.9" stroke-linejoin="round" stroke-linecap="round"/>
<circle cx="601.8" cy="217.8" r="2.1" fill="#ec3c44"/>
<circle cx="601.8" cy="227.6" r="2.1" fill="#3f78e6"/>
<text x="613" y="220.3" font-size="7.6" text-anchor="start" fill="#111">PTT COF</text>
<text x="613" y="230.2" font-size="7.6" text-anchor="start" fill="#111">STT COF</text>
<text x="606.0" y="293.2" font-size="7.5" fill="#3f78e6">ΔE<tspan font-size="5.2" dy="1.7">STT COF</tspan><tspan dy="-1.7">=7.2 mV</tspan></text>
<text x="606.0" y="334.6" font-size="7.5" fill="#ec3c44">ΔE<tspan font-size="5.2" dy="1.7">PTT COF</tspan><tspan dy="-1.7">=2.7 mV</tspan></text>
<text x="6.6" y="405.7" font-size="17" fill="#000">g</text>
<g shape-rendering="crispEdges"><rect x="24.5" y="403" width="166.5" height="2" fill="url(#g0)"/><rect x="24.5" y="405" width="166.5" height="2" fill="url(#g1)"/><rect x="24.5" y="407" width="166.5" height="2" fill="url(#g2)"/><rect x="24.5" y="409" width="166.5" height="2" fill="url(#g3)"/><rect x="24.5" y="411" width="166.5" height="2" fill="url(#g4)"/><rect x="24.5" y="413" width="166.5" height="2" fill="url(#g5)"/><rect x="24.5" y="415" width="166.5" height="2" fill="url(#g6)"/><rect x="24.5" y="417" width="166.5" height="2" fill="url(#g7)"/><rect x="24.5" y="419" width="166.5" height="2" fill="url(#g8)"/><rect x="24.5" y="421" width="166.5" height="2" fill="url(#g9)"/><rect x="24.5" y="423" width="166.5" height="2" fill="url(#g10)"/><rect x="24.5" y="425" width="166.5" height="2" fill="url(#g11)"/><rect x="24.5" y="427" width="166.5" height="2" fill="url(#g12)"/><rect x="24.5" y="429" width="166.5" height="2" fill="url(#g13)"/><rect x="24.5" y="431" width="166.5" height="2" fill="url(#g14)"/><rect x="24.5" y="433" width="166.5" height="2" fill="url(#g15)"/><rect x="24.5" y="435" width="166.5" height="2" fill="url(#g16)"/><rect x="24.5" y="437" width="166.5" height="2" fill="url(#g17)"/><rect x="24.5" y="439" width="166.5" height="2" fill="url(#g18)"/><rect x="24.5" y="441" width="166.5" height="2" fill="url(#g19)"/><rect x="24.5" y="443" width="166.5" height="2" fill="url(#g20)"/><rect x="24.5" y="445" width="166.5" height="2" fill="url(#g21)"/><rect x="24.5" y="447" width="166.5" height="2" fill="url(#g22)"/><rect x="24.5" y="449" width="166.5" height="2" fill="url(#g23)"/><rect x="24.5" y="451" width="166.5" height="2" fill="url(#g24)"/><rect x="24.5" y="453" width="166.5" height="2" fill="url(#g25)"/><rect x="24.5" y="455" width="166.5" height="2" fill="url(#g26)"/><rect x="24.5" y="457" width="166.5" height="2" fill="url(#g27)"/><rect x="24.5" y="459" width="166.5" height="2" fill="url(#g28)"/><rect x="24.5" y="461" width="166.5" height="2" fill="url(#g29)"/><rect x="24.5" y="463" width="166.5" height="2" fill="url(#g30)"/><rect x="24.5" y="465" width="166.5" height="2" fill="url(#g31)"/><rect x="24.5" y="467" width="166.5" height="2" fill="url(#g32)"/><rect x="24.5" y="469" width="166.5" height="2" fill="url(#g33)"/><rect x="24.5" y="471" width="166.5" height="2" fill="url(#g34)"/><rect x="24.5" y="473" width="166.5" height="2" fill="url(#g35)"/><rect x="24.5" y="475" width="166.5" height="2" fill="url(#g36)"/><rect x="24.5" y="477" width="166.5" height="2" fill="url(#g37)"/><rect x="24.5" y="479" width="166.5" height="2" fill="url(#g38)"/><rect x="24.5" y="481" width="166.5" height="2" fill="url(#g39)"/><rect x="24.5" y="483" width="166.5" height="2" fill="url(#g40)"/><rect x="24.5" y="485" width="166.5" height="2" fill="url(#g41)"/><rect x="24.5" y="487" width="166.5" height="2" fill="url(#g42)"/><rect x="24.5" y="489" width="166.5" height="2" fill="url(#g43)"/><rect x="24.5" y="491" width="166.5" height="2" fill="url(#g44)"/><rect x="24.5" y="493" width="166.5" height="2" fill="url(#g45)"/><rect x="24.5" y="495" width="166.5" height="2" fill="url(#g46)"/><rect x="24.5" y="497" width="166.5" height="2" fill="url(#g47)"/><rect x="24.5" y="499" width="166.5" height="2" fill="url(#g48)"/><rect x="24.5" y="501" width="166.5" height="2" fill="url(#g49)"/><rect x="24.5" y="503" width="166.5" height="2" fill="url(#g50)"/><rect x="24.5" y="505" width="166.5" height="2" fill="url(#g51)"/><rect x="24.5" y="507" width="166.5" height="2" fill="url(#g52)"/><rect x="24.5" y="509" width="166.5" height="2" fill="url(#g53)"/><rect x="24.5" y="511" width="166.5" height="2" fill="url(#g54)"/><rect x="24.5" y="513" width="166.5" height="2" fill="url(#g55)"/><rect x="24.5" y="515" width="166.5" height="2" fill="url(#g56)"/><rect x="24.5" y="517" width="166.5" height="2" fill="url(#g57)"/><rect x="24.5" y="519" width="166.5" height="2" fill="url(#g58)"/><rect x="24.5" y="521" width="166.5" height="2" fill="url(#g59)"/><rect x="24.5" y="523" width="166.5" height="2" fill="url(#g60)"/><rect x="24.5" y="525" width="166.5" height="2" fill="url(#g61)"/><rect x="24.5" y="527" width="166.5" height="2" fill="url(#g62)"/><rect x="24.5" y="529" width="166.5" height="2" fill="url(#g63)"/><rect x="24.5" y="531" width="166.5" height="2" fill="url(#g64)"/><rect x="24.5" y="533" width="166.5" height="2" fill="url(#g65)"/><rect x="24.5" y="535" width="166.5" height="2" fill="url(#g66)"/><rect x="24.5" y="537" width="166.5" height="2" fill="url(#g67)"/><rect x="24.5" y="539" width="166.5" height="2" fill="url(#g68)"/><rect x="24.5" y="541" width="166.5" height="2" fill="url(#g69)"/><rect x="24.5" y="543" width="166.5" height="2" fill="url(#g70)"/><rect x="24.5" y="545" width="166.5" height="2" fill="url(#g71)"/><rect x="24.5" y="547" width="166.5" height="2" fill="url(#g72)"/><rect x="24.5" y="549" width="166.5" height="2" fill="url(#g73)"/><rect x="24.5" y="551" width="166.5" height="2" fill="url(#g74)"/><rect x="24.5" y="553" width="166.5" height="2" fill="url(#g75)"/><rect x="24.5" y="555" width="166.5" height="2" fill="url(#g76)"/><rect x="24.5" y="557" width="166.5" height="2" fill="url(#g77)"/><rect x="24.5" y="559" width="166.5" height="2" fill="url(#g78)"/><rect x="24.5" y="561" width="166.5" height="2" fill="url(#g79)"/><rect x="24.5" y="563" width="166.5" height="2" fill="url(#g80)"/></g>
<rect x="24.5" y="403.6" width="166.5" height="159.8" fill="none" stroke="#000" stroke-width="1.5"/>
<line x1="52.6" y1="563.4" x2="52.6" y2="566.2" stroke="#000" stroke-width="1.2"/>
<text x="52.6" y="576" font-size="8.9" text-anchor="middle" fill="#111">500</text>
<line x1="98.9" y1="563.4" x2="98.9" y2="566.2" stroke="#000" stroke-width="1.2"/>
<text x="98.9" y="576" font-size="8.9" text-anchor="middle" fill="#111">600</text>
<line x1="145.2" y1="563.4" x2="145.2" y2="566.2" stroke="#000" stroke-width="1.2"/>
<text x="145.2" y="576" font-size="8.9" text-anchor="middle" fill="#111">700</text>
<line x1="191.5" y1="563.4" x2="191.5" y2="566.2" stroke="#000" stroke-width="1.2"/>
<text x="191.5" y="576" font-size="8.9" text-anchor="middle" fill="#111">800</text>
<line x1="29.4" y1="563.4" x2="29.4" y2="565.2" stroke="#000" stroke-width="1.1"/>
<line x1="75.8" y1="563.4" x2="75.8" y2="565.2" stroke="#000" stroke-width="1.1"/>
<line x1="122.1" y1="563.4" x2="122.1" y2="565.2" stroke="#000" stroke-width="1.1"/>
<line x1="168.3" y1="563.4" x2="168.3" y2="565.2" stroke="#000" stroke-width="1.1"/>
<text x="36.1" y="424.5" font-size="8.2" text-anchor="start" fill="#111">STT COF</text>
<text x="0" y="3.8" font-size="10.5" text-anchor="middle" fill="#111" transform="translate(14.7 479.3) rotate(-90) scale(1 0.9)">Delay Time (ps)</text>
<text x="0" y="3.8" font-size="10.5" text-anchor="middle" fill="#111" transform="translate(107.9 583.4) scale(1 0.9)">Wavelength (nm)</text>
<rect x="201.7" y="412.0" width="13.8" height="143.8" fill="url(#gcb)"/>
<text x="211.9" y="409.5" font-size="9" text-anchor="middle" fill="#111">0.021</text>
<text x="211" y="565.9" font-size="9" text-anchor="middle" fill="#111">-0.015</text>
<text x="233.6" y="406.4" font-size="17" fill="#000">h</text>
<rect x="250.4" y="403.9" width="198.2" height="159.8" fill="none" stroke="#000" stroke-width="1.5"/>
<line x1="256" y1="563.7" x2="256" y2="566.5" stroke="#000" stroke-width="1.2"/>
<text x="256" y="576.5" font-size="8.9" text-anchor="middle" fill="#111">450</text>
<line x1="283.5" y1="563.7" x2="283.5" y2="566.5" stroke="#000" stroke-width="1.2"/>
<text x="283.5" y="576.5" font-size="8.9" text-anchor="middle" fill="#111">500</text>
<line x1="311" y1="563.7" x2="311" y2="566.5" stroke="#000" stroke-width="1.2"/>
<text x="311" y="576.5" font-size="8.9" text-anchor="middle" fill="#111">550</text>
<line x1="338.5" y1="563.7" x2="338.5" y2="566.5" stroke="#000" stroke-width="1.2"/>
<text x="338.5" y="576.5" font-size="8.9" text-anchor="middle" fill="#111">600</text>
<line x1="366.1" y1="563.7" x2="366.1" y2="566.5" stroke="#000" stroke-width="1.2"/>
<text x="366.1" y="576.5" font-size="8.9" text-anchor="middle" fill="#111">650</text>
<line x1="393.6" y1="563.7" x2="393.6" y2="566.5" stroke="#000" stroke-width="1.2"/>
<text x="393.6" y="576.5" font-size="8.9" text-anchor="middle" fill="#111">700</text>
<line x1="421.1" y1="563.7" x2="421.1" y2="566.5" stroke="#000" stroke-width="1.2"/>
<text x="421.1" y="576.5" font-size="8.9" text-anchor="middle" fill="#111">750</text>
<line x1="448.6" y1="563.7" x2="448.6" y2="566.5" stroke="#000" stroke-width="1.2"/>
<text x="448.6" y="576.5" font-size="8.9" text-anchor="middle" fill="#111">800</text>
<line x1="247.6" y1="543.6" x2="250.4" y2="543.6" stroke="#000" stroke-width="1.2"/>
<text x="247.3" y="546.8" font-size="8.9" text-anchor="end" fill="#111">0.00</text>
<line x1="247.6" y1="503.7" x2="250.4" y2="503.7" stroke="#000" stroke-width="1.2"/>
<text x="247.3" y="506.9" font-size="8.9" text-anchor="end" fill="#111">0.01</text>
<line x1="247.6" y1="463.8" x2="250.4" y2="463.8" stroke="#000" stroke-width="1.2"/>
<text x="247.3" y="467" font-size="8.9" text-anchor="end" fill="#111">0.02</text>
<line x1="247.6" y1="423.9" x2="250.4" y2="423.9" stroke="#000" stroke-width="1.2"/>
<text x="247.3" y="427.1" font-size="8.9" text-anchor="end" fill="#111">0.03</text>
<line x1="248.6" y1="523.6" x2="250.4" y2="523.6" stroke="#000" stroke-width="1.1"/>
<line x1="248.6" y1="483.8" x2="250.4" y2="483.8" stroke="#000" stroke-width="1.1"/>
<line x1="248.6" y1="443.9" x2="250.4" y2="443.9" stroke="#000" stroke-width="1.1"/>
<text x="224.1" y="483.0" font-size="10.5" text-anchor="middle" fill="#111" transform="rotate(-90 224.1 483.0)" dy="3.8"><tspan font-family="Liberation Serif" font-weight="normal">ΔA</tspan> (OD)</text>
<text x="0" y="3.8" font-size="10.5" text-anchor="middle" fill="#111" transform="translate(350 585.3) scale(1 0.9)">Wavelength (nm)</text>
<path d="M249.4 529.7 L249.8 528.8 L250.3 528.8 L250.7 527.7 L251.2 528.3 L251.6 527.2 L252 526.9 L252.5 524.9 L252.9 524.1 L253.4 523.6 L253.8 522.8 L254.2 521.4 L254.7 520.8 L255.1 520.4 L255.6 520.7 L256 519.6 L256.4 519.1 L256.9 518.9 L257.3 518.3 L257.8 518.4 L258.2 517.8 L258.6 517.5 L259.1 517.5 L259.5 517.2 L260 516.4 L260.4 514.7 L260.8 513.1 L261.3 512.9 L261.7 512.4 L262.2 511.6 L262.6 510.3 L263 510.8 L263.5 511.9 L263.9 511.8 L264.4 510 L264.8 508.8 L265.2 508.2 L265.7 508.4 L266.1 508 L266.6 508.2 L267 508.1 L267.4 508.3 L267.9 507.5 L268.3 507 L268.8 507 L269.2 507.9 L269.6 508.7 L270.1 508.1 L270.5 508.5 L271 508 L271.4 507.8 L271.8 506.8 L272.3 506.2 L272.7 507 L273.2 506.8 L273.6 507 L274 505.8 L274.5 506.3 L274.9 505.6 L275.4 506.2 L275.8 506.1 L276.3 507.4 L276.7 508.2 L277.1 509.1 L277.6 508.8 L278 509.2 L278.5 509.4 L278.9 509.7 L279.3 509.6 L279.8 510.1 L280.2 510.8 L280.7 512.1 L281.1 513.1 L281.5 513.4 L282 511.8 L282.4 510.5 L282.9 509.9 L283.3 511.3 L283.7 512.8 L284.2 513.8 L284.6 515 L285.1 516.4 L285.5 517 L285.9 516.3 L286.4 515 L286.8 514.8 L287.3 515.2 L287.7 515.7 L288.1 517.3 L288.6 518 L289 519.1 L289.5 519.1 L289.9 518.4 L290.3 518.1 L290.8 518.1 L291.2 519.6 L291.7 518.8 L292.1 520.3 L292.5 520.7 L293 521.8 L293.4 521.6 L293.9 521.8 L294.3 522.3 L294.7 522 L295.2 521.6 L295.6 522.5 L296.1 522.8 L296.5 523.9 L296.9 524.1 L297.4 525.1 L297.8 524.5 L298.3 524.3 L298.7 524.4 L299.1 524.7 L299.6 525.1 L300 525 L300.5 525.3 L300.9 525.2 L301.3 525.6 L301.8 526.1 L302.2 525.5 L302.7 526.1 L303.1 525.5 L303.5 526.5 L304 526 L304.4 527.1 L304.9 526.9 L305.3 526.9 L305.7 525.7 L306.2 526.1 L306.6 526.4 L307.1 527.6 L307.5 527 L307.9 526.4 L308.4 526.1 L308.8 525.9 L309.3 526.2 L309.7 526.3 L310.1 526.9 L310.6 527.6 L311 527.4 L311.5 528.1 L311.9 527.3 L312.4 527 L312.8 526.4 L313.2 526.2 L313.7 526.7 L314.1 526.4 L314.6 526.9 L315 527 L315.4 526.9 L315.9 526 L316.3 524 L316.8 524.2 L317.2 524.7 L317.6 525.3 L318.1 525.8 L318.5 525.3 L319 526.8 L319.4 526.8 L319.8 527.5 L320.3 526.9 L320.7 525.8 L321.2 526.2 L321.6 526 L322 526.6 L322.5 525.9 L322.9 525.5 L323.4 524.9 L323.8 524.8 L324.2 524.8 L324.7 525.2 L325.1 526 L325.6 527 L326 526.8 L326.4 526.6 L326.9 526.1 L327.3 526.1 L327.8 525.5 L328.2 525.3 L328.6 525.7 L329.1 525.4 L329.5 524.3 L330 524.5 L330.4 524.5 L330.8 524.6 L331.3 523.6 L331.7 523.6 L332.2 523.9 L332.6 523.8 L333 522.9 L333.5 523.5 L333.9 524 L334.4 524.2 L334.8 523.1 L335.2 522.5 L335.7 522.3 L336.1 522 L336.6 521.8 L337 520.6 L337.4 521.2 L337.9 521.5 L338.3 523.2 L338.8 522.5 L339.2 522.1 L339.6 521.4 L340.1 522.1 L340.5 521.2 L341 520.8 L341.4 519.7 L341.8 521.1 L342.3 521 L342.7 521 L343.2 519.5 L343.6 519.2 L344 518.8 L344.5 520.2 L344.9 520.4 L345.4 520.7 L345.8 519.9 L346.2 519.8 L346.7 519.9 L347.1 519.1 L347.6 519 L348 518.4 L348.5 518.5 L348.9 518.3 L349.3 518.5 L349.8 519.8 L350.2 519.7 L350.7 519.1 L351.1 518.2 L351.5 518.7 L352 518.6 L352.4 518.8 L352.9 517.1 L353.3 517.4 L353.7 517.3 L354.2 518.1 L354.6 517.2 L355.1 516.4 L355.5 515.9 L355.9 516.5 L356.4 516.5 L356.8 516.6 L357.3 516.2 L357.7 515.3 L358.1 514.9 L358.6 514.3 L359 514.3 L359.5 514.9 L359.9 515.2 L360.3 514.9 L360.8 515 L361.2 515.4 L361.7 515.7 L362.1 515 L362.5 514.6 L363 514.8 L363.4 514.7 L363.9 514.6 L364.3 514.5 L364.7 514 L365.2 513.8 L365.6 513.7 L366.1 514 L366.5 514.1 L366.9 513.4 L367.4 513.3 L367.8 512.2 L368.3 512.7 L368.7 511.2 L369.1 511.8 L369.6 511.4 L370 512.4 L370.5 511.9 L370.9 511.4 L371.3 511.5 L371.8 511.4 L372.2 511.1 L372.7 510.4 L373.1 509.7 L373.5 511 L374 511 L374.4 511.8 L374.9 510.3 L375.3 509.2 L375.7 509.5 L376.2 510 L376.6 511 L377.1 509.8 L377.5 508.9 L377.9 509 L378.4 509 L378.8 509.5 L379.3 508.6 L379.7 508.9 L380.1 508.5 L380.6 508.9 L381 509.3 L381.5 509.9 L381.9 509.6 L382.3 509.5 L382.8 509.5 L383.2 509.7 L383.7 509.1 L384.1 508.3 L384.6 508.5 L385 508.7 L385.4 508.7 L385.9 508.6 L386.3 508 L386.8 508.1 L387.2 508.2 L387.6 508.3 L388.1 508.5 L388.5 507.2 L389 507.6 L389.4 506.7 L389.8 506.3 L390.3 506 L390.7 506.4 L391.2 507.6 L391.6 507.8 L392 507.7 L392.5 506.5 L392.9 506 L393.4 506.7 L393.8 507 L394.2 507.9 L394.7 506.7 L395.1 506.7 L395.6 506.1 L396 507.5 L396.4 507.8 L396.9 508.3 L397.3 508.1 L397.8 508.4 L398.2 508.9 L398.6 508.5 L399.1 508.2 L399.5 507.1 L400 507.4 L400.4 507.9 L400.8 507.7 L401.3 506.9 L401.7 507.5 L402.2 507.9 L402.6 508.1 L403 507.7 L403.5 507.5 L403.9 508.2 L404.4 508.1 L404.8 509.2 L405.2 508.5 L405.7 508.8 L406.1 509.9 L406.6 511.2 L407 511.2 L407.4 510.4 L407.9 509.1 L408.3 509.3 L408.8 509 L409.2 509.8 L409.6 509.2 L410.1 509.9 L410.5 511.1 L411 512.2 L411.4 511.7 L411.8 511.3 L412.3 510.9 L412.7 511.9 L413.2 511.7 L413.6 512.2 L414 512.1 L414.5 512.7 L414.9 513 L415.4 513.3 L415.8 514.6 L416.2 515 L416.7 515.5 L417.1 514.8 L417.6 514.9 L418 514.8 L418.4 514.4 L418.9 513.1 L419.3 511.9 L419.8 511.4 L420.2 511.3 L420.6 510.3 L421.1 510.1 L421.5 509.9 L422 510.6 L422.4 511.3 L422.9 511.5 L423.3 511.6 L423.7 511.6 L424.2 512.7 L424.6 513.5 L425.1 512.9 L425.5 513.1 L425.9 512.6 L426.4 512.6 L426.8 513.1 L427.3 513.7 L427.7 513.7 L428.1 512.6 L428.6 511.7 L429 511.4 L429.5 510.7 L429.9 511 L430.3 511.7 L430.8 511.5 L431.2 511.7 L431.7 510.4 L432.1 510.3 L432.5 508.3 L433 508.3 L433.4 509.1 L433.9 509.3 L434.3 509.1 L434.7 507.5 L435.2 507.8 L435.6 508.3 L436.1 509.1 L436.5 509.3 L436.9 509.2 L437.4 509.4 L437.8 510 L438.3 509.4 L438.7 508.1 L439.1 508 L439.6 508.5 L440 509.1 L440.5 509.6 L440.9 509.9 L441.3 511.8 L441.8 512 L442.2 514.1 L442.7 514.1 L443.1 515.8 L443.5 516.7 L444 518.4 L444.4 520 L444.9 520.1 L445.3 520.2 L445.7 520.5 L446.2 521 L446.6 522.2 L447.1 522.2 L447.5 522.3 L447.9 522.4 L448.4 523.1" fill="none" stroke="#ead9b0" stroke-width="1.3" stroke-linejoin="round"/>
<path d="M249.4 514.6 L249.8 513.6 L250.3 513.7 L250.7 512.6 L251.2 513.2 L251.6 512 L252 511.8 L252.5 509.8 L252.9 509 L253.4 508.5 L253.8 507.7 L254.2 506.3 L254.7 505.6 L255.1 505.3 L255.6 505.5 L256 504.5 L256.4 504 L256.9 503.7 L257.3 503.1 L257.8 503 L258.2 502.2 L258.6 501.8 L259.1 501.7 L259.5 501.6 L260 500.9 L260.4 499.5 L260.8 498.3 L261.3 498.4 L261.7 498.2 L262.2 497.7 L262.6 496.8 L263 497.6 L263.5 499 L263.9 499.2 L264.4 497.8 L264.8 496.8 L265.2 496.3 L265.7 496.6 L266.1 496.4 L266.6 496.5 L267 496.3 L267.4 496.5 L267.9 495.6 L268.3 495.1 L268.8 495 L269.2 495.8 L269.6 496.5 L270.1 495.9 L270.5 496.2 L271 495.7 L271.4 495.5 L271.8 494.4 L272.3 493.8 L272.7 494.5 L273.2 494.3 L273.6 494.6 L274 493.4 L274.5 494 L274.9 493.3 L275.4 493.9 L275.8 493.5 L276.3 494.7 L276.7 495.2 L277.1 495.9 L277.6 495.4 L278 495.5 L278.5 495.6 L278.9 495.6 L279.3 495.3 L279.8 495.5 L280.2 496.1 L280.7 497.2 L281.1 497.9 L281.5 498 L282 496.2 L282.4 494.7 L282.9 493.8 L283.3 495 L283.7 496.3 L284.2 497.2 L284.6 498.2 L285.1 499.4 L285.5 499.8 L285.9 499 L286.4 497.4 L286.8 497.1 L287.3 497.3 L287.7 497.6 L288.1 499 L288.6 499.6 L289 500.4 L289.5 500.3 L289.9 499.5 L290.3 499 L290.8 498.8 L291.2 500.1 L291.7 499.1 L292.1 500.4 L292.5 500.6 L293 501.5 L293.4 501.1 L293.9 501.2 L294.3 501.5 L294.7 500.9 L295.2 500.4 L295.6 501.2 L296.1 501.3 L296.5 502.3 L296.9 502.5 L297.4 503.5 L297.8 502.9 L298.3 502.7 L298.7 502.9 L299.1 503.1 L299.6 503.6 L300 503.5 L300.5 503.8 L300.9 503.7 L301.3 504.1 L301.8 504.7 L302.2 504 L302.7 504.7 L303.1 504.1 L303.5 505.1 L304 504.6 L304.4 505.7 L304.9 505.5 L305.3 505.6 L305.7 504.4 L306.2 504.8 L306.6 505.2 L307.1 506.4 L307.5 505.8 L307.9 505.1 L308.4 504.9 L308.8 504.7 L309.3 505 L309.7 505.1 L310.1 505.7 L310.6 506.4 L311 506.3 L311.5 507.1 L311.9 506.3 L312.4 506.1 L312.8 505.6 L313.2 505.4 L313.7 506 L314.1 505.8 L314.6 506.3 L315 506.5 L315.4 506.5 L315.9 505.6 L316.3 503.7 L316.8 504 L317.2 504.5 L317.6 505.2 L318.1 505.7 L318.5 505.3 L319 506.9 L319.4 506.9 L319.8 507.7 L320.3 507.2 L320.7 506.2 L321.2 506.6 L321.6 506.5 L322 507.1 L322.5 506.5 L322.9 506.2 L323.4 505.6 L323.8 505.5 L324.2 505.7 L324.7 506.1 L325.1 507 L325.6 508 L326 507.9 L326.4 507.8 L326.9 507.3 L327.3 507.3 L327.8 506.8 L328.2 506.7 L328.6 507.2 L329.1 506.9 L329.5 505.8 L330 506.1 L330.4 506.1 L330.8 506.3 L331.3 505.3 L331.7 505.4 L332.2 505.8 L332.6 505.6 L333 504.8 L333.5 505.5 L333.9 506 L334.4 506.3 L334.8 505.3 L335.2 504.7 L335.7 504.5 L336.1 504.2 L336.6 504.1 L337 503 L337.4 503.6 L337.9 503.9 L338.3 505.8 L338.8 505.1 L339.2 504.7 L339.6 504.1 L340.1 504.8 L340.5 503.9 L341 503.6 L341.4 502.6 L341.8 504 L342.3 504 L342.7 504 L343.2 502.5 L343.6 502.2 L344 501.9 L344.5 503.3 L344.9 503.6 L345.4 503.9 L345.8 503.1 L346.2 503.1 L346.7 503.2 L347.1 502.4 L347.6 502.4 L348 501.8 L348.5 501.9 L348.9 501.8 L349.3 502 L349.8 503.3 L350.2 503.3 L350.7 502.8 L351.1 501.9 L351.5 502.4 L352 502.4 L352.4 502.6 L352.9 500.9 L353.3 501.3 L353.7 501.2 L354.2 502 L354.6 501.2 L355.1 500.4 L355.5 500 L355.9 500.5 L356.4 500.6 L356.8 500.8 L357.3 500.4 L357.7 499.6 L358.1 499.1 L358.6 498.6 L359 498.6 L359.5 499.3 L359.9 499.6 L360.3 499.4 L360.8 499.5 L361.2 500 L361.7 500.2 L362.1 499.6 L362.5 499.2 L363 499.5 L363.4 499.4 L363.9 499.4 L364.3 499.3 L364.7 498.8 L365.2 498.6 L365.6 498.7 L366.1 498.9 L366.5 499.1 L366.9 498.4 L367.4 498.4 L367.8 497.3 L368.3 497.9 L368.7 496.4 L369.1 497 L369.6 496.7 L370 497.7 L370.5 497.2 L370.9 496.8 L371.3 496.8 L371.8 496.8 L372.2 496.6 L372.7 495.9 L373.1 495.3 L373.5 496.5 L374 496.6 L374.4 497.4 L374.9 495.9 L375.3 494.8 L375.7 495.1 L376.2 495.6 L376.6 496.6 L377.1 495.4 L377.5 494.4 L377.9 494.6 L378.4 494.6 L378.8 495 L379.3 494.2 L379.7 494.6 L380.1 494.4 L380.6 495 L381 495.6 L381.5 496.4 L381.9 496.3 L382.3 496.4 L382.8 496.5 L383.2 497 L383.7 496.6 L384.1 495.9 L384.6 496.3 L385 496.7 L385.4 496.9 L385.9 497 L386.3 496.6 L386.8 496.9 L387.2 497.2 L387.6 497.5 L388.1 497.8 L388.5 496.6 L389 497 L389.4 496.1 L389.8 495.6 L390.3 495.1 L390.7 495.4 L391.2 496.5 L391.6 496.6 L392 496.3 L392.5 495 L392.9 494.4 L393.4 495 L393.8 495.2 L394.2 496 L394.7 494.7 L395.1 494.8 L395.6 494.3 L396 495.9 L396.4 496.3 L396.9 497 L397.3 496.9 L397.8 497.4 L398.2 498 L398.6 497.7 L399.1 497.7 L399.5 496.6 L400 497.1 L400.4 497.7 L400.8 497.6 L401.3 496.9 L401.7 497.6 L402.2 498.1 L402.6 498.3 L403 498 L403.5 497.9 L403.9 498.6 L404.4 498.5 L404.8 499.5 L405.2 498.7 L405.7 498.7 L406.1 499.5 L406.6 500.6 L407 500.3 L407.4 499.2 L407.9 497.6 L408.3 497.5 L408.8 496.9 L409.2 497.3 L409.6 496.3 L410.1 496.6 L410.5 497.2 L411 497.7 L411.4 496.6 L411.8 495.6 L412.3 494.7 L412.7 495.1 L413.2 494.2 L413.6 494.1 L414 493.7 L414.5 494 L414.9 494.3 L415.4 494.6 L415.8 496.2 L416.2 496.8 L416.7 497.6 L417.1 497.3 L417.6 498 L418 498.8 L418.4 499.4 L418.9 499.2 L419.3 498.9 L419.8 499 L420.2 499.3 L420.6 498.5 L421.1 498.1 L421.5 497.5 L422 497.5 L422.4 497.2 L422.9 496.2 L423.3 494.9 L423.7 493.7 L424.2 493.5 L424.6 493.2 L425.1 492 L425.5 491.9 L425.9 491.4 L426.4 491.9 L426.8 493 L427.3 494.2 L427.7 494.9 L428.1 494.4 L428.6 494.2 L429 494.5 L429.5 494.3 L429.9 494.8 L430.3 495.6 L430.8 495.4 L431.2 495.2 L431.7 493.5 L432.1 493 L432.5 490.7 L433 490.3 L433.4 490.7 L433.9 490.5 L434.3 489.9 L434.7 488 L435.2 487.8 L435.6 488 L436.1 488.7 L436.5 489 L436.9 489.2 L437.4 490.1 L437.8 491.5 L438.3 491.9 L438.7 491.5 L439.1 492.1 L439.6 493.1 L440 493.9 L440.5 494.4 L440.9 494.4 L441.3 495.9 L441.8 495.7 L442.2 497.1 L442.7 496.6 L443.1 497.5 L443.5 497.8 L444 498.8 L444.4 499.9 L444.9 499.6 L445.3 499.6 L445.7 499.7 L446.2 500.4 L446.6 501.5 L447.1 501.5 L447.5 501.5 L447.9 501.5 L448.4 502.1" fill="none" stroke="#d4eaf0" stroke-width="1.3" stroke-linejoin="round"/>
<path d="M249.4 527.2 L249.8 526.3 L250.3 525.8 L250.7 524.7 L251.2 525 L251.6 523.8 L252 523.4 L252.5 522 L252.9 522 L253.4 520.8 L253.8 520.6 L254.2 519.4 L254.7 518.4 L255.1 518.1 L255.6 517.2 L256 516.6 L256.4 514.9 L256.9 514.2 L257.3 514.7 L257.8 513.8 L258.2 514.9 L258.6 514.1 L259.1 514.4 L259.5 512.8 L260 511.8 L260.4 511.4 L260.8 511.3 L261.3 511.7 L261.7 511.5 L262.2 510.2 L262.6 510.5 L263 510.2 L263.5 511 L263.9 509.9 L264.4 509.5 L264.8 509 L265.2 508.4 L265.7 508.2 L266.1 508.5 L266.6 508 L267 508.1 L267.4 508 L267.9 507.2 L268.3 507 L268.8 506.6 L269.2 508.3 L269.6 507.7 L270.1 507.9 L270.5 507.2 L271 506.9 L271.4 506 L271.8 505.9 L272.3 505.9 L272.7 505.8 L273.2 505.4 L273.6 505.9 L274 505.8 L274.5 506.5 L274.9 505.9 L275.4 506.3 L275.8 506.4 L276.3 507.4 L276.7 506.5 L277.1 507.2 L277.6 506.9 L278 508.5 L278.5 507.6 L278.9 507.8 L279.3 507.5 L279.8 507.7 L280.2 508.1 L280.7 509.5 L281.1 510.3 L281.5 510.3 L282 509.7 L282.4 509.3 L282.9 509.9 L283.3 511 L283.7 512.1 L284.2 512.2 L284.6 511.4 L285.1 510.9 L285.5 510.9 L285.9 512.2 L286.4 513.1 L286.8 513.5 L287.3 513 L287.7 512.6 L288.1 513.7 L288.6 513.8 L289 515.7 L289.5 515.6 L289.9 516.1 L290.3 515.2 L290.8 514.8 L291.2 515.2 L291.7 515.3 L292.1 515.6 L292.5 516.2 L293 515.7 L293.4 516.6 L293.9 516.1 L294.3 517 L294.7 517.1 L295.2 517.6 L295.6 517.7 L296.1 518 L296.5 517.1 L296.9 517.9 L297.4 517.8 L297.8 518.4 L298.3 517.8 L298.7 517.4 L299.1 518.7 L299.6 519.1 L300 519.7 L300.5 518.5 L300.9 518.9 L301.3 519 L301.8 518.8 L302.2 518.4 L302.7 518.2 L303.1 519.3 L303.5 519 L304 520.2 L304.4 520.6 L304.9 521.5 L305.3 520.7 L305.7 520.4 L306.2 521.2 L306.6 521.3 L307.1 521.8 L307.5 519.6 L307.9 519.9 L308.4 519.1 L308.8 520.8 L309.3 520.9 L309.7 521.9 L310.1 521.3 L310.6 520.6 L311 520.8 L311.5 520.9 L311.9 521.2 L312.4 519.9 L312.8 520.3 L313.2 520 L313.7 521.1 L314.1 520.7 L314.6 521.6 L315 521.1 L315.4 520.6 L315.9 520.1 L316.3 518.6 L316.8 519.1 L317.2 519.7 L317.6 520.5 L318.1 520.3 L318.5 520.2 L319 520.1 L319.4 519.5 L319.8 520 L320.3 520.7 L320.7 520.8 L321.2 520.5 L321.6 519.5 L322 520.1 L322.5 519.5 L322.9 520.2 L323.4 520.6 L323.8 520.9 L324.2 521.3 L324.7 520.9 L325.1 520.3 L325.6 519.7 L326 519.6 L326.4 519.9 L326.9 519.4 L327.3 519.3 L327.8 519.5 L328.2 519.8 L328.6 520 L329.1 520.3 L329.5 519.6 L330 519.8 L330.4 519 L330.8 519.6 L331.3 519.1 L331.7 518.2 L332.2 517.4 L332.6 517 L333 518.5 L333.5 519.1 L333.9 520.1 L334.4 519 L334.8 518.6 L335.2 517.6 L335.7 517.1 L336.1 517.4 L336.6 517.8 L337 518.6 L337.4 518.1 L337.9 518.6 L338.3 518.2 L338.8 519.2 L339.2 517 L339.6 517.8 L340.1 518.2 L340.5 518.8 L341 517.6 L341.4 516.8 L341.8 517.3 L342.3 518.3 L342.7 518 L343.2 517.4 L343.6 516.5 L344 516.4 L344.5 517 L344.9 516.5 L345.4 515.4 L345.8 514.3 L346.2 515.3 L346.7 516 L347.1 517 L347.6 516.4 L348 516.1 L348.5 514.3 L348.9 513.9 L349.3 514 L349.8 515.4 L350.2 515.2 L350.7 515.9 L351.1 515.2 L351.5 515 L352 514.5 L352.4 514 L352.9 513.2 L353.3 513.1 L353.7 513.3 L354.2 514.6 L354.6 514.5 L355.1 514.3 L355.5 513.9 L355.9 514 L356.4 515.1 L356.8 515.1 L357.3 515 L357.7 514.8 L358.1 515 L358.6 514.4 L359 513.5 L359.5 512.3 L359.9 512.6 L360.3 511.9 L360.8 513.4 L361.2 512.6 L361.7 512.7 L362.1 510.7 L362.5 511.4 L363 510.9 L363.4 511.9 L363.9 510.9 L364.3 511.3 L364.7 510.1 L365.2 508.9 L365.6 508.8 L366.1 509.8 L366.5 511.2 L366.9 512.4 L367.4 512.7 L367.8 511.6 L368.3 511.2 L368.7 510.9 L369.1 511.6 L369.6 510.9 L370 510.6 L370.5 510.7 L370.9 510.5 L371.3 509.2 L371.8 508.2 L372.2 507.6 L372.7 508.5 L373.1 508.7 L373.5 508.4 L374 508.4 L374.4 508.9 L374.9 508.9 L375.3 508.8 L375.7 508.6 L376.2 508.8 L376.6 508.5 L377.1 508.6 L377.5 507.8 L377.9 507.6 L378.4 507.2 L378.8 507.6 L379.3 507.1 L379.7 507 L380.1 508.5 L380.6 509.8 L381 509.8 L381.5 508.4 L381.9 507.1 L382.3 506.8 L382.8 507 L383.2 507.2 L383.7 507.7 L384.1 507.1 L384.6 508.2 L385 507.1 L385.4 507.6 L385.9 506.4 L386.3 507.2 L386.8 507.8 L387.2 508.3 L387.6 508.1 L388.1 507.3 L388.5 507.1 L389 506.8 L389.4 507.2 L389.8 508 L390.3 508.4 L390.7 508.7 L391.2 508 L391.6 507.8 L392 507.1 L392.5 507.2 L392.9 506.7 L393.4 506.4 L393.8 505.8 L394.2 505.8 L394.7 505.7 L395.1 505.5 L395.6 505.6 L396 507 L396.4 507.7 L396.9 506.9 L397.3 506.9 L397.8 506.4 L398.2 507.4 L398.6 505.6 L399.1 505.5 L399.5 505.3 L400 506 L400.4 507 L400.8 505.9 L401.3 505.6 L401.7 505.3 L402.2 506.6 L402.6 506.7 L403 506.6 L403.5 506.8 L403.9 506.6 L404.4 506.4 L404.8 505.8 L405.2 505.8 L405.7 506.2 L406.1 505.7 L406.6 505.7 L407 505.8 L407.4 507.2 L407.9 507.7 L408.3 507 L408.8 506.8 L409.2 507.1 L409.6 507.5 L410.1 507.6 L410.5 507.5 L411 507 L411.4 506.3 L411.8 507.1 L412.3 508.2 L412.7 509.7 L413.2 509.7 L413.6 510.2 L414 509.6 L414.5 509.4 L414.9 509.8 L415.4 510.1 L415.8 511.2 L416.2 511.2 L416.7 511.9 L417.1 511.9 L417.6 512.4 L418 512.3 L418.4 511.4 L418.9 510.5 L419.3 509.1 L419.8 508.5 L420.2 508 L420.6 507.8 L421.1 507.8 L421.5 507.1 L422 507.1 L422.4 507 L422.9 507 L423.3 507.8 L423.7 508.4 L424.2 509.9 L424.6 511.3 L425.1 512.2 L425.5 512.2 L425.9 512.8 L426.4 512.2 L426.8 511.7 L427.3 509.6 L427.7 509.3 L428.1 508.6 L428.6 508.7 L429 508.8 L429.5 508.7 L429.9 508.9 L430.3 507.8 L430.8 508.3 L431.2 507 L431.7 507.7 L432.1 507.2 L432.5 508.3 L433 508 L433.4 507.6 L433.9 507.6 L434.3 508.2 L434.7 508.1 L435.2 508 L435.6 506.7 L436.1 506 L436.5 505.4 L436.9 504 L437.4 504.4 L437.8 504.6 L438.3 505 L438.7 504.7 L439.1 504.4 L439.6 505.5 L440 505.6 L440.5 505.4 L440.9 506.4 L441.3 508.7 L441.8 510.9 L442.2 511.7 L442.7 512.4 L443.1 513.1 L443.5 514.5 L444 514.9 L444.4 516.1 L444.9 517.2 L445.3 519.5 L445.7 519.9 L446.2 521 L446.6 520.7 L447.1 520.9 L447.5 520.7 L447.9 520.6 L448.4 520.9" fill="none" stroke="#a47c48" stroke-width="1.3" stroke-linejoin="round"/>
<path d="M249.4 503.7 L249.8 501.7 L250.3 501.5 L250.7 500.1 L251.2 499.5 L251.6 496.6 L252 495.1 L252.5 493.5 L252.9 493.1 L253.4 492.2 L253.8 491.6 L254.2 490.5 L254.7 488.8 L255.1 486.7 L255.6 485.5 L256 484.6 L256.4 484 L256.9 481.4 L257.3 480.8 L257.8 480.3 L258.2 479.6 L258.6 478.8 L259.1 477 L259.5 476.9 L260 476.5 L260.4 475.5 L260.8 475.3 L261.3 474.3 L261.7 475.5 L262.2 474.1 L262.6 474 L263 474.3 L263.5 475.3 L263.9 474.5 L264.4 473.3 L264.8 472.2 L265.2 472.6 L265.7 472.5 L266.1 472.4 L266.6 471.7 L267 472.3 L267.4 471.8 L267.9 472.8 L268.3 472.1 L268.8 473.4 L269.2 473.4 L269.6 471.9 L270.1 472.8 L270.5 472.2 L271 473.9 L271.4 473.2 L271.8 474.6 L272.3 474.4 L272.7 473.6 L273.2 472.2 L273.6 473.3 L274 474.3 L274.5 473.7 L274.9 474 L275.4 474.3 L275.8 475.3 L276.3 474.7 L276.7 474.2 L277.1 475 L277.6 475.4 L278 476.7 L278.5 477.3 L278.9 477.4 L279.3 476.6 L279.8 477.3 L280.2 477.9 L280.7 479.1 L281.1 478.2 L281.5 478 L282 477.8 L282.4 478.2 L282.9 477.7 L283.3 476.7 L283.7 476.7 L284.2 479.6 L284.6 480.4 L285.1 480.8 L285.5 478.6 L285.9 479.1 L286.4 479.9 L286.8 480.4 L287.3 480.8 L287.7 480.1 L288.1 480 L288.6 478.9 L289 478.6 L289.5 478.1 L289.9 479.2 L290.3 479.9 L290.8 482.3 L291.2 482.7 L291.7 482.7 L292.1 480.7 L292.5 480.5 L293 479.8 L293.4 481.4 L293.9 482.6 L294.3 483.5 L294.7 483.4 L295.2 482.8 L295.6 482.1 L296.1 482.4 L296.5 482.4 L296.9 483.1 L297.4 483.5 L297.8 484.5 L298.3 485.1 L298.7 485.2 L299.1 483.9 L299.6 483.8 L300 483 L300.5 483.5 L300.9 484 L301.3 484.9 L301.8 485.6 L302.2 485.7 L302.7 486.1 L303.1 486.2 L303.5 486.9 L304 486 L304.4 486.6 L304.9 485.8 L305.3 486.7 L305.7 486.7 L306.2 487.3 L306.6 487.2 L307.1 487.7 L307.5 487.7 L307.9 487.7 L308.4 487.5 L308.8 487.8 L309.3 487.8 L309.7 488.4 L310.1 489.1 L310.6 490.3 L311 490.1 L311.5 490.1 L311.9 489.5 L312.4 489.6 L312.8 489.8 L313.2 489.7 L313.7 489.9 L314.1 489.6 L314.6 489.7 L315 488.9 L315.4 489.9 L315.9 489.8 L316.3 490.2 L316.8 489.4 L317.2 489 L317.6 489.1 L318.1 489.6 L318.5 491.7 L319 492 L319.4 491.3 L319.8 490.3 L320.3 490.6 L320.7 491.2 L321.2 491 L321.6 490.3 L322 489.9 L322.5 489.2 L322.9 489.5 L323.4 490.1 L323.8 490.8 L324.2 491.1 L324.7 490.8 L325.1 491.4 L325.6 491 L326 491.5 L326.4 491.1 L326.9 490.6 L327.3 490.5 L327.8 490.2 L328.2 490.7 L328.6 490.6 L329.1 491.8 L329.5 492.3 L330 491.9 L330.4 491.8 L330.8 491.6 L331.3 491.9 L331.7 491.2 L332.2 490.6 L332.6 490.7 L333 490.5 L333.5 489.4 L333.9 489.1 L334.4 489.3 L334.8 490.1 L335.2 489.6 L335.7 489.1 L336.1 489.3 L336.6 489.5 L337 488.8 L337.4 488.6 L337.9 488.6 L338.3 489.5 L338.8 490.1 L339.2 490.4 L339.6 490.8 L340.1 491.2 L340.5 491.4 L341 491.1 L341.4 491.5 L341.8 490.4 L342.3 490.5 L342.7 490 L343.2 490.7 L343.6 490.1 L344 489 L344.5 488.6 L344.9 488.6 L345.4 489.7 L345.8 490.8 L346.2 491 L346.7 490.6 L347.1 489.5 L347.6 490.2 L348 489.4 L348.5 489.9 L348.9 489.9 L349.3 490.2 L349.8 490.4 L350.2 488.7 L350.7 488.5 L351.1 487.5 L351.5 487.8 L352 487.6 L352.4 488.2 L352.9 489.4 L353.3 489.8 L353.7 489.5 L354.2 489.8 L354.6 490.1 L355.1 490.9 L355.5 489.4 L355.9 489.6 L356.4 489.7 L356.8 490.4 L357.3 489.4 L357.7 489.8 L358.1 490.3 L358.6 490.8 L359 490.8 L359.5 489.9 L359.9 489.8 L360.3 488.6 L360.8 489.2 L361.2 489.6 L361.7 489.7 L362.1 489.1 L362.5 488.6 L363 489.2 L363.4 489.3 L363.9 488.7 L364.3 487.1 L364.7 487 L365.2 487.4 L365.6 488 L366.1 489 L366.5 489.8 L366.9 490.8 L367.4 490.4 L367.8 490.2 L368.3 490.4 L368.7 490.8 L369.1 491.7 L369.6 492.4 L370 492.5 L370.5 493 L370.9 492 L371.3 491.3 L371.8 491.6 L372.2 491.3 L372.7 491.5 L373.1 490.7 L373.5 491.7 L374 492.4 L374.4 492.8 L374.9 491.6 L375.3 491 L375.7 490.1 L376.2 492 L376.6 492.8 L377.1 493.3 L377.5 493.7 L377.9 494.8 L378.4 495.1 L378.8 494.7 L379.3 494.1 L379.7 493.3 L380.1 492.7 L380.6 492.2 L381 493.5 L381.5 493.5 L381.9 494.6 L382.3 494.6 L382.8 495.5 L383.2 496 L383.7 496.9 L384.1 498.2 L384.6 496.7 L385 495.2 L385.4 495.2 L385.9 496.3 L386.3 497.9 L386.8 497.2 L387.2 497.3 L387.6 498 L388.1 497.1 L388.5 498.1 L389 498.3 L389.4 499.6 L389.8 499.3 L390.3 500.3 L390.7 501.2 L391.2 501.9 L391.6 502.2 L392 502 L392.5 501.7 L392.9 502 L393.4 502.8 L393.8 504 L394.2 503.9 L394.7 503.7 L395.1 502.6 L395.6 501.2 L396 501.5 L396.4 502.4 L396.9 504.4 L397.3 504.4 L397.8 503.9 L398.2 503.3 L398.6 503.8 L399.1 504.4 L399.5 504.8 L400 505.2 L400.4 506.6 L400.8 508.1 L401.3 508.2 L401.7 507 L402.2 505.5 L402.6 505.6 L403 506.3 L403.5 508.1 L403.9 508.8 L404.4 509.2 L404.8 508.1 L405.2 507.1 L405.7 506.8 L406.1 506.8 L406.6 505.6 L407 503.6 L407.4 502.1 L407.9 503.4 L408.3 503.5 L408.8 503.6 L409.2 503.2 L409.6 503.9 L410.1 505 L410.5 505.6 L411 507.3 L411.4 507.3 L411.8 508.6 L412.3 508.9 L412.7 509.5 L413.2 508.6 L413.6 507.6 L414 507.7 L414.5 507.4 L414.9 507.5 L415.4 506.5 L415.8 506.8 L416.2 507.2 L416.7 508 L417.1 507.9 L417.6 508.3 L418 507.8 L418.4 508.1 L418.9 509.5 L419.3 511.9 L419.8 514 L420.2 514.4 L420.6 514.2 L421.1 513.8 L421.5 512.8 L422 511.2 L422.4 509.2 L422.9 507.6 L423.3 506.6 L423.7 506.3 L424.2 505.9 L424.6 506.5 L425.1 507 L425.5 507.2 L425.9 507.1 L426.4 507 L426.8 507 L427.3 507.8 L427.7 507.8 L428.1 507.8 L428.6 507.1 L429 507.5 L429.5 507.6 L429.9 506.1 L430.3 504.2 L430.8 502.5 L431.2 501.7 L431.7 499.8 L432.1 498.6 L432.5 496.9 L433 497 L433.4 496.7 L433.9 496.7 L434.3 497.2 L434.7 496.9 L435.2 497.2 L435.6 495.7 L436.1 495.5 L436.5 495.2 L436.9 496.7 L437.4 497.3 L437.8 497.9 L438.3 498.5 L438.7 500.2 L439.1 501 L439.6 502.8 L440 502.9 L440.5 505.5 L440.9 505.7 L441.3 508.1 L441.8 509.4 L442.2 511.8 L442.7 513.5 L443.1 515.5 L443.5 515 L444 515.2 L444.4 515.5 L444.9 516.7 L445.3 518.2 L445.7 519.1 L446.2 520.6 L446.6 521.3 L447.1 521.5 L447.5 521.6 L447.9 521.1 L448.4 521.3" fill="none" stroke="#3e9ccc" stroke-width="1.4" stroke-linejoin="round"/>
<path d="M249.4 545.6 L249.8 546 L250.3 546.3 L250.7 546.4 L251.2 546.3 L251.6 546.4 L252 546.6 L252.5 546.3 L252.9 546.1 L253.4 545.8 L253.8 546 L254.2 546 L254.7 545.9 L255.1 545.9 L255.6 546.3 L256 546.1 L256.4 546 L256.9 545.5 L257.3 546 L257.8 545.5 L258.2 545.5 L258.6 545.2 L259.1 545.1 L259.5 545.1 L260 545.3 L260.4 545.9 L260.8 546.4 L261.3 545.7 L261.7 545.7 L262.2 545.3 L262.6 545.2 L263 545.5 L263.5 545.1 L263.9 545.9 L264.4 545.6 L264.8 546 L265.2 545.1 L265.7 544.4 L266.1 544.1 L266.6 544.3 L267 544.7 L267.4 544.5 L267.9 544.9 L268.3 545.2 L268.8 545.8 L269.2 545.5 L269.6 544.5 L270.1 543.9 L270.5 544.1 L271 544.2 L271.4 544.2 L271.8 544 L272.3 544.4 L272.7 544.5 L273.2 544.6 L273.6 545 L274 544.8 L274.5 544.7 L274.9 544 L275.4 544.2 L275.8 544.7 L276.3 545 L276.7 544.5 L277.1 544 L277.6 544.2 L278 544.9 L278.5 545.1 L278.9 544.9 L279.3 544.9 L279.8 544.2 L280.2 544.2 L280.7 543.9 L281.1 543.9 L281.5 543.4 L282 543.4 L282.4 543.7 L282.9 543.9 L283.3 543.9 L283.7 544.4 L284.2 544.4 L284.6 544.1 L285.1 543.5 L285.5 543.9 L285.9 544.2 L286.4 544.4 L286.8 544.2 L287.3 543.8 L287.7 543.3 L288.1 543 L288.6 543.2 L289 543.4 L289.5 543.5 L289.9 543.7 L290.3 544 L290.8 544 L291.2 543.4 L291.7 542.9 L292.1 543 L292.5 543.7 L293 544.1 L293.4 543.9 L293.9 543.7 L294.3 543.8 L294.7 543.8 L295.2 544 L295.6 543.3 L296.1 543.3 L296.5 542.8 L296.9 543.2 L297.4 543.4 L297.8 543.7 L298.3 543.3 L298.7 543.1 L299.1 543.5 L299.6 543.7 L300 543.9 L300.5 543.7 L300.9 543.9 L301.3 543.4 L301.8 543.4 L302.2 543.5 L302.7 543.8 L303.1 543.6 L303.5 543.4 L304 543.4 L304.4 543.3 L304.9 543.2 L305.3 543.1 L305.7 543.2 L306.2 543.4 L306.6 543.8 L307.1 544 L307.5 543.8 L307.9 544 L308.4 544.3 L308.8 544.3 L309.3 544.4 L309.7 544.4 L310.1 544.3 L310.6 544.2 L311 543.6 L311.5 543.8 L311.9 543.9 L312.4 544.3 L312.8 544.3 L313.2 544.1 L313.7 544 L314.1 544 L314.6 544.3 L315 544.1 L315.4 544.4 L315.9 544.1 L316.3 543.9 L316.8 543.2 L317.2 542.7 L317.6 543.3 L318.1 543.4 L318.5 543.5 L319 542.8 L319.4 543.3 L319.8 543.5 L320.3 543.3 L320.7 543.4 L321.2 543.4 L321.6 543.6 L322 543.4 L322.5 543.3 L322.9 543.9 L323.4 543.9 L323.8 544.3 L324.2 544 L324.7 543.8 L325.1 543.3 L325.6 543.6 L326 543.6 L326.4 543.6 L326.9 543.2 L327.3 543.5 L327.8 543.6 L328.2 543.9 L328.6 543.5 L329.1 543.5 L329.5 543.1 L330 543.2 L330.4 543.7 L330.8 544.4 L331.3 544.2 L331.7 543.8 L332.2 543.2 L332.6 543.3 L333 543.4 L333.5 543.4 L333.9 543.7 L334.4 544.1 L334.8 543.8 L335.2 544.1 L335.7 543.4 L336.1 543.7 L336.6 543.2 L337 543.8 L337.4 543.7 L337.9 544.1 L338.3 544.1 L338.8 544.4 L339.2 543.8 L339.6 543.4 L340.1 543.1 L340.5 543.4 L341 543.6 L341.4 544 L341.8 544 L342.3 543.8 L342.7 543.6 L343.2 543.4 L343.6 543.7 L344 543.8 L344.5 543.9 L344.9 543.8 L345.4 543.5 L345.8 543.5 L346.2 543 L346.7 543.2 L347.1 543.3 L347.6 544 L348 543.9 L348.5 543.7 L348.9 543.6 L349.3 543.6 L349.8 543.6 L350.2 543.5 L350.7 543.6 L351.1 543.5 L351.5 543.5 L352 543.2 L352.4 543.2 L352.9 542.9 L353.3 543.1 L353.7 543.5 L354.2 543.8 L354.6 543.7 L355.1 544 L355.5 543.8 L355.9 543.8 L356.4 543.1 L356.8 543.7 L357.3 543.4 L357.7 543.7 L358.1 543.4 L358.6 544.1 L359 544 L359.5 544.1 L359.9 543.7 L360.3 543.6 L360.8 543.5 L361.2 543.2 L361.7 543.5 L362.1 543.7 L362.5 544 L363 543.7 L363.4 543.1 L363.9 542.9 L364.3 543.5 L364.7 543.7 L365.2 543.6 L365.6 543.1 L366.1 543.3 L366.5 543.6 L366.9 543.8 L367.4 543.5 L367.8 543.6 L368.3 543.1 L368.7 543.1 L369.1 543.3 L369.6 543.5 L370 543.4 L370.5 543.4 L370.9 543.6 L371.3 544.4 L371.8 544.1 L372.2 544.1 L372.7 544.1 L373.1 544.7 L373.5 544.7 L374 543.9 L374.4 543.5 L374.9 543.3 L375.3 543.8 L375.7 544.1 L376.2 544 L376.6 543.6 L377.1 543.3 L377.5 543.2 L377.9 543.5 L378.4 543.6 L378.8 543.7 L379.3 543 L379.7 542.9 L380.1 542.7 L380.6 543.3 L381 543.2 L381.5 543.7 L381.9 544 L382.3 544 L382.8 543.7 L383.2 543.3 L383.7 543.4 L384.1 543.3 L384.6 543.6 L385 543.9 L385.4 544.5 L385.9 544.5 L386.3 543.7 L386.8 543.5 L387.2 543.4 L387.6 543.9 L388.1 543.2 L388.5 543.2 L389 543.2 L389.4 543.9 L389.8 543.6 L390.3 543.3 L390.7 543.6 L391.2 544.1 L391.6 544 L392 543.8 L392.5 543.9 L392.9 543.7 L393.4 543.5 L393.8 543.2 L394.2 543.5 L394.7 543.7 L395.1 543.8 L395.6 544.1 L396 544 L396.4 544.2 L396.9 543.8 L397.3 544.2 L397.8 543.9 L398.2 544 L398.6 543.2 L399.1 543.5 L399.5 543.8 L400 544.4 L400.4 544.4 L400.8 544.2 L401.3 543.9 L401.7 543.4 L402.2 542.9 L402.6 543.2 L403 542.7 L403.5 542.6 L403.9 542.5 L404.4 543.7 L404.8 544.3 L405.2 544.2 L405.7 544.2 L406.1 544.1 L406.6 544.2 L407 543.8 L407.4 543.7 L407.9 543.4 L408.3 543.3 L408.8 543.4 L409.2 543.8 L409.6 543.9 L410.1 543.9 L410.5 543.6 L411 543.6 L411.4 544.2 L411.8 544.2 L412.3 544.4 L412.7 543.8 L413.2 543.5 L413.6 543.1 L414 543.5 L414.5 544.3 L414.9 544 L415.4 543.7 L415.8 543.2 L416.2 543.2 L416.7 543.2 L417.1 543.5 L417.6 543.9 L418 544.7 L418.4 545 L418.9 544.8 L419.3 544.1 L419.8 543.6 L420.2 543.6 L420.6 543.5 L421.1 543.4 L421.5 543.6 L422 543.7 L422.4 544.3 L422.9 543.8 L423.3 543.8 L423.7 543.2 L424.2 543.1 L424.6 542.8 L425.1 542.9 L425.5 543.1 L425.9 543.8 L426.4 543.7 L426.8 543.8 L427.3 543.9 L427.7 543.6 L428.1 543.9 L428.6 543.3 L429 543.7 L429.5 543.3 L429.9 543.1 L430.3 543.2 L430.8 543.9 L431.2 544.2 L431.7 543.8 L432.1 543.5 L432.5 543.6 L433 543.7 L433.4 544.3 L433.9 544.4 L434.3 544.8 L434.7 544 L435.2 544.1 L435.6 544 L436.1 544.2 L436.5 544.4 L436.9 544 L437.4 544 L437.8 543.6 L438.3 543.5 L438.7 542.8 L439.1 542.5 L439.6 542.1 L440 542.2 L440.5 542.5 L440.9 542.7 L441.3 543.1 L441.8 543 L442.2 543.4 L442.7 543.7 L443.1 543.5 L443.5 542.9 L444 542.9 L444.4 543 L444.9 543.6 L445.3 543.2 L445.7 543.2 L446.2 542.8 L446.6 543.7 L447.1 543.9 L447.5 544.4 L447.9 543.7 L448.4 543.5" fill="none" stroke="#d04848" stroke-width="1.3" stroke-linejoin="round"/>
<path d="M249.4 549.2 L249.8 549.7 L250.3 550 L250.7 550.8 L251.2 549.6 L251.6 548.8 L252 547.5 L252.5 547.9 L252.9 548 L253.4 548.8 L253.8 548.4 L254.2 548.9 L254.7 548.7 L255.1 549.2 L255.6 549 L256 548.6 L256.4 548.5 L256.9 548.2 L257.3 548.4 L257.8 547.9 L258.2 548 L258.6 547.9 L259.1 548.1 L259.5 548.3 L260 548.3 L260.4 548.2 L260.8 547.4 L261.3 547.2 L261.7 547.4 L262.2 547.3 L262.6 547.3 L263 547 L263.5 547.3 L263.9 547.2 L264.4 547.3 L264.8 547.1 L265.2 547.4 L265.7 547.3 L266.1 547.4 L266.6 547.3 L267 547.1 L267.4 546.9 L267.9 546.6 L268.3 546.6 L268.8 546.4 L269.2 545.9 L269.6 545.6 L270.1 546.5 L270.5 546.5 L271 547.2 L271.4 546.8 L271.8 547 L272.3 546.8 L272.7 545.9 L273.2 545.7 L273.6 545.5 L274 546.2 L274.5 546.2 L274.9 545.7 L275.4 545.2 L275.8 544.7 L276.3 544.8 L276.7 544.6 L277.1 545.1 L277.6 545 L278 545.3 L278.5 545.6 L278.9 545 L279.3 545 L279.8 544.4 L280.2 544.7 L280.7 544.6 L281.1 544.5 L281.5 544.7 L282 545 L282.4 544.7 L282.9 544.7 L283.3 544.5 L283.7 544.6 L284.2 544.6 L284.6 544.6 L285.1 544.8 L285.5 544.9 L285.9 544.5 L286.4 544.4 L286.8 544.2 L287.3 544.6 L287.7 544.6 L288.1 545 L288.6 544.5 L289 544.8 L289.5 545.1 L289.9 545.3 L290.3 544.3 L290.8 543.4 L291.2 543.3 L291.7 543.3 L292.1 543.6 L292.5 543.6 L293 544 L293.4 543.8 L293.9 543.8 L294.3 544.1 L294.7 544.1 L295.2 543.8 L295.6 544 L296.1 544.1 L296.5 544 L296.9 543 L297.4 543.3 L297.8 543.5 L298.3 543.7 L298.7 543.2 L299.1 543.5 L299.6 543.5 L300 543.6 L300.5 543.6 L300.9 544.1 L301.3 544.3 L301.8 544.7 L302.2 544.3 L302.7 543.5 L303.1 542.8 L303.5 543.2 L304 543.5 L304.4 543.6 L304.9 544 L305.3 544.4 L305.7 544.2 L306.2 543.9 L306.6 544 L307.1 544.5 L307.5 544.1 L307.9 544.1 L308.4 543.5 L308.8 543.6 L309.3 543.4 L309.7 543.8 L310.1 543.9 L310.6 543.5 L311 543.4 L311.5 543.1 L311.9 542.9 L312.4 543.1 L312.8 543.5 L313.2 544 L313.7 544 L314.1 543.9 L314.6 544.3 L315 544.2 L315.4 544.2 L315.9 543.6 L316.3 544 L316.8 544.1 L317.2 544.3 L317.6 544 L318.1 544.4 L318.5 544.3 L319 544.2 L319.4 543.8 L319.8 543.9 L320.3 543.9 L320.7 543 L321.2 542.6 L321.6 542.6 L322 543.3 L322.5 543.2 L322.9 543.2 L323.4 543.5 L323.8 543.6 L324.2 543.5 L324.7 543.5 L325.1 543.5 L325.6 543.4 L326 542.9 L326.4 543 L326.9 542.8 L327.3 542.8 L327.8 542.9 L328.2 543.9 L328.6 544.2 L329.1 544.2 L329.5 543.7 L330 543.7 L330.4 543.3 L330.8 543 L331.3 542.6 L331.7 543.4 L332.2 543.6 L332.6 543.6 L333 543.5 L333.5 543 L333.9 543.6 L334.4 543.6 L334.8 543.7 L335.2 543.9 L335.7 543.6 L336.1 544.3 L336.6 544 L337 544.2 L337.4 543.9 L337.9 543.5 L338.3 543.5 L338.8 543.6 L339.2 544 L339.6 543.9 L340.1 544.5 L340.5 544 L341 544 L341.4 543 L341.8 542.8 L342.3 543.3 L342.7 543.5 L343.2 544 L343.6 543.8 L344 543.7 L344.5 543.4 L344.9 543.2 L345.4 543.4 L345.8 543.5 L346.2 543.9 L346.7 544 L347.1 543.9 L347.6 543.9 L348 543.9 L348.5 543.9 L348.9 543.6 L349.3 543.6 L349.8 543.8 L350.2 543.4 L350.7 543.5 L351.1 543.9 L351.5 544.2 L352 544.2 L352.4 543.9 L352.9 544.1 L353.3 544.1 L353.7 544 L354.2 543.8 L354.6 543.9 L355.1 543.6 L355.5 543.3 L355.9 543.1 L356.4 543.3 L356.8 543.3 L357.3 543.5 L357.7 543.9 L358.1 544.4 L358.6 544 L359 543.6 L359.5 543.5 L359.9 543.9 L360.3 543.8 L360.8 543.6 L361.2 543.3 L361.7 543.5 L362.1 543.9 L362.5 543.8 L363 544.1 L363.4 543.6 L363.9 543.7 L364.3 543.5 L364.7 543.8 L365.2 543.8 L365.6 543.8 L366.1 544 L366.5 543.3 L366.9 543.6 L367.4 543.6 L367.8 543.9 L368.3 543.7 L368.7 543.3 L369.1 543.4 L369.6 543.4 L370 543.6 L370.5 543.2 L370.9 543.3 L371.3 543.3 L371.8 543.5 L372.2 543.2 L372.7 543.7 L373.1 543.6 L373.5 543.4 L374 543.5 L374.4 543.8 L374.9 543.5 L375.3 543.5 L375.7 543.9 L376.2 544.4 L376.6 544.2 L377.1 543.5 L377.5 543.5 L377.9 543 L378.4 543.3 L378.8 543.2 L379.3 543.4 L379.7 543.3 L380.1 543.9 L380.6 544 L381 544 L381.5 543.5 L381.9 543.4 L382.3 543.2 L382.8 543.2 L383.2 543.8 L383.7 544.6 L384.1 544.5 L384.6 544.3 L385 543.8 L385.4 544.5 L385.9 544.3 L386.3 544.6 L386.8 544 L387.2 543.5 L387.6 543.1 L388.1 542.8 L388.5 543.3 L389 543.1 L389.4 543.3 L389.8 543.4 L390.3 543.3 L390.7 543.7 L391.2 543.8 L391.6 544 L392 543.6 L392.5 542.9 L392.9 543 L393.4 543.1 L393.8 543.5 L394.2 543.9 L394.7 543.5 L395.1 543.7 L395.6 543.1 L396 543.7 L396.4 544 L396.9 544.2 L397.3 544 L397.8 543.5 L398.2 543.7 L398.6 543 L399.1 543.1 L399.5 543.2 L400 543.9 L400.4 543.6 L400.8 543.2 L401.3 543.5 L401.7 543.9 L402.2 543.8 L402.6 543.2 L403 543.2 L403.5 543.1 L403.9 543.6 L404.4 542.9 L404.8 543.3 L405.2 543.5 L405.7 544.1 L406.1 544 L406.6 543.5 L407 543.2 L407.4 543 L407.9 543.4 L408.3 543.7 L408.8 543.9 L409.2 543.7 L409.6 543.8 L410.1 543.9 L410.5 543.2 L411 543.2 L411.4 543.5 L411.8 544.3 L412.3 543.9 L412.7 543.3 L413.2 543.4 L413.6 543.4 L414 543 L414.5 543.1 L414.9 543.4 L415.4 543.8 L415.8 543.1 L416.2 543 L416.7 543 L417.1 543.6 L417.6 543.3 L418 543.7 L418.4 543.9 L418.9 544.3 L419.3 544.1 L419.8 543.8 L420.2 544 L420.6 543.9 L421.1 543.8 L421.5 543.8 L422 543.7 L422.4 543.4 L422.9 543.5 L423.3 543.7 L423.7 544 L424.2 543.7 L424.6 543.5 L425.1 543.1 L425.5 543.3 L425.9 543.4 L426.4 543.8 L426.8 543.5 L427.3 543.5 L427.7 543.4 L428.1 543.5 L428.6 544 L429 544.2 L429.5 544.3 L429.9 543.5 L430.3 543.4 L430.8 543.3 L431.2 543.4 L431.7 543.4 L432.1 543.4 L432.5 543.8 L433 543.1 L433.4 543.2 L433.9 542.8 L434.3 543.5 L434.7 543.5 L435.2 543.8 L435.6 543.3 L436.1 543.7 L436.5 543.1 L436.9 543.3 L437.4 542.7 L437.8 543 L438.3 542.5 L438.7 542.1 L439.1 541.4 L439.6 541.1 L440 541.5 L440.5 542.5 L440.9 542.9 L441.3 543.5 L441.8 543.1 L442.2 543.9 L442.7 543.9 L443.1 543.4 L443.5 542.6 L444 542.5 L444.4 543.2 L444.9 543.3 L445.3 543.9 L445.7 543.3 L446.2 543.7 L446.6 543.3 L447.1 543.6 L447.5 543.6 L447.9 543.6 L448.4 543.8" fill="none" stroke="#3c5c94" stroke-width="1.4" stroke-linejoin="round"/>
<line x1="286.5" y1="415.2" x2="304.5" y2="415.2" stroke="#d04848" stroke-width="1.5"/>
<text x="306.7" y="417.8" font-size="7.2" text-anchor="start" fill="#111">1 fs</text>
<line x1="329" y1="415.2" x2="347" y2="415.2" stroke="#3c5c94" stroke-width="1.5"/>
<text x="349.2" y="417.8" font-size="7.2" text-anchor="start" fill="#111">50 fs</text>
<line x1="372" y1="415.2" x2="390" y2="415.2" stroke="#3e9ccc" stroke-width="1.5"/>
<text x="392.2" y="417.8" font-size="7.2" text-anchor="start" fill="#111">500 fs</text>
<line x1="286.5" y1="425.4" x2="304.5" y2="425.4" stroke="#d6ecf2" stroke-width="1.5"/>
<text x="306.7" y="428" font-size="7.2" text-anchor="start" fill="#111">1 ps</text>
<line x1="329" y1="425.4" x2="347" y2="425.4" stroke="#a47c48" stroke-width="1.5"/>
<text x="349.2" y="428" font-size="7.2" text-anchor="start" fill="#111">5 ps</text>
<line x1="372" y1="425.4" x2="390" y2="425.4" stroke="#ead9b0" stroke-width="1.5"/>
<text x="392.2" y="428" font-size="7.2" text-anchor="start" fill="#111">100 ps</text>
<text x="461.8" y="407.6" font-size="17" fill="#000">i</text>
<rect x="473.8" y="404.3" width="198.8" height="159.8" fill="none" stroke="#000" stroke-width="1.5"/>
<line x1="483.5" y1="564.1" x2="483.5" y2="566.9" stroke="#000" stroke-width="1.2"/>
<text x="483.5" y="576.6" font-size="8.9" text-anchor="middle" fill="#111">0</text>
<line x1="530.6" y1="564.1" x2="530.6" y2="566.9" stroke="#000" stroke-width="1.2"/>
<text x="530.6" y="576.6" font-size="8.9" text-anchor="middle" fill="#111">50</text>
<line x1="577.8" y1="564.1" x2="577.8" y2="566.9" stroke="#000" stroke-width="1.2"/>
<text x="577.8" y="576.6" font-size="8.9" text-anchor="middle" fill="#111">100</text>
<line x1="624.9" y1="564.1" x2="624.9" y2="566.9" stroke="#000" stroke-width="1.2"/>
<text x="624.9" y="576.6" font-size="8.9" text-anchor="middle" fill="#111">150</text>
<line x1="672" y1="564.1" x2="672" y2="566.9" stroke="#000" stroke-width="1.2"/>
<text x="672" y="576.6" font-size="8.9" text-anchor="middle" fill="#111">200</text>
<line x1="507.1" y1="564.1" x2="507.1" y2="565.9" stroke="#000" stroke-width="1.1"/>
<line x1="554.2" y1="564.1" x2="554.2" y2="565.9" stroke="#000" stroke-width="1.1"/>
<line x1="601.3" y1="564.1" x2="601.3" y2="565.9" stroke="#000" stroke-width="1.1"/>
<line x1="648.4" y1="564.1" x2="648.4" y2="565.9" stroke="#000" stroke-width="1.1"/>
<text x="464.0" y="482.0" font-size="10.5" text-anchor="middle" fill="#111" transform="rotate(-90 464.0 482.0)" dy="3.8"><tspan font-family="Liberation Serif" font-weight="normal">ΔA</tspan> (OD)</text>
<text x="0" y="3.8" font-size="10.5" text-anchor="middle" fill="#111" transform="translate(573.6 584) scale(1 0.9)">Time (ps)</text>
<path d="M473.1 556.5 L483.5 556.5 L483.5 492.2 L483.7 500.5 L483.9 506.8 L484.1 511.6 L484.3 515.2 L484.4 518 L484.6 520 L484.8 521.6 L485 522.8 L485.2 523.8 L485.4 524.5 L485.6 525 L485.8 525.5 L486 525.8 L486.1 526.1 L486.3 526.3 L486.5 526.5 L486.7 526.7 L486.9 526.8 L487.1 526.9 L487.3 527 L487.5 527.1 L487.6 527.1 L487.8 527.2 L488 527.3 L488.2 527.3 L488.4 527.4 L488.6 527.4 L488.8 527.4 L489 527.5 L489.2 527.5 L489.3 527.6 L489.5 527.6 L489.7 527.6 L489.9 527.6 L490.1 527.7 L490.3 527.7 L490.5 527.7 L490.7 527.8 L490.9 527.8 L491 527.8 L491.2 527.8 L491.4 527.8 L491.6 527.9 L491.8 527.9 L492 527.9 L492.2 527.9 L492.4 527.9 L492.5 527.9 L492.7 527.9 L492.9 528 L493.1 528 L493.3 528 L493.5 528 L493.7 528 L493.9 528 L494.1 528 L494.2 528 L494.4 528 L494.6 528 L494.8 528.1 L495 528.1 L495.2 528.1 L495.4 528.1 L495.6 528.1 L495.8 528.1 L495.9 528.1 L496.1 528.1 L496.3 528.1 L496.5 528.1 L496.7 528.1 L496.9 528.1 L497.1 528.1 L497.3 528.1 L497.4 528.1 L497.6 528.1 L497.8 528.1 L498 528.1 L498.2 528.1 L498.4 528.1 L498.6 528.1 L498.8 528.1 L499 528.2 L499.1 528.2 L499.3 528.2 L499.5 528.2 L499.7 528.2 L499.9 528.2 L500.1 528.2 L500.3 528.2 L500.5 528.2 L500.7 528.2 L500.8 528.2 L501 528.2 L501.2 528.2 L501.4 528.2 L501.6 528.2 L501.8 528.2 L502 528.2 L502.2 528.2 L502.3 528.2 L502.5 528.2 L504.4 528.2 L506.3 528.2 L508.2 528.2 L510.1 528.2 L512 528.2 L513.8 528.2 L515.7 528.2 L517.6 528.2 L519.5 528.2 L521.4 528.2 L523.3 528.2 L525.2 528.2 L527 528.2 L528.9 528.2 L530.8 528.2 L532.7 528.2 L534.6 528.2 L536.5 528.2 L538.4 528.2 L540.2 528.2 L542.1 528.2 L544 528.2 L545.9 528.2 L547.8 528.2 L549.7 528.2 L551.5 528.2 L553.4 528.2 L555.3 528.2 L557.2 528.2 L559.1 528.2 L561 528.2 L562.9 528.2 L564.7 528.2 L566.6 528.2 L568.5 528.2 L570.4 528.2 L572.3 528.2 L574.2 528.2 L576.1 528.2 L577.9 528.2 L579.8 528.2 L581.7 528.2 L583.6 528.2 L585.5 528.2 L587.4 528.2 L589.2 528.2 L591.1 528.2 L593 528.2 L594.9 528.2 L596.8 528.2 L598.7 528.2 L600.6 528.2 L602.4 528.2 L604.3 528.2 L606.2 528.2 L608.1 528.2 L610 528.2 L611.9 528.2 L613.8 528.2 L615.6 528.2 L617.5 528.2 L619.4 528.2 L621.3 528.2 L623.2 528.2 L625.1 528.2 L626.9 528.2 L628.8 528.2 L630.7 528.2 L632.6 528.2 L634.5 528.2 L636.4 528.2 L638.3 528.2 L640.1 528.2 L642 528.2 L643.9 528.2 L645.8 528.2 L647.7 528.2 L649.6 528.2 L651.5 528.2 L653.3 528.2 L655.2 528.2 L657.1 528.2 L659 528.2 L660.9 528.2 L662.8 528.2 L664.6 528.2 L666.5 528.2 L668.4 528.2 L670.3 528.2" fill="none" stroke="#3f78e6" stroke-width="1.2" stroke-linejoin="round"/>
<path d="M473.1 556.5 L483.5 556.5 L483.5 431 L483.7 442.4 L483.9 451.7 L484.1 459.4 L484.3 465.7 L484.4 470.9 L484.6 475.1 L484.8 478.6 L485 481.5 L485.2 483.9 L485.4 485.9 L485.6 487.6 L485.8 488.9 L486 490.1 L486.1 491 L486.3 491.8 L486.5 492.5 L486.7 493.1 L486.9 493.6 L487.1 494 L487.3 494.4 L487.5 494.7 L487.6 495 L487.8 495.2 L488 495.5 L488.2 495.7 L488.4 495.9 L488.6 496 L488.8 496.2 L489 496.3 L489.2 496.5 L489.3 496.6 L489.5 496.7 L489.7 496.9 L489.9 497 L490.1 497.1 L490.3 497.2 L490.5 497.3 L490.7 497.4 L490.9 497.5 L491 497.6 L491.2 497.7 L491.4 497.8 L491.6 497.9 L491.8 498 L492 498.1 L492.2 498.2 L492.4 498.3 L492.5 498.4 L492.7 498.5 L492.9 498.6 L493.1 498.7 L493.3 498.8 L493.5 498.9 L493.7 499 L493.9 499.1 L494.1 499.1 L494.2 499.2 L494.4 499.3 L494.6 499.4 L494.8 499.5 L495 499.6 L495.2 499.6 L495.4 499.7 L495.6 499.8 L495.8 499.9 L495.9 500 L496.1 500.1 L496.3 500.1 L496.5 500.2 L496.7 500.3 L496.9 500.4 L497.1 500.4 L497.3 500.5 L497.4 500.6 L497.6 500.7 L497.8 500.7 L498 500.8 L498.2 500.9 L498.4 501 L498.6 501 L498.8 501.1 L499 501.2 L499.1 501.2 L499.3 501.3 L499.5 501.4 L499.7 501.5 L499.9 501.5 L500.1 501.6 L500.3 501.7 L500.5 501.7 L500.7 501.8 L500.8 501.9 L501 501.9 L501.2 502 L501.4 502 L501.6 502.1 L501.8 502.2 L502 502.2 L502.2 502.3 L502.3 502.4 L502.5 502.4 L504.4 503 L506.3 503.5 L508.2 504 L510.1 504.5 L512 504.9 L513.8 505.3 L515.7 505.7 L517.6 506 L519.5 506.3 L521.4 506.6 L523.3 506.9 L525.2 507.1 L527 507.3 L528.9 507.5 L530.8 507.7 L532.7 507.9 L534.6 508.1 L536.5 508.2 L538.4 508.3 L540.2 508.5 L542.1 508.6 L544 508.7 L545.9 508.8 L547.8 508.9 L549.7 509 L551.5 509.1 L553.4 509.1 L555.3 509.2 L557.2 509.3 L559.1 509.3 L561 509.4 L562.9 509.4 L564.7 509.5 L566.6 509.5 L568.5 509.5 L570.4 509.6 L572.3 509.6 L574.2 509.6 L576.1 509.7 L577.9 509.7 L579.8 509.7 L581.7 509.7 L583.6 509.8 L585.5 509.8 L587.4 509.8 L589.2 509.8 L591.1 509.8 L593 509.8 L594.9 509.8 L596.8 509.9 L598.7 509.9 L600.6 509.9 L602.4 509.9 L604.3 509.9 L606.2 509.9 L608.1 509.9 L610 509.9 L611.9 509.9 L613.8 509.9 L615.6 509.9 L617.5 509.9 L619.4 509.9 L621.3 510 L623.2 510 L625.1 510 L626.9 510 L628.8 510 L630.7 510 L632.6 510 L634.5 510 L636.4 510 L638.3 510 L640.1 510 L642 510 L643.9 510 L645.8 510 L647.7 510 L649.6 510 L651.5 510 L653.3 510 L655.2 510 L657.1 510 L659 510 L660.9 510 L662.8 510 L664.6 510 L666.5 510 L668.4 510 L670.3 510" fill="none" stroke="#ec3c44" stroke-width="1.2" stroke-linejoin="round"/>
<g fill="#aac4f4" stroke="#3f78e6" stroke-width="1.0"><circle cx="474.1" cy="556.5" r="2.1"/><circle cx="476" cy="556.5" r="2.1"/><circle cx="477.8" cy="556.5" r="2.1"/><circle cx="479.7" cy="556.5" r="2.1"/><circle cx="481.6" cy="556.5" r="2.1"/><circle cx="482.6" cy="556.5" r="2.1"/><circle cx="483" cy="556.5" r="2.1"/><circle cx="483.5" cy="492.2" r="2.1"/><circle cx="483.6" cy="498.7" r="2.1"/><circle cx="483.8" cy="503.9" r="2.1"/><circle cx="483.9" cy="508.2" r="2.1"/><circle cx="484.1" cy="511.6" r="2.1"/><circle cx="484.2" cy="514.4" r="2.1"/><circle cx="484.3" cy="516.7" r="2.1"/><circle cx="484.5" cy="518.5" r="2.1"/><circle cx="484.6" cy="520" r="2.1"/><circle cx="484.8" cy="521.3" r="2.1"/><circle cx="484.9" cy="522.3" r="2.1"/><circle cx="485.1" cy="523.1" r="2.1"/><circle cx="485.2" cy="523.8" r="2.1"/><circle cx="485.3" cy="524.3" r="2.1"/><circle cx="485.5" cy="524.3" r="2.1"/><circle cx="485.6" cy="524.1" r="2.1"/><circle cx="485.8" cy="525.9" r="2.1"/><circle cx="485.9" cy="524.5" r="2.1"/><circle cx="486" cy="526.1" r="2.1"/><circle cx="486.2" cy="525.8" r="2.1"/><circle cx="486.3" cy="525" r="2.1"/><circle cx="486.5" cy="526.5" r="2.1"/><circle cx="486.9" cy="525.4" r="2.1"/><circle cx="487.3" cy="526.8" r="2.1"/><circle cx="487.7" cy="525.9" r="2.1"/><circle cx="488.2" cy="526.1" r="2.1"/><circle cx="488.6" cy="527.2" r="2.1"/><circle cx="489" cy="528.5" r="2.1"/><circle cx="489.4" cy="526.4" r="2.1"/><circle cx="489.9" cy="526.8" r="2.1"/><circle cx="490.3" cy="528.1" r="2.1"/><circle cx="490.7" cy="529.1" r="2.1"/><circle cx="491.1" cy="528" r="2.1"/><circle cx="491.6" cy="527.5" r="2.1"/><circle cx="492" cy="529.3" r="2.1"/><circle cx="492.4" cy="526.6" r="2.1"/><circle cx="492.8" cy="529" r="2.1"/><circle cx="493.3" cy="527.3" r="2.1"/><circle cx="493.7" cy="526.9" r="2.1"/><circle cx="494.1" cy="526.9" r="2.1"/><circle cx="494.5" cy="527.5" r="2.1"/><circle cx="495" cy="529" r="2.1"/><circle cx="497.1" cy="527.2" r="2.1"/><circle cx="499.3" cy="528.4" r="2.1"/><circle cx="501.5" cy="528.6" r="2.1"/><circle cx="503.6" cy="527.8" r="2.1"/><circle cx="505.8" cy="528.3" r="2.1"/><circle cx="508" cy="526.9" r="2.1"/><circle cx="510.1" cy="526.9" r="2.1"/><circle cx="512.3" cy="527.3" r="2.1"/><circle cx="514.5" cy="528.7" r="2.1"/><circle cx="516.6" cy="528" r="2.1"/><circle cx="518.8" cy="527.6" r="2.1"/><circle cx="521" cy="528.5" r="2.1"/><circle cx="523.1" cy="528.1" r="2.1"/><circle cx="525.3" cy="527.6" r="2.1"/><circle cx="527.5" cy="529.1" r="2.1"/><circle cx="529.6" cy="528.8" r="2.1"/><circle cx="531.8" cy="527.4" r="2.1"/><circle cx="534" cy="528.4" r="2.1"/><circle cx="536.1" cy="528.3" r="2.1"/><circle cx="538.3" cy="529.3" r="2.1"/><circle cx="540.5" cy="528.9" r="2.1"/><circle cx="542.6" cy="527.6" r="2.1"/><circle cx="544.8" cy="529.6" r="2.1"/><circle cx="547" cy="527.1" r="2.1"/><circle cx="549.1" cy="528" r="2.1"/><circle cx="551.3" cy="529" r="2.1"/><circle cx="553.5" cy="527.2" r="2.1"/><circle cx="555.6" cy="528.2" r="2.1"/><circle cx="557.8" cy="526.8" r="2.1"/><circle cx="560" cy="528.7" r="2.1"/><circle cx="562.2" cy="529" r="2.1"/><circle cx="564.3" cy="528.4" r="2.1"/><circle cx="566.5" cy="529.3" r="2.1"/><circle cx="568.7" cy="527.6" r="2.1"/><circle cx="570.8" cy="528.8" r="2.1"/><circle cx="573" cy="528.5" r="2.1"/><circle cx="575.2" cy="528.4" r="2.1"/><circle cx="577.3" cy="528.1" r="2.1"/><circle cx="579.5" cy="529.2" r="2.1"/><circle cx="581.7" cy="529.5" r="2.1"/><circle cx="583.8" cy="528.1" r="2.1"/><circle cx="586" cy="528.7" r="2.1"/><circle cx="588.2" cy="526.9" r="2.1"/><circle cx="590.3" cy="528.8" r="2.1"/><circle cx="592.5" cy="528.6" r="2.1"/><circle cx="594.7" cy="529.7" r="2.1"/><circle cx="596.8" cy="529.2" r="2.1"/><circle cx="599" cy="527.6" r="2.1"/><circle cx="601.2" cy="527.9" r="2.1"/><circle cx="603.3" cy="528.7" r="2.1"/><circle cx="605.5" cy="526.8" r="2.1"/><circle cx="607.7" cy="528.1" r="2.1"/><circle cx="609.8" cy="527.2" r="2.1"/><circle cx="612" cy="527.1" r="2.1"/><circle cx="614.2" cy="526.9" r="2.1"/><circle cx="616.3" cy="529" r="2.1"/><circle cx="618.5" cy="527.1" r="2.1"/><circle cx="620.7" cy="527.4" r="2.1"/><circle cx="622.8" cy="527.9" r="2.1"/><circle cx="625" cy="529.3" r="2.1"/><circle cx="627.2" cy="526.9" r="2.1"/><circle cx="629.4" cy="528" r="2.1"/><circle cx="631.5" cy="528.3" r="2.1"/><circle cx="633.7" cy="529.4" r="2.1"/><circle cx="635.9" cy="529.2" r="2.1"/><circle cx="638" cy="529.3" r="2.1"/><circle cx="640.2" cy="527.5" r="2.1"/><circle cx="642.4" cy="527.9" r="2.1"/><circle cx="644.5" cy="527.8" r="2.1"/><circle cx="646.7" cy="529.4" r="2.1"/><circle cx="648.9" cy="529.6" r="2.1"/><circle cx="651" cy="527.2" r="2.1"/><circle cx="653.2" cy="527.2" r="2.1"/><circle cx="655.4" cy="527.4" r="2.1"/><circle cx="657.5" cy="527.4" r="2.1"/><circle cx="659.7" cy="528.2" r="2.1"/><circle cx="661.9" cy="528.5" r="2.1"/><circle cx="664" cy="527.5" r="2.1"/><circle cx="666.2" cy="526.7" r="2.1"/><circle cx="668.4" cy="528" r="2.1"/><circle cx="670.5" cy="527.8" r="2.1"/></g>
<g fill="#f4a8aa" stroke="#ec3c44" stroke-width="1.0"><circle cx="474.1" cy="556.5" r="2.1"/><circle cx="476" cy="556.5" r="2.1"/><circle cx="477.8" cy="556.5" r="2.1"/><circle cx="479.7" cy="556.5" r="2.1"/><circle cx="481.6" cy="556.5" r="2.1"/><circle cx="482.6" cy="556.5" r="2.1"/><circle cx="483" cy="556.5" r="2.1"/><circle cx="483.5" cy="431" r="2.1"/><circle cx="483.6" cy="439.7" r="2.1"/><circle cx="483.8" cy="447.3" r="2.1"/><circle cx="483.9" cy="453.8" r="2.1"/><circle cx="484.1" cy="459.4" r="2.1"/><circle cx="484.2" cy="464.2" r="2.1"/><circle cx="484.3" cy="468.4" r="2.1"/><circle cx="484.5" cy="472" r="2.1"/><circle cx="484.6" cy="475.1" r="2.1"/><circle cx="484.8" cy="477.8" r="2.1"/><circle cx="484.9" cy="480.2" r="2.1"/><circle cx="485.1" cy="482.2" r="2.1"/><circle cx="485.2" cy="483.9" r="2.1"/><circle cx="485.3" cy="485.5" r="2.1"/><circle cx="485.5" cy="487" r="2.1"/><circle cx="485.6" cy="489.3" r="2.1"/><circle cx="485.8" cy="489.5" r="2.1"/><circle cx="485.9" cy="489.9" r="2.1"/><circle cx="486" cy="490.9" r="2.1"/><circle cx="486.2" cy="491.8" r="2.1"/><circle cx="486.3" cy="490.5" r="2.1"/><circle cx="486.5" cy="493.6" r="2.1"/><circle cx="486.9" cy="494.4" r="2.1"/><circle cx="487.3" cy="495.6" r="2.1"/><circle cx="487.7" cy="496" r="2.1"/><circle cx="488.2" cy="495.3" r="2.1"/><circle cx="488.6" cy="495.7" r="2.1"/><circle cx="489" cy="495.2" r="2.1"/><circle cx="489.4" cy="497.1" r="2.1"/><circle cx="489.9" cy="495.6" r="2.1"/><circle cx="490.3" cy="495.9" r="2.1"/><circle cx="490.7" cy="496.6" r="2.1"/><circle cx="491.1" cy="496.7" r="2.1"/><circle cx="491.6" cy="497.4" r="2.1"/><circle cx="492" cy="496.8" r="2.1"/><circle cx="492.4" cy="496.8" r="2.1"/><circle cx="492.8" cy="497.5" r="2.1"/><circle cx="493.3" cy="497.6" r="2.1"/><circle cx="493.7" cy="498.6" r="2.1"/><circle cx="494.1" cy="497.7" r="2.1"/><circle cx="494.5" cy="500.5" r="2.1"/><circle cx="495" cy="499.9" r="2.1"/><circle cx="497.1" cy="499.4" r="2.1"/><circle cx="499.3" cy="500.6" r="2.1"/><circle cx="501.5" cy="501.6" r="2.1"/><circle cx="503.6" cy="502.4" r="2.1"/><circle cx="505.8" cy="502.3" r="2.1"/><circle cx="508" cy="505" r="2.1"/><circle cx="510.1" cy="506" r="2.1"/><circle cx="512.3" cy="504.9" r="2.1"/><circle cx="514.5" cy="505.4" r="2.1"/><circle cx="516.6" cy="504.6" r="2.1"/><circle cx="518.8" cy="505" r="2.1"/><circle cx="521" cy="506.1" r="2.1"/><circle cx="523.1" cy="506.1" r="2.1"/><circle cx="525.3" cy="508.1" r="2.1"/><circle cx="527.5" cy="506.4" r="2.1"/><circle cx="529.6" cy="506.2" r="2.1"/><circle cx="531.8" cy="509.2" r="2.1"/><circle cx="534" cy="508.1" r="2.1"/><circle cx="536.1" cy="507.1" r="2.1"/><circle cx="538.3" cy="508.5" r="2.1"/><circle cx="540.5" cy="507.1" r="2.1"/><circle cx="542.6" cy="508.7" r="2.1"/><circle cx="544.8" cy="510.2" r="2.1"/><circle cx="547" cy="509.9" r="2.1"/><circle cx="549.1" cy="509.5" r="2.1"/><circle cx="551.3" cy="508.3" r="2.1"/><circle cx="553.5" cy="508.7" r="2.1"/><circle cx="555.6" cy="508.2" r="2.1"/><circle cx="557.8" cy="510.1" r="2.1"/><circle cx="560" cy="509.4" r="2.1"/><circle cx="562.2" cy="510.2" r="2.1"/><circle cx="564.3" cy="508.9" r="2.1"/><circle cx="566.5" cy="508.7" r="2.1"/><circle cx="568.7" cy="510.5" r="2.1"/><circle cx="570.8" cy="511" r="2.1"/><circle cx="573" cy="510.7" r="2.1"/><circle cx="575.2" cy="510.6" r="2.1"/><circle cx="577.3" cy="510.6" r="2.1"/><circle cx="579.5" cy="510.4" r="2.1"/><circle cx="581.7" cy="508.9" r="2.1"/><circle cx="583.8" cy="509.8" r="2.1"/><circle cx="586" cy="509.3" r="2.1"/><circle cx="588.2" cy="508.4" r="2.1"/><circle cx="590.3" cy="508.4" r="2.1"/><circle cx="592.5" cy="509.2" r="2.1"/><circle cx="594.7" cy="509.1" r="2.1"/><circle cx="596.8" cy="510.4" r="2.1"/><circle cx="599" cy="511.2" r="2.1"/><circle cx="601.2" cy="509.7" r="2.1"/><circle cx="603.3" cy="511.2" r="2.1"/><circle cx="605.5" cy="511.4" r="2.1"/><circle cx="607.7" cy="511.3" r="2.1"/><circle cx="609.8" cy="509.5" r="2.1"/><circle cx="612" cy="509.1" r="2.1"/><circle cx="614.2" cy="509.1" r="2.1"/><circle cx="616.3" cy="509" r="2.1"/><circle cx="618.5" cy="509.1" r="2.1"/><circle cx="620.7" cy="510.3" r="2.1"/><circle cx="622.8" cy="511.2" r="2.1"/><circle cx="625" cy="511" r="2.1"/><circle cx="627.2" cy="509.9" r="2.1"/><circle cx="629.4" cy="510.4" r="2.1"/><circle cx="631.5" cy="510.9" r="2.1"/><circle cx="633.7" cy="508.7" r="2.1"/><circle cx="635.9" cy="510.5" r="2.1"/><circle cx="638" cy="511.2" r="2.1"/><circle cx="640.2" cy="510.8" r="2.1"/><circle cx="642.4" cy="510.7" r="2.1"/><circle cx="644.5" cy="509.9" r="2.1"/><circle cx="646.7" cy="509" r="2.1"/><circle cx="648.9" cy="510.9" r="2.1"/><circle cx="651" cy="509.5" r="2.1"/><circle cx="653.2" cy="510.9" r="2.1"/><circle cx="655.4" cy="511.4" r="2.1"/><circle cx="657.5" cy="509.7" r="2.1"/><circle cx="659.7" cy="509.7" r="2.1"/><circle cx="661.9" cy="511.3" r="2.1"/><circle cx="664" cy="510.7" r="2.1"/><circle cx="666.2" cy="509" r="2.1"/><circle cx="668.4" cy="508.9" r="2.1"/><circle cx="670.5" cy="508.9" r="2.1"/></g>
<circle cx="505.3" cy="420.5" r="2.6" fill="#ec3c44"/>
<circle cx="505.3" cy="431.6" r="2.6" fill="#3f78e6"/>
<text x="517.2" y="423.5" font-size="8.4" text-anchor="start" fill="#111">PTT COF</text>
<text x="517.2" y="434.6" font-size="8.4" text-anchor="start" fill="#111">STT COF</text>
<line x1="497" y1="451.6" x2="514.4" y2="451.6" stroke="#ec3c44" stroke-width="1.2"/>
<line x1="497" y1="461.3" x2="514.4" y2="461.3" stroke="#3f78e6" stroke-width="1.2"/>
<text x="516.4" y="454.3" font-size="7.4" text-anchor="start" fill="#111">Fitting curve</text>
<text x="516.4" y="464" font-size="7.4" text-anchor="start" fill="#111">Fitting curve</text>
<text x="572.7" y="455" font-size="7.4" fill="#ec3c44"><tspan font-family="Liberation Serif" font-weight="normal" font-size="9">τ</tspan><tspan font-size="5" dy="1.5">1</tspan><tspan dy="-1.5">=1.544 ps</tspan></text>
<text x="572.7" y="466.7" font-size="7.4" fill="#ec3c44"><tspan font-family="Liberation Serif" font-weight="normal" font-size="9">τ</tspan><tspan font-size="5" dy="1.5">2</tspan><tspan dy="-1.5">=207.7 ps</tspan></text>
<text x="572.7" y="478.3" font-size="7.4" fill="#ec3c44"><tspan font-family="Liberation Serif" font-weight="normal" font-size="9">τ</tspan><tspan font-size="5" dy="1.5">ave</tspan><tspan dy="-1.5">=200.9 ps</tspan></text>
<text x="622.6" y="455" font-size="7.4" fill="#3f78e6"><tspan font-family="Liberation Serif" font-weight="normal" font-size="9">τ</tspan><tspan font-size="5" dy="1.5">1</tspan><tspan dy="-1.5">=526.0 fs</tspan></text>
<text x="622.6" y="466.7" font-size="7.4" fill="#3f78e6"><tspan font-family="Liberation Serif" font-weight="normal" font-size="9">τ</tspan><tspan font-size="5" dy="1.5">2</tspan><tspan dy="-1.5">=576.6 ps</tspan></text>
<text x="622.6" y="478.3" font-size="7.4" fill="#3f78e6"><tspan font-family="Liberation Serif" font-weight="normal" font-size="9">τ</tspan><tspan font-size="5" dy="1.5">ave</tspan><tspan dy="-1.5">=576.6 ps</tspan></text></svg></body></html>
